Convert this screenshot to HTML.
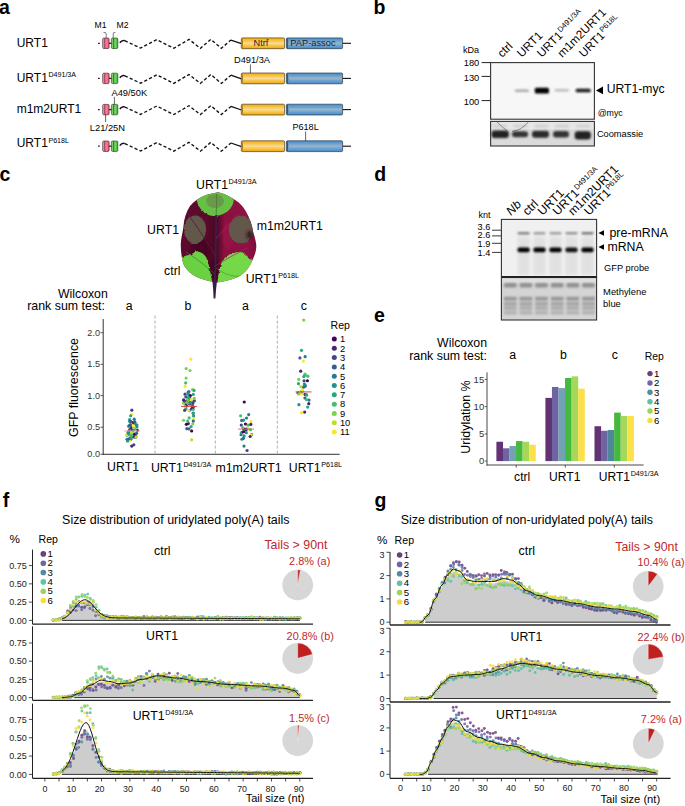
<!DOCTYPE html>
<html><head><meta charset="utf-8"><style>
html,body{margin:0;padding:0;background:#fff;}
svg{display:block;font-family:"Liberation Sans", sans-serif;}
</style></head><body>
<svg width="685" height="806" viewBox="0 0 685 806">
<defs>
<linearGradient id="gy" x1="0" y1="0" x2="0" y2="1">
 <stop offset="0" stop-color="#eeae1e"/><stop offset="0.25" stop-color="#f9c23a"/><stop offset="0.5" stop-color="#f7dc9e"/><stop offset="0.75" stop-color="#f9c23a"/><stop offset="1" stop-color="#e8a618"/></linearGradient>
<linearGradient id="gb" x1="0" y1="0" x2="0" y2="1">
 <stop offset="0" stop-color="#4e8cc4"/><stop offset="0.25" stop-color="#62a0d6"/><stop offset="0.5" stop-color="#9db5c6"/><stop offset="0.75" stop-color="#62a0d6"/><stop offset="1" stop-color="#4a88c0"/></linearGradient>
<linearGradient id="gp" x1="0" y1="0" x2="1" y2="0">
 <stop offset="0" stop-color="#f4a6b8"/><stop offset="0.28" stop-color="#f590a6"/><stop offset="0.3" stop-color="#e0587a"/><stop offset="0.6" stop-color="#f87c98"/><stop offset="1" stop-color="#e4587a"/></linearGradient>
<linearGradient id="gg" x1="0" y1="0" x2="1" y2="0">
 <stop offset="0" stop-color="#aee49e"/><stop offset="0.28" stop-color="#86d476"/><stop offset="0.3" stop-color="#42b036"/><stop offset="0.6" stop-color="#74d862"/><stop offset="1" stop-color="#40ac36"/></linearGradient>

<filter id="blur1" x="-50%" y="-200%" width="200%" height="500%"><feGaussianBlur stdDeviation="0.9 0.7"/></filter>
<filter id="blur2" x="-50%" y="-100%" width="200%" height="300%"><feGaussianBlur stdDeviation="1.2 1.0"/></filter>
<filter id="blur3" x="-50%" y="-50%" width="200%" height="200%"><feGaussianBlur stdDeviation="1.8"/></filter>
<filter id="blur05" x="-50%" y="-200%" width="200%" height="500%"><feGaussianBlur stdDeviation="1.0 0.8"/></filter>

<clipPath id="leafclip"><path d="M218.1 192.2 C222 193 226 194.5 230 197 C236 200 242 204 246 211.6 C250 219 252 225 253 231 C254.5 237 256.5 242 256.3 247 C256 253 253.5 258 251 263.5 C248 269 244 274 238 277 C231 280 224 281.5 216.7 282.5 C211 282 205 280 199 278 C192 275 186 270 183.5 264 C181.5 258 180.6 250 180.8 243.6 C181 237 183 232 183.5 226 C184 219 186 212 190 206 C194 201 200 197.5 206 195 C210 193.8 214 193 218.1 192.2 Z"/></clipPath>
<linearGradient id="leafbg" x1="0" y1="0" x2="1" y2="0"><stop offset="0" stop-color="#5a0c2e"/><stop offset="0.35" stop-color="#5c0a2a"/><stop offset="0.46" stop-color="#4a0822"/><stop offset="0.55" stop-color="#8a1040"/><stop offset="0.8" stop-color="#8e1244"/><stop offset="1" stop-color="#6a0c34"/></linearGradient>
<filter id="lf" x="-10%" y="-10%" width="120%" height="120%"><feTurbulence type="fractalNoise" baseFrequency="0.35" numOctaves="2" seed="3" result="n"/><feDisplacementMap in="SourceGraphic" in2="n" scale="2.6" xChannelSelector="R" yChannelSelector="G" result="d"/><feGaussianBlur in="d" stdDeviation="0.35"/></filter>
<filter id="lf2" x="-30%" y="-30%" width="160%" height="160%"><feGaussianBlur stdDeviation="1.6"/></filter>
</defs>
<rect width="685" height="806" fill="#fff"/>
<text x="-1" y="13.8" font-size="19.5" fill="#000" font-weight="bold">a</text>
<text x="373.6" y="13.6" font-size="19.5" fill="#000" font-weight="bold">b</text>
<text x="-0.6" y="181.3" font-size="19.5" fill="#000" font-weight="bold">c</text>
<text x="374.2" y="180.8" font-size="19.5" fill="#000" font-weight="bold">d</text>
<text x="374" y="322" font-size="19.5" fill="#000" font-weight="bold">e</text>
<text x="2.8" y="506.9" font-size="19.5" fill="#000" font-weight="bold">f</text>
<text x="374.4" y="506.9" font-size="19.5" fill="#000" font-weight="bold">g</text>
<text x="16.7" y="47.1" font-size="12.0">URT1</text>
<line x1="98" y1="43.3" x2="99.8" y2="43.3" stroke="#222" stroke-width="1.2"/>
<line x1="108.5" y1="43.3" x2="112" y2="43.3" stroke="#222" stroke-width="1.3"/>
<rect x="102.7" y="38.1" width="6.4" height="10.4" rx="1.1" fill="url(#gp)" stroke="#3a2228" stroke-width="0.65"/>
<path d="M104.7 38.4 Q104.1 43.3 104.7 48.2" fill="none" stroke="#5a1a2a" stroke-width="0.55"/>
<rect x="111.4" y="38.1" width="6.4" height="10.4" rx="1.1" fill="url(#gg)" stroke="#1e3a1e" stroke-width="0.65"/>
<path d="M113.4 38.4 Q112.8 43.3 113.4 48.2" fill="none" stroke="#1e4a1e" stroke-width="0.55"/>
<path d="M119.8 42.7 Q122 39.7 124.8 40.7" fill="none" stroke="#111" stroke-width="1.5"/>
<path d="M124.8 40.7 L140.6 48.1 L156.7 39.7 L173.8 48.3 L189 39.4 L200.4 48.3 L210.8 39.4 L221.3 48.3 L230.9 40.1" fill="none" stroke="#111" stroke-width="1.35" stroke-dasharray="3.2 2.2"/>
<line x1="230.9" y1="40.1" x2="241.5" y2="43.7" stroke="#111" stroke-width="1.3"/>
<rect x="241.3" y="37.9" width="43.3" height="10.8" rx="1.2" fill="url(#gy)" stroke="#3a2e18" stroke-width="0.65"/>
<path d="M241.6 38.3 L242.6 38.3 Q243.6 43.3 242.6 48.3 L241.6 48.3 Z" fill="#b07a10"/>
<rect x="286.4" y="37.9" width="56.2" height="10.8" rx="1.2" fill="url(#gb)" stroke="#1e2e40" stroke-width="0.65"/>
<path d="M286.7 38.3 L287.8 38.3 Q288.8 43.3 287.8 48.3 L286.7 48.3 Z" fill="#2a5a80"/>
<line x1="342.6" y1="43.3" x2="351" y2="43.3" stroke="#111" stroke-width="1.1"/>
<text x="16.7" y="81.8" font-size="12.0">URT1<tspan font-size="7.1" dx="0.6" dy="-4.5">D491/3A</tspan></text>
<line x1="98" y1="78.4" x2="99.8" y2="78.4" stroke="#222" stroke-width="1.2"/>
<line x1="108.5" y1="78.4" x2="112" y2="78.4" stroke="#222" stroke-width="1.3"/>
<rect x="102.7" y="73.2" width="6.4" height="10.4" rx="1.1" fill="url(#gp)" stroke="#3a2228" stroke-width="0.65"/>
<path d="M104.7 73.5 Q104.1 78.4 104.7 83.3" fill="none" stroke="#5a1a2a" stroke-width="0.55"/>
<rect x="111.4" y="73.2" width="6.4" height="10.4" rx="1.1" fill="url(#gg)" stroke="#1e3a1e" stroke-width="0.65"/>
<path d="M113.4 73.5 Q112.8 78.4 113.4 83.3" fill="none" stroke="#1e4a1e" stroke-width="0.55"/>
<path d="M119.8 77.8 Q122 74.8 124.8 75.8" fill="none" stroke="#111" stroke-width="1.5"/>
<path d="M124.8 75.8 L140.6 83.2 L156.7 74.8 L173.8 83.4 L189 74.5 L200.4 83.4 L210.8 74.5 L221.3 83.4 L230.9 75.2" fill="none" stroke="#111" stroke-width="1.35" stroke-dasharray="3.2 2.2"/>
<line x1="230.9" y1="75.2" x2="241.5" y2="78.8" stroke="#111" stroke-width="1.3"/>
<rect x="241.3" y="73" width="43.3" height="10.8" rx="1.2" fill="url(#gy)" stroke="#3a2e18" stroke-width="0.65"/>
<path d="M241.6 73.4 L242.6 73.4 Q243.6 78.4 242.6 83.4 L241.6 83.4 Z" fill="#b07a10"/>
<rect x="286.4" y="73" width="56.2" height="10.8" rx="1.2" fill="url(#gb)" stroke="#1e2e40" stroke-width="0.65"/>
<path d="M286.7 73.4 L287.8 73.4 Q288.8 78.4 287.8 83.4 L286.7 83.4 Z" fill="#2a5a80"/>
<line x1="342.6" y1="78.4" x2="351" y2="78.4" stroke="#111" stroke-width="1.1"/>
<text x="16.7" y="112.5" font-size="12.0">m1m2URT1</text>
<line x1="98" y1="109.6" x2="99.8" y2="109.6" stroke="#222" stroke-width="1.2"/>
<line x1="108.5" y1="109.6" x2="112" y2="109.6" stroke="#222" stroke-width="1.3"/>
<rect x="102.7" y="104.4" width="6.4" height="10.4" rx="1.1" fill="url(#gp)" stroke="#3a2228" stroke-width="0.65"/>
<path d="M104.7 104.7 Q104.1 109.6 104.7 114.5" fill="none" stroke="#5a1a2a" stroke-width="0.55"/>
<rect x="111.4" y="104.4" width="6.4" height="10.4" rx="1.1" fill="url(#gg)" stroke="#1e3a1e" stroke-width="0.65"/>
<path d="M113.4 104.7 Q112.8 109.6 113.4 114.5" fill="none" stroke="#1e4a1e" stroke-width="0.55"/>
<path d="M119.8 109 Q122 106 124.8 107" fill="none" stroke="#111" stroke-width="1.5"/>
<path d="M124.8 107 L140.6 114.4 L156.7 106 L173.8 114.6 L189 105.7 L200.4 114.6 L210.8 105.7 L221.3 114.6 L230.9 106.4" fill="none" stroke="#111" stroke-width="1.35" stroke-dasharray="3.2 2.2"/>
<line x1="230.9" y1="106.4" x2="241.5" y2="110" stroke="#111" stroke-width="1.3"/>
<rect x="241.3" y="104.2" width="43.3" height="10.8" rx="1.2" fill="url(#gy)" stroke="#3a2e18" stroke-width="0.65"/>
<path d="M241.6 104.6 L242.6 104.6 Q243.6 109.6 242.6 114.6 L241.6 114.6 Z" fill="#b07a10"/>
<rect x="286.4" y="104.2" width="56.2" height="10.8" rx="1.2" fill="url(#gb)" stroke="#1e2e40" stroke-width="0.65"/>
<path d="M286.7 104.6 L287.8 104.6 Q288.8 109.6 287.8 114.6 L286.7 114.6 Z" fill="#2a5a80"/>
<line x1="342.6" y1="109.6" x2="351" y2="109.6" stroke="#111" stroke-width="1.1"/>
<text x="16.7" y="147" font-size="12.0">URT1<tspan font-size="7.1" dx="0.6" dy="-4.5">P618L</tspan></text>
<line x1="98" y1="146.2" x2="99.8" y2="146.2" stroke="#222" stroke-width="1.2"/>
<line x1="108.5" y1="146.2" x2="112" y2="146.2" stroke="#222" stroke-width="1.3"/>
<rect x="102.7" y="141" width="6.4" height="10.4" rx="1.1" fill="url(#gp)" stroke="#3a2228" stroke-width="0.65"/>
<path d="M104.7 141.3 Q104.1 146.2 104.7 151.1" fill="none" stroke="#5a1a2a" stroke-width="0.55"/>
<rect x="111.4" y="141" width="6.4" height="10.4" rx="1.1" fill="url(#gg)" stroke="#1e3a1e" stroke-width="0.65"/>
<path d="M113.4 141.3 Q112.8 146.2 113.4 151.1" fill="none" stroke="#1e4a1e" stroke-width="0.55"/>
<path d="M119.8 145.6 Q122 142.6 124.8 143.6" fill="none" stroke="#111" stroke-width="1.5"/>
<path d="M124.8 143.6 L140.6 151 L156.7 142.6 L173.8 151.2 L189 142.3 L200.4 151.2 L210.8 142.3 L221.3 151.2 L230.9 143" fill="none" stroke="#111" stroke-width="1.35" stroke-dasharray="3.2 2.2"/>
<line x1="230.9" y1="143" x2="241.5" y2="146.6" stroke="#111" stroke-width="1.3"/>
<rect x="241.3" y="140.8" width="43.3" height="10.8" rx="1.2" fill="url(#gy)" stroke="#3a2e18" stroke-width="0.65"/>
<path d="M241.6 141.2 L242.6 141.2 Q243.6 146.2 242.6 151.2 L241.6 151.2 Z" fill="#b07a10"/>
<rect x="286.4" y="140.8" width="56.2" height="10.8" rx="1.2" fill="url(#gb)" stroke="#1e2e40" stroke-width="0.65"/>
<path d="M286.7 141.2 L287.8 141.2 Q288.8 146.2 287.8 151.2 L286.7 151.2 Z" fill="#2a5a80"/>
<line x1="342.6" y1="146.2" x2="351" y2="146.2" stroke="#111" stroke-width="1.1"/>
<text x="253.5" y="46" font-size="9.2" fill="#222">Ntrf</text>
<text x="290.3" y="46" font-size="9.3" fill="#222">PAP-assoc</text>
<text x="94.5" y="28.2" font-size="8.6">M1</text>
<text x="116.5" y="28.2" font-size="8.6">M2</text>
<path d="M103.6 32.6 L105.6 32.6 L106.2 34 L106.2 38" fill="none" stroke="#222" stroke-width="0.6"/>
<path d="M115.4 32.6 L113.8 32.6 L113.2 34 L113.2 38" fill="none" stroke="#222" stroke-width="0.6"/>
<text x="234" y="62.8" font-size="9.25">D491/3A</text>
<line x1="250.4" y1="64.5" x2="250.4" y2="73" stroke="#222" stroke-width="0.7"/>
<text x="111.5" y="95.8" font-size="9.3">A49/50K</text>
<line x1="114.4" y1="96.8" x2="114.4" y2="104.5" stroke="#222" stroke-width="0.7"/>
<text x="89.8" y="130.6" font-size="9.3">L21/25N</text>
<line x1="105.6" y1="114.7" x2="105.6" y2="122" stroke="#222" stroke-width="0.7"/>
<text x="292.4" y="129.8" font-size="9.1">P618L</text>
<line x1="305.6" y1="131.5" x2="305.6" y2="140.8" stroke="#222" stroke-width="0.7"/>
<text x="463.1" y="52.8" font-size="9">kDa</text>
<text x="479.3" y="65.6" font-size="9.3" text-anchor="end">180</text>
<line x1="481.6" y1="62.6" x2="490.6" y2="62.6" stroke="#222" stroke-width="1"/>
<text x="479.3" y="81.1" font-size="9.3" text-anchor="end">130</text>
<line x1="481.6" y1="76.4" x2="490.6" y2="76.4" stroke="#222" stroke-width="1"/>
<text x="479.3" y="105.4" font-size="9.3" text-anchor="end">100</text>
<line x1="481.6" y1="100.6" x2="490.6" y2="100.6" stroke="#222" stroke-width="1"/>
<rect x="490.6" y="62.6" width="103.8" height="56.6" fill="#f7f7f7"/>
<rect x="514.8" y="89.4" width="14.2" height="2.6" rx="1.5" fill="#888" opacity="0.7" filter="url(#blur05)"/>
<rect x="534.8" y="87.8" width="14.2" height="5.8" rx="1.5" fill="#000" opacity="1" filter="url(#blur05)"/>
<rect x="554.8" y="89" width="14.2" height="2.4" rx="1.5" fill="#999" opacity="0.65" filter="url(#blur05)"/>
<rect x="575.6" y="88.8" width="15.2" height="3.4" rx="1.5" fill="#111" opacity="0.95" filter="url(#blur05)"/>
<rect x="490.6" y="62.6" width="103.8" height="56.6" fill="none" stroke="#333" stroke-width="1.1"/>
<rect x="490.6" y="121.4" width="103.8" height="24.6" fill="#dadada"/>
<rect x="490.6" y="121.4" width="103.8" height="8" fill="#e6e6e6"/>
<rect x="491.5" y="130.6" width="17.4" height="7.4" rx="3" fill="#222" opacity="1" filter="url(#blur05)"/>
<rect x="512" y="131.2" width="16.1" height="6" rx="3" fill="#222" opacity="0.9" filter="url(#blur05)"/>
<rect x="532" y="130.8" width="17" height="7" rx="3" fill="#222" opacity="0.95" filter="url(#blur05)"/>
<rect x="553" y="131" width="16" height="6.4" rx="3" fill="#222" opacity="0.9" filter="url(#blur05)"/>
<rect x="574.7" y="131.2" width="16.1" height="8.2" rx="3" fill="#222" opacity="1" filter="url(#blur05)"/>
<rect x="493" y="124.5" width="14" height="3" fill="#bbb" opacity="0.5" filter="url(#blur2)"/>
<rect x="513.5" y="124.5" width="14" height="3" fill="#bbb" opacity="0.5" filter="url(#blur2)"/>
<rect x="534.5" y="124.5" width="14" height="3" fill="#bbb" opacity="0.5" filter="url(#blur2)"/>
<rect x="555" y="124.5" width="14" height="3" fill="#bbb" opacity="0.5" filter="url(#blur2)"/>
<rect x="576" y="124.5" width="14" height="3" fill="#bbb" opacity="0.5" filter="url(#blur2)"/>
<rect x="490.6" y="121.4" width="103.8" height="24.6" fill="none" stroke="#333" stroke-width="1.1"/>
<path d="M497 122 Q503 128 507.5 131" fill="none" stroke="#333" stroke-width="0.6" opacity="0.8"/>
<path d="M512 131.5 Q522 130 528.5 121.8" fill="none" stroke="#333" stroke-width="0.6" opacity="0.8"/>
<polygon points="596,90.4 603,86.6 603,94.2" fill="#000"/>
<text x="606.7" y="93.2" font-size="12.2">URT1-myc</text>
<text x="597.7" y="115.6" font-size="8.8">@myc</text>
<text x="596.9" y="136.7" font-size="9.25">Coomassie</text>
<text x="502.2" y="58" font-size="11.8" transform="rotate(-45 502.2 58)">ctrl</text>
<text x="521.7" y="58" font-size="11.8" transform="rotate(-45 521.7 58)">URT1</text>
<text x="541.7" y="58" font-size="11.8" transform="rotate(-45 541.7 58)">URT1<tspan font-size="7.6" dx="0.6" dy="-4.6">D491/3A</tspan></text>
<text x="562.2" y="58" font-size="11.8" transform="rotate(-45 562.2 58)">m1m2URT1</text>
<text x="583.7" y="58" font-size="11.8" transform="rotate(-45 583.7 58)">URT1<tspan font-size="7.6" dx="0.6" dy="-4.6">P618L</tspan></text>
<g clip-path="url(#leafclip)">
<rect x="175" y="188" width="90" height="100" fill="url(#leafbg)"/>
<g filter="url(#lf2)"><ellipse cx="200" cy="250" rx="10" ry="14" fill="#3a0620" opacity="0.6"/><ellipse cx="228" cy="236" rx="6" ry="14" fill="#a01448" opacity="0.4"/><ellipse cx="214" cy="268" rx="5" ry="10" fill="#3a0620" opacity="0.6"/></g>
<g filter="url(#lf)">
<path d="M196 196 C197 206 202 213 210 215.5 C216 217 224 215 229 210 C233 206 234 201 234 196 L234 188 L196 188 Z" fill="#66c044"/>
<ellipse cx="215" cy="201" rx="9" ry="7" fill="#6e8a4a" opacity="0.7"/>
<ellipse cx="195" cy="229.5" rx="11" ry="14" fill="#62584a"/>
<ellipse cx="241" cy="229.5" rx="12.2" ry="14" fill="#64564c"/>
<ellipse cx="249.5" cy="235" rx="3.2" ry="4" fill="#2a1814" opacity="0.85" filter="url(#lf2)"/>
<path d="M179 258 C184 256 189 255 192 254 C194 252 196 251 198 251.5 C201 252 204 254 206 257 C208 261 209 266 210 271 C211 276 212 280 213 286 L176 286 Z" fill="#6ad242"/>
<path d="M217 286 C218 278 219 270 221 264 C223 259 226 256 230 254.5 C234 253 237 251.5 240 252 C244 252.5 247 255 249 259 L262 262 L262 290 Z" fill="#74d84a"/>
</g>
<path d="M216.7 194 C216.5 205 216.3 212 216.2 216" fill="none" stroke="#4a7a3a" stroke-width="0.9"/><path d="M216.2 215 C216 240 215.6 258 215.3 268 C215.1 274 215 278 214.6 283" fill="none" stroke="#3c1c4c" stroke-width="1.9"/>
<path d="M215.5 256 C210 246 203 236 195 224 C192 220 190 217 188 214" fill="none" stroke="#5a1a48" stroke-width="0.9"/>
<path d="M216.3 238 C224 230 232 222 240.3 214" fill="none" stroke="#b0205a" stroke-width="0.8"/>
<path d="M215.4 266 C224 260 236 254 247.3 247.8" fill="none" stroke="#b0205a" stroke-width="0.7"/>
<path d="M214.8 274 C206 266 196 258 186 252" fill="none" stroke="#3a7030" stroke-width="0.6"/>
<path d="M216 268 C224 274 232 277 240 276" fill="none" stroke="#3a8030" stroke-width="0.5"/>
</g>
<path d="M212.4 281 L217 281 L216 290 L215.4 298.5 L213.6 298.5 L213.2 290 Z" fill="#3a1a4a"/>
<text x="196.1" y="189" font-size="12.3">URT1<tspan font-size="7.2" dx="0.6" dy="-4.6">D491/3A</tspan></text>
<text x="147.1" y="234.4" font-size="12.3">URT1</text>
<text x="256.7" y="229.6" font-size="12.3">m1m2URT1</text>
<text x="164.1" y="275" font-size="12.3">ctrl</text>
<text x="245.7" y="283" font-size="12.3">URT1<tspan font-size="7.2" dx="0.6" dy="-4.6">P618L</tspan></text>
<text x="107.8" y="297.6" font-size="12.3" text-anchor="end">Wilcoxon</text>
<text x="105" y="310" font-size="12.4" text-anchor="end">rank sum test:</text>
<text x="129.2" y="309.6" font-size="12.3" text-anchor="middle">a</text>
<text x="187.8" y="309.6" font-size="12.3" text-anchor="middle">b</text>
<text x="245.5" y="309.6" font-size="12.3" text-anchor="middle">a</text>
<text x="303.8" y="309.6" font-size="12.3" text-anchor="middle">c</text>
<line x1="103.2" y1="319" x2="103.2" y2="454.8" stroke="#333" stroke-width="1"/>
<line x1="102.7" y1="454.3" x2="339.7" y2="454.3" stroke="#333" stroke-width="1"/>
<text x="100" y="335.8" font-size="9.1" text-anchor="end" fill="#333">2.0</text>
<line x1="100.5" y1="332.7" x2="103.2" y2="332.7" stroke="#333" stroke-width="0.8"/>
<text x="100" y="367.4" font-size="9.1" text-anchor="end" fill="#333">1.5</text>
<line x1="100.5" y1="364.3" x2="103.2" y2="364.3" stroke="#333" stroke-width="0.8"/>
<text x="100" y="398.7" font-size="9.1" text-anchor="end" fill="#333">1.0</text>
<line x1="100.5" y1="395.6" x2="103.2" y2="395.6" stroke="#333" stroke-width="0.8"/>
<text x="100" y="430.3" font-size="9.1" text-anchor="end" fill="#333">0.5</text>
<line x1="100.5" y1="427.2" x2="103.2" y2="427.2" stroke="#333" stroke-width="0.8"/>
<text x="100" y="457.4" font-size="9.1" text-anchor="end" fill="#333">0.0</text>
<line x1="100.5" y1="454.3" x2="103.2" y2="454.3" stroke="#333" stroke-width="0.8"/>
<line x1="155" y1="315.6" x2="155" y2="454.3" stroke="#9a9a9a" stroke-width="0.8" stroke-dasharray="3 2"/>
<line x1="215.3" y1="315.6" x2="215.3" y2="454.3" stroke="#9a9a9a" stroke-width="0.8" stroke-dasharray="3 2"/>
<line x1="277.3" y1="315.6" x2="277.3" y2="454.3" stroke="#9a9a9a" stroke-width="0.8" stroke-dasharray="3 2"/>
<text transform="translate(77.9 387.5) rotate(-90)" font-size="12.4" text-anchor="middle">GFP fluorescence</text>
<circle cx="133.69" cy="436.82" r="1.6" fill="#482475"/>
<circle cx="132.93" cy="431.13" r="1.6" fill="#7ad151"/>
<circle cx="131.08" cy="439.07" r="1.6" fill="#355f8d"/>
<circle cx="135.66" cy="436.3" r="1.6" fill="#482475"/>
<circle cx="132.93" cy="422.57" r="1.6" fill="#440154"/>
<circle cx="137.33" cy="430.37" r="1.6" fill="#440154"/>
<circle cx="131.09" cy="434.04" r="1.6" fill="#7ad151"/>
<circle cx="135.54" cy="437.44" r="1.6" fill="#414487"/>
<circle cx="128.5" cy="434.24" r="1.6" fill="#482475"/>
<circle cx="127.07" cy="435.06" r="1.6" fill="#355f8d"/>
<circle cx="135.1" cy="429.67" r="1.6" fill="#44bf70"/>
<circle cx="129.76" cy="429.53" r="1.6" fill="#414487"/>
<circle cx="132.83" cy="430.77" r="1.6" fill="#7ad151"/>
<circle cx="131.43" cy="432.12" r="1.6" fill="#bddf26"/>
<circle cx="131.08" cy="428.77" r="1.6" fill="#21918c"/>
<circle cx="126.84" cy="434.67" r="1.6" fill="#fde725"/>
<circle cx="135.24" cy="434.74" r="1.6" fill="#21918c"/>
<circle cx="131.96" cy="434.03" r="1.6" fill="#44bf70"/>
<circle cx="129.42" cy="440.85" r="1.6" fill="#fde725"/>
<circle cx="129.87" cy="432.67" r="1.6" fill="#bddf26"/>
<circle cx="129.59" cy="419.51" r="1.6" fill="#22a884"/>
<circle cx="136.94" cy="427.01" r="1.6" fill="#21918c"/>
<circle cx="127.06" cy="439.27" r="1.6" fill="#2a788e"/>
<circle cx="130.78" cy="438.08" r="1.6" fill="#44bf70"/>
<circle cx="132.55" cy="436.11" r="1.6" fill="#414487"/>
<circle cx="129.52" cy="421.21" r="1.6" fill="#22a884"/>
<circle cx="130.66" cy="421.39" r="1.6" fill="#355f8d"/>
<circle cx="129" cy="438.73" r="1.6" fill="#355f8d"/>
<circle cx="128.44" cy="432.06" r="1.6" fill="#2a788e"/>
<circle cx="130.54" cy="437.49" r="1.6" fill="#bddf26"/>
<circle cx="136.02" cy="437.21" r="1.6" fill="#bddf26"/>
<circle cx="131.51" cy="424.94" r="1.6" fill="#fde725"/>
<circle cx="130.87" cy="427.58" r="1.6" fill="#482475"/>
<circle cx="128.53" cy="431.56" r="1.6" fill="#355f8d"/>
<circle cx="133.13" cy="435.84" r="1.6" fill="#482475"/>
<circle cx="127.54" cy="440.99" r="1.6" fill="#21918c"/>
<circle cx="128.73" cy="434.12" r="1.6" fill="#22a884"/>
<circle cx="130.29" cy="437.77" r="1.6" fill="#21918c"/>
<circle cx="131.87" cy="435.34" r="1.6" fill="#44bf70"/>
<circle cx="128.01" cy="432.72" r="1.6" fill="#21918c"/>
<circle cx="134.15" cy="427.21" r="1.6" fill="#7ad151"/>
<circle cx="132.32" cy="430.37" r="1.6" fill="#414487"/>
<circle cx="134.89" cy="422.23" r="1.6" fill="#2a788e"/>
<circle cx="134.2" cy="419.16" r="1.6" fill="#2a788e"/>
<circle cx="130.38" cy="424.52" r="1.6" fill="#355f8d"/>
<circle cx="130.09" cy="426.01" r="1.6" fill="#355f8d"/>
<circle cx="134.89" cy="424.85" r="1.6" fill="#355f8d"/>
<circle cx="134.69" cy="421.97" r="1.6" fill="#355f8d"/>
<circle cx="134.59" cy="434" r="1.6" fill="#440154"/>
<circle cx="128.57" cy="426.65" r="1.6" fill="#bddf26"/>
<circle cx="136.89" cy="424.82" r="1.6" fill="#21918c"/>
<circle cx="128.87" cy="425.91" r="1.6" fill="#355f8d"/>
<circle cx="131.81" cy="432.52" r="1.6" fill="#bddf26"/>
<circle cx="133.71" cy="425.9" r="1.6" fill="#fde725"/>
<circle cx="136.59" cy="433.32" r="1.6" fill="#355f8d"/>
<circle cx="131.82" cy="410.19" r="1.6" fill="#414487"/>
<circle cx="131.47" cy="414.6" r="1.6" fill="#fde725"/>
<circle cx="130.66" cy="415.86" r="1.6" fill="#22a884"/>
<circle cx="131.71" cy="446.1" r="1.6" fill="#482475"/>
<circle cx="133.8" cy="444.84" r="1.6" fill="#414487"/>
<line x1="124" y1="430.98" x2="140" y2="430.98" stroke="#f4a8a8" stroke-width="1"/>
<circle cx="190.02" cy="403.66" r="1.6" fill="#44bf70"/>
<circle cx="192.66" cy="405.44" r="1.6" fill="#44bf70"/>
<circle cx="189.54" cy="404" r="1.6" fill="#414487"/>
<circle cx="191.54" cy="408.89" r="1.6" fill="#482475"/>
<circle cx="188.26" cy="392.17" r="1.6" fill="#355f8d"/>
<circle cx="186.22" cy="403.23" r="1.6" fill="#2a788e"/>
<circle cx="187.05" cy="397.28" r="1.6" fill="#7ad151"/>
<circle cx="193.59" cy="415.97" r="1.6" fill="#21918c"/>
<circle cx="192.53" cy="389.56" r="1.6" fill="#7ad151"/>
<circle cx="189.02" cy="395.36" r="1.6" fill="#7ad151"/>
<circle cx="193.18" cy="413.03" r="1.6" fill="#414487"/>
<circle cx="185.08" cy="394.15" r="1.6" fill="#414487"/>
<circle cx="189.63" cy="399.01" r="1.6" fill="#21918c"/>
<circle cx="188.8" cy="398.63" r="1.6" fill="#482475"/>
<circle cx="185.54" cy="405.77" r="1.6" fill="#440154"/>
<circle cx="189.69" cy="396.89" r="1.6" fill="#482475"/>
<circle cx="189.06" cy="402.75" r="1.6" fill="#7ad151"/>
<circle cx="189.09" cy="417.89" r="1.6" fill="#44bf70"/>
<circle cx="189.26" cy="410.6" r="1.6" fill="#2a788e"/>
<circle cx="185.67" cy="382.88" r="1.6" fill="#44bf70"/>
<circle cx="188.35" cy="423.58" r="1.6" fill="#482475"/>
<circle cx="185.78" cy="401.6" r="1.6" fill="#2a788e"/>
<circle cx="185.13" cy="386.4" r="1.6" fill="#fde725"/>
<circle cx="193.29" cy="409.35" r="1.6" fill="#44bf70"/>
<circle cx="187.86" cy="399.71" r="1.6" fill="#44bf70"/>
<circle cx="185.91" cy="408.63" r="1.6" fill="#22a884"/>
<circle cx="188.12" cy="393.8" r="1.6" fill="#21918c"/>
<circle cx="183.62" cy="403.14" r="1.6" fill="#7ad151"/>
<circle cx="187.7" cy="399.97" r="1.6" fill="#7ad151"/>
<circle cx="184.12" cy="400.64" r="1.6" fill="#355f8d"/>
<circle cx="186.37" cy="402.21" r="1.6" fill="#440154"/>
<circle cx="191.86" cy="401.92" r="1.6" fill="#22a884"/>
<circle cx="194" cy="390.46" r="1.6" fill="#22a884"/>
<circle cx="189.79" cy="402.41" r="1.6" fill="#21918c"/>
<circle cx="191.11" cy="426.51" r="1.6" fill="#22a884"/>
<circle cx="183.59" cy="399.91" r="1.6" fill="#482475"/>
<circle cx="192.99" cy="407.2" r="1.6" fill="#482475"/>
<circle cx="183.53" cy="420.25" r="1.6" fill="#7ad151"/>
<circle cx="190.36" cy="395.49" r="1.6" fill="#440154"/>
<circle cx="184.63" cy="410.34" r="1.6" fill="#414487"/>
<circle cx="193.84" cy="418.77" r="1.6" fill="#fde725"/>
<circle cx="186.65" cy="402.52" r="1.6" fill="#7ad151"/>
<circle cx="192.4" cy="405.7" r="1.6" fill="#2a788e"/>
<circle cx="189.06" cy="428.9" r="1.6" fill="#355f8d"/>
<circle cx="188.41" cy="410.48" r="1.6" fill="#fde725"/>
<circle cx="188.94" cy="397.64" r="1.6" fill="#22a884"/>
<circle cx="185.81" cy="396.93" r="1.6" fill="#355f8d"/>
<circle cx="191.32" cy="399.63" r="1.6" fill="#fde725"/>
<circle cx="194.4" cy="400.83" r="1.6" fill="#414487"/>
<circle cx="193.25" cy="413.62" r="1.6" fill="#22a884"/>
<circle cx="192.82" cy="423.87" r="1.6" fill="#7ad151"/>
<circle cx="186.11" cy="405.45" r="1.6" fill="#2a788e"/>
<circle cx="186.41" cy="424.32" r="1.6" fill="#440154"/>
<circle cx="194.29" cy="398.32" r="1.6" fill="#7ad151"/>
<circle cx="193.28" cy="420.99" r="1.6" fill="#355f8d"/>
<circle cx="187.67" cy="421" r="1.6" fill="#44bf70"/>
<circle cx="186.18" cy="405.91" r="1.6" fill="#440154"/>
<circle cx="185.01" cy="406.61" r="1.6" fill="#bddf26"/>
<circle cx="186.81" cy="428.67" r="1.6" fill="#355f8d"/>
<circle cx="192.96" cy="403.1" r="1.6" fill="#414487"/>
<circle cx="193.25" cy="394.44" r="1.6" fill="#22a884"/>
<circle cx="188.93" cy="391.52" r="1.6" fill="#2a788e"/>
<circle cx="190.79" cy="359.16" r="1.6" fill="#fde725"/>
<circle cx="186.16" cy="368.61" r="1.6" fill="#7ad151"/>
<circle cx="190.02" cy="370.5" r="1.6" fill="#7ad151"/>
<circle cx="186.11" cy="378.06" r="1.6" fill="#7ad151"/>
<circle cx="191.02" cy="430.35" r="1.6" fill="#bddf26"/>
<circle cx="191.68" cy="430.98" r="1.6" fill="#440154"/>
<circle cx="191.61" cy="439.8" r="1.6" fill="#bddf26"/>
<line x1="181" y1="406.41" x2="197" y2="406.41" stroke="#e8433a" stroke-width="1"/>
<circle cx="251.11" cy="421.56" r="1.6" fill="#fde725"/>
<circle cx="241.89" cy="439.25" r="1.6" fill="#21918c"/>
<circle cx="245.46" cy="424.01" r="1.6" fill="#440154"/>
<circle cx="248.02" cy="425.17" r="1.6" fill="#44bf70"/>
<circle cx="241.19" cy="432.73" r="1.6" fill="#7ad151"/>
<circle cx="246.29" cy="428.92" r="1.6" fill="#44bf70"/>
<circle cx="243.37" cy="438.32" r="1.6" fill="#355f8d"/>
<circle cx="245.56" cy="430.47" r="1.6" fill="#22a884"/>
<circle cx="243.62" cy="428.96" r="1.6" fill="#440154"/>
<circle cx="241.27" cy="425.09" r="1.6" fill="#414487"/>
<circle cx="248.16" cy="429.01" r="1.6" fill="#bddf26"/>
<circle cx="241.08" cy="434.73" r="1.6" fill="#2a788e"/>
<circle cx="242.84" cy="427.75" r="1.6" fill="#44bf70"/>
<circle cx="245.6" cy="431.51" r="1.6" fill="#44bf70"/>
<circle cx="246.55" cy="418" r="1.6" fill="#2a788e"/>
<circle cx="240.6" cy="415.81" r="1.6" fill="#44bf70"/>
<circle cx="251.54" cy="434.68" r="1.6" fill="#2a788e"/>
<circle cx="250.82" cy="424.47" r="1.6" fill="#482475"/>
<circle cx="246.27" cy="432.7" r="1.6" fill="#21918c"/>
<circle cx="246.1" cy="429.44" r="1.6" fill="#482475"/>
<circle cx="250.45" cy="429.7" r="1.6" fill="#44bf70"/>
<circle cx="251.04" cy="435.11" r="1.6" fill="#fde725"/>
<circle cx="241.98" cy="432.28" r="1.6" fill="#21918c"/>
<circle cx="244.11" cy="435.9" r="1.6" fill="#21918c"/>
<circle cx="241.74" cy="420.41" r="1.6" fill="#355f8d"/>
<circle cx="243.65" cy="420.06" r="1.6" fill="#21918c"/>
<circle cx="250.14" cy="436.5" r="1.6" fill="#482475"/>
<circle cx="243.48" cy="431.77" r="1.6" fill="#440154"/>
<circle cx="244.25" cy="402" r="1.6" fill="#440154"/>
<circle cx="248.68" cy="414.6" r="1.6" fill="#2a788e"/>
<circle cx="247.08" cy="450.51" r="1.6" fill="#414487"/>
<circle cx="243.99" cy="446.1" r="1.6" fill="#2a788e"/>
<line x1="238" y1="429.09" x2="254" y2="429.09" stroke="#ee7068" stroke-width="1"/>
<circle cx="306.56" cy="395.27" r="1.6" fill="#22a884"/>
<circle cx="304.97" cy="374.14" r="1.6" fill="#7ad151"/>
<circle cx="298.45" cy="383.7" r="1.6" fill="#22a884"/>
<circle cx="305.12" cy="385.16" r="1.6" fill="#2a788e"/>
<circle cx="304.06" cy="380.83" r="1.6" fill="#414487"/>
<circle cx="301.24" cy="393.83" r="1.6" fill="#fde725"/>
<circle cx="301.27" cy="391.59" r="1.6" fill="#7ad151"/>
<circle cx="305.1" cy="394.44" r="1.6" fill="#482475"/>
<circle cx="303.47" cy="387.17" r="1.6" fill="#355f8d"/>
<circle cx="306.4" cy="394.51" r="1.6" fill="#22a884"/>
<circle cx="298.92" cy="404.65" r="1.6" fill="#21918c"/>
<circle cx="302.03" cy="392.51" r="1.6" fill="#bddf26"/>
<circle cx="307.65" cy="407.11" r="1.6" fill="#22a884"/>
<circle cx="302.12" cy="391.1" r="1.6" fill="#21918c"/>
<circle cx="304.33" cy="384.12" r="1.6" fill="#21918c"/>
<circle cx="304.95" cy="398.01" r="1.6" fill="#355f8d"/>
<circle cx="302.21" cy="389.95" r="1.6" fill="#fde725"/>
<circle cx="307.41" cy="380.77" r="1.6" fill="#440154"/>
<circle cx="306.45" cy="399.72" r="1.6" fill="#44bf70"/>
<circle cx="298.72" cy="379.47" r="1.6" fill="#7ad151"/>
<circle cx="300.68" cy="371.2" r="1.6" fill="#482475"/>
<circle cx="308.79" cy="403.67" r="1.6" fill="#482475"/>
<circle cx="305.15" cy="374.88" r="1.6" fill="#44bf70"/>
<circle cx="297.92" cy="392.8" r="1.6" fill="#414487"/>
<circle cx="305.13" cy="386.3" r="1.6" fill="#2a788e"/>
<circle cx="303.82" cy="376.54" r="1.6" fill="#22a884"/>
<circle cx="298.69" cy="393.95" r="1.6" fill="#7ad151"/>
<circle cx="300.82" cy="386.69" r="1.6" fill="#bddf26"/>
<circle cx="309.06" cy="400.03" r="1.6" fill="#2a788e"/>
<circle cx="307.8" cy="376.22" r="1.6" fill="#44bf70"/>
<circle cx="303.71" cy="320.1" r="1.6" fill="#7ad151"/>
<circle cx="301.48" cy="350.34" r="1.6" fill="#22a884"/>
<circle cx="305.14" cy="356.64" r="1.6" fill="#2a788e"/>
<circle cx="299.94" cy="357.9" r="1.6" fill="#355f8d"/>
<circle cx="303.49" cy="361.05" r="1.6" fill="#fde725"/>
<circle cx="304.68" cy="412.08" r="1.6" fill="#482475"/>
<circle cx="301.56" cy="412.71" r="1.6" fill="#fde725"/>
<line x1="295.5" y1="391.92" x2="311.5" y2="391.92" stroke="#e8433a" stroke-width="1"/>
<text x="107.1" y="471" font-size="12.3">URT1</text>
<text x="150.9" y="472" font-size="12.3">URT1<tspan font-size="7.2" dx="0.6" dy="-4.6">D491/3A</tspan></text>
<text x="215.5" y="472" font-size="12.3">m1m2URT1</text>
<text x="288.8" y="472" font-size="12.3">URT1<tspan font-size="7.2" dx="0.6" dy="-4.6">P618L</tspan></text>
<text x="330.5" y="329" font-size="10.6">Rep</text>
<circle cx="334.3" cy="339" r="2.5" fill="#440154"/>
<text x="339.9" y="342.3" font-size="9.4">1</text>
<circle cx="334.3" cy="348.31" r="2.5" fill="#482475"/>
<text x="339.9" y="351.61" font-size="9.4">2</text>
<circle cx="334.3" cy="357.62" r="2.5" fill="#414487"/>
<text x="339.9" y="360.92" font-size="9.4">3</text>
<circle cx="334.3" cy="366.93" r="2.5" fill="#355f8d"/>
<text x="339.9" y="370.23" font-size="9.4">4</text>
<circle cx="334.3" cy="376.24" r="2.5" fill="#2a788e"/>
<text x="339.9" y="379.54" font-size="9.4">5</text>
<circle cx="334.3" cy="385.55" r="2.5" fill="#21918c"/>
<text x="339.9" y="388.85" font-size="9.4">6</text>
<circle cx="334.3" cy="394.86" r="2.5" fill="#22a884"/>
<text x="339.9" y="398.16" font-size="9.4">7</text>
<circle cx="334.3" cy="404.17" r="2.5" fill="#44bf70"/>
<text x="339.9" y="407.47" font-size="9.4">8</text>
<circle cx="334.3" cy="413.48" r="2.5" fill="#7ad151"/>
<text x="339.9" y="416.78" font-size="9.4">9</text>
<circle cx="334.3" cy="422.79" r="2.5" fill="#bddf26"/>
<text x="339.9" y="426.09" font-size="9.4">10</text>
<circle cx="334.3" cy="432.1" r="2.5" fill="#fde725"/>
<text x="339.9" y="435.4" font-size="9.4">11</text>
<text x="478.6" y="217.6" font-size="9">knt</text>
<text x="490.4" y="229.6" font-size="9.2" text-anchor="end">3.6</text>
<line x1="492" y1="230.2" x2="501.4" y2="230.2" stroke="#222" stroke-width="0.9"/>
<text x="490.4" y="237.8" font-size="9.2" text-anchor="end">2.6</text>
<line x1="492" y1="235.9" x2="501.4" y2="235.9" stroke="#222" stroke-width="0.9"/>
<text x="490.4" y="246.7" font-size="9.2" text-anchor="end">1.9</text>
<line x1="492" y1="243.3" x2="501.4" y2="243.3" stroke="#222" stroke-width="0.9"/>
<text x="490.4" y="255.8" font-size="9.2" text-anchor="end">1.4</text>
<line x1="492" y1="252.4" x2="501.4" y2="252.4" stroke="#222" stroke-width="0.9"/>
<rect x="501.4" y="219.4" width="95.2" height="57.6" fill="#f0f0f0"/>
<rect x="517.6" y="237" width="12" height="38" fill="#d4d4d4" opacity="0.55" filter="url(#blur3)"/>
<rect x="533.5" y="237" width="12" height="38" fill="#d4d4d4" opacity="0.55" filter="url(#blur3)"/>
<rect x="549.5" y="237" width="12" height="38" fill="#d4d4d4" opacity="0.55" filter="url(#blur3)"/>
<rect x="565.5" y="237" width="12" height="38" fill="#d4d4d4" opacity="0.55" filter="url(#blur3)"/>
<rect x="581.5" y="237" width="12" height="38" fill="#d4d4d4" opacity="0.55" filter="url(#blur3)"/>
<rect x="517.6" y="232" width="12" height="2.5" rx="1" fill="#333" opacity="0.6" filter="url(#blur05)"/>
<rect x="517.5" y="247.6" width="12.2" height="4.6" rx="2" fill="#000" opacity="1" filter="url(#blur05)"/>
<rect x="533.5" y="232" width="12" height="2.5" rx="1" fill="#333" opacity="0.45" filter="url(#blur05)"/>
<rect x="533.4" y="247.6" width="12.2" height="4.6" rx="2" fill="#000" opacity="1" filter="url(#blur05)"/>
<rect x="549.5" y="232" width="12" height="2.5" rx="1" fill="#333" opacity="0.45" filter="url(#blur05)"/>
<rect x="549.4" y="247.6" width="12.2" height="4.6" rx="2" fill="#000" opacity="1" filter="url(#blur05)"/>
<rect x="565.5" y="232" width="12" height="2.5" rx="1" fill="#333" opacity="0.5" filter="url(#blur05)"/>
<rect x="565.4" y="247.6" width="12.2" height="4.6" rx="2" fill="#000" opacity="0.92" filter="url(#blur05)"/>
<rect x="581.5" y="232" width="12" height="2.5" rx="1" fill="#333" opacity="0.65" filter="url(#blur05)"/>
<rect x="581.4" y="247.6" width="12.2" height="4.6" rx="2" fill="#000" opacity="1" filter="url(#blur05)"/>
<rect x="501.4" y="277.5" width="95.2" height="42.5" fill="#d4d4d4"/>
<rect x="501.4" y="279" width="95.2" height="4" fill="#dedede"/>
<rect x="504.0" y="283" width="12.6" height="4.6" rx="1.5" fill="#8a8a8a" opacity="0.9" filter="url(#blur05)"/>
<rect x="504.0" y="296.5" width="12.6" height="18" fill="#bdbdbd" opacity="0.8" filter="url(#blur05)"/>
<rect x="504.0" y="297.1" width="12.6" height="3" fill="#777" opacity="0.6" filter="url(#blur05)"/>
<rect x="504.0" y="302.6" width="12.6" height="2.6" fill="#777" opacity="0.45" filter="url(#blur05)"/>
<rect x="504.0" y="306.9" width="12.6" height="2.2" fill="#777" opacity="0.35" filter="url(#blur05)"/>
<rect x="504.0" y="311.9" width="12.6" height="1.8" fill="#777" opacity="0.3" filter="url(#blur05)"/>
<rect x="519.6" y="283" width="12.6" height="4.6" rx="1.5" fill="#8a8a8a" opacity="0.9" filter="url(#blur05)"/>
<rect x="519.6" y="296.5" width="12.6" height="18" fill="#bdbdbd" opacity="0.8" filter="url(#blur05)"/>
<rect x="519.6" y="297.1" width="12.6" height="3" fill="#777" opacity="0.6" filter="url(#blur05)"/>
<rect x="519.6" y="302.6" width="12.6" height="2.6" fill="#777" opacity="0.45" filter="url(#blur05)"/>
<rect x="519.6" y="306.9" width="12.6" height="2.2" fill="#777" opacity="0.35" filter="url(#blur05)"/>
<rect x="519.6" y="311.9" width="12.6" height="1.8" fill="#777" opacity="0.3" filter="url(#blur05)"/>
<rect x="535.2" y="283" width="12.6" height="4.6" rx="1.5" fill="#8a8a8a" opacity="0.9" filter="url(#blur05)"/>
<rect x="535.2" y="296.5" width="12.6" height="18" fill="#bdbdbd" opacity="0.8" filter="url(#blur05)"/>
<rect x="535.2" y="297.1" width="12.6" height="3" fill="#777" opacity="0.6" filter="url(#blur05)"/>
<rect x="535.2" y="302.6" width="12.6" height="2.6" fill="#777" opacity="0.45" filter="url(#blur05)"/>
<rect x="535.2" y="306.9" width="12.6" height="2.2" fill="#777" opacity="0.35" filter="url(#blur05)"/>
<rect x="535.2" y="311.9" width="12.6" height="1.8" fill="#777" opacity="0.3" filter="url(#blur05)"/>
<rect x="550.9000000000001" y="283" width="12.6" height="4.6" rx="1.5" fill="#8a8a8a" opacity="0.9" filter="url(#blur05)"/>
<rect x="550.9000000000001" y="296.5" width="12.6" height="18" fill="#bdbdbd" opacity="0.8" filter="url(#blur05)"/>
<rect x="550.9000000000001" y="297.1" width="12.6" height="3" fill="#777" opacity="0.6" filter="url(#blur05)"/>
<rect x="550.9000000000001" y="302.6" width="12.6" height="2.6" fill="#777" opacity="0.45" filter="url(#blur05)"/>
<rect x="550.9000000000001" y="306.9" width="12.6" height="2.2" fill="#777" opacity="0.35" filter="url(#blur05)"/>
<rect x="550.9000000000001" y="311.9" width="12.6" height="1.8" fill="#777" opacity="0.3" filter="url(#blur05)"/>
<rect x="566.5" y="283" width="12.6" height="4.6" rx="1.5" fill="#8a8a8a" opacity="0.9" filter="url(#blur05)"/>
<rect x="566.5" y="296.5" width="12.6" height="18" fill="#bdbdbd" opacity="0.8" filter="url(#blur05)"/>
<rect x="566.5" y="297.1" width="12.6" height="3" fill="#777" opacity="0.6" filter="url(#blur05)"/>
<rect x="566.5" y="302.6" width="12.6" height="2.6" fill="#777" opacity="0.45" filter="url(#blur05)"/>
<rect x="566.5" y="306.9" width="12.6" height="2.2" fill="#777" opacity="0.35" filter="url(#blur05)"/>
<rect x="566.5" y="311.9" width="12.6" height="1.8" fill="#777" opacity="0.3" filter="url(#blur05)"/>
<rect x="582.2" y="283" width="12.6" height="4.6" rx="1.5" fill="#8a8a8a" opacity="0.9" filter="url(#blur05)"/>
<rect x="582.2" y="296.5" width="12.6" height="18" fill="#bdbdbd" opacity="0.8" filter="url(#blur05)"/>
<rect x="582.2" y="297.1" width="12.6" height="3" fill="#777" opacity="0.6" filter="url(#blur05)"/>
<rect x="582.2" y="302.6" width="12.6" height="2.6" fill="#777" opacity="0.45" filter="url(#blur05)"/>
<rect x="582.2" y="306.9" width="12.6" height="2.2" fill="#777" opacity="0.35" filter="url(#blur05)"/>
<rect x="582.2" y="311.9" width="12.6" height="1.8" fill="#777" opacity="0.3" filter="url(#blur05)"/>
<rect x="501.4" y="219.4" width="95.2" height="100.6" fill="none" stroke="#333" stroke-width="1.1"/>
<line x1="501.4" y1="277" x2="596.6" y2="277" stroke="#222" stroke-width="2"/>
<polygon points="598.4,233 604,230.2 604,235.8" fill="#000"/>
<polygon points="598.4,247 604,244.2 604,249.8" fill="#000"/>
<text x="609.4" y="237.2" font-size="12.4">pre-mRNA</text>
<text x="607.5" y="250.8" font-size="12.3">mRNA</text>
<text x="604.1" y="270.6" font-size="9.25">GFP probe</text>
<text x="603.1" y="295.2" font-size="9.4">Methylene</text>
<text x="603.1" y="306.6" font-size="9.4">blue</text>
<text x="511" y="216" font-size="12.1" transform="rotate(-45 511 216)"><tspan font-style="italic">Nb</tspan></text>
<text x="527.5" y="216" font-size="12.1" transform="rotate(-45 527.5 216)">ctrl</text>
<text x="542.5" y="216" font-size="12.1" transform="rotate(-45 542.5 216)">URT1</text>
<text x="557.5" y="216" font-size="12.1" transform="rotate(-45 557.5 216)">URT1<tspan font-size="7.6" dx="0.6" dy="-4.4">D491/3A</tspan></text>
<text x="573" y="216" font-size="12.1" transform="rotate(-45 573 216)">m1m2URT1</text>
<text x="589" y="216" font-size="12.1" transform="rotate(-45 589 216)">URT1<tspan font-size="7.6" dx="0.6" dy="-4.4">P618L</tspan></text>
<text x="487" y="347" font-size="12.3" text-anchor="end">Wilcoxon</text>
<text x="487" y="359.6" font-size="12.4" text-anchor="end">rank sum test:</text>
<text x="512.7" y="359.4" font-size="12.3" text-anchor="middle">a</text>
<text x="563.5" y="359.4" font-size="12.3" text-anchor="middle">b</text>
<text x="614.8" y="359.4" font-size="12.3" text-anchor="middle">c</text>
<line x1="487" y1="372.4" x2="487" y2="465.5" stroke="#333" stroke-width="0.9"/>
<line x1="486.5" y1="465" x2="643.6" y2="465" stroke="#333" stroke-width="0.9"/>
<text x="484.2" y="382.7" font-size="9.5" text-anchor="end" fill="#333">15</text>
<line x1="484.8" y1="379.4" x2="487" y2="379.4" stroke="#333" stroke-width="0.8"/>
<text x="484.2" y="409.9" font-size="9.5" text-anchor="end" fill="#333">10</text>
<line x1="484.8" y1="406.6" x2="487" y2="406.6" stroke="#333" stroke-width="0.8"/>
<text x="484.2" y="437.3" font-size="9.5" text-anchor="end" fill="#333">5</text>
<line x1="484.8" y1="434" x2="487" y2="434" stroke="#333" stroke-width="0.8"/>
<text x="484.2" y="464.4" font-size="9.5" text-anchor="end" fill="#333">0</text>
<line x1="484.8" y1="461.1" x2="487" y2="461.1" stroke="#333" stroke-width="0.8"/>
<line x1="516.2" y1="465" x2="516.2" y2="467.6" stroke="#333" stroke-width="0.8"/>
<line x1="565.3" y1="465" x2="565.3" y2="467.6" stroke="#333" stroke-width="0.8"/>
<line x1="614.3" y1="465" x2="614.3" y2="467.6" stroke="#333" stroke-width="0.8"/>
<text transform="translate(469.7 417) rotate(-90)" font-size="12.45" text-anchor="middle">Uridylation %</text>
<rect x="496.4" y="441.75" width="6.6" height="19.35" fill="#633274"/>
<rect x="502.95" y="448.29" width="6.6" height="12.81" fill="#6f64a2"/>
<rect x="509.5" y="446" width="6.6" height="15.1" fill="#74a2b5"/>
<rect x="516.05" y="441.1" width="6.6" height="20" fill="#45b93e"/>
<rect x="522.6" y="441.75" width="6.6" height="19.35" fill="#a5d85a"/>
<rect x="529.15" y="444.75" width="6.6" height="16.35" fill="#fbe04a"/>
<rect x="545.4" y="397.88" width="6.6" height="63.22" fill="#633274"/>
<rect x="551.95" y="386.98" width="6.6" height="74.12" fill="#6f64a2"/>
<rect x="558.5" y="388.07" width="6.6" height="73.03" fill="#74a2b5"/>
<rect x="565.05" y="377.99" width="6.6" height="83.11" fill="#45b93e"/>
<rect x="571.6" y="376.35" width="6.6" height="84.75" fill="#a5d85a"/>
<rect x="578.15" y="388.62" width="6.6" height="72.48" fill="#fbe04a"/>
<rect x="594.5" y="426.22" width="6.6" height="34.88" fill="#633274"/>
<rect x="601.05" y="430.8" width="6.6" height="30.3" fill="#6f64a2"/>
<rect x="607.6" y="430.04" width="6.6" height="31.07" fill="#4e8799"/>
<rect x="614.15" y="412.6" width="6.6" height="48.51" fill="#45b93e"/>
<rect x="620.7" y="416.03" width="6.6" height="45.07" fill="#a5d85a"/>
<rect x="627.25" y="416.03" width="6.6" height="45.07" fill="#fbe04a"/>
<text x="514.1" y="481" font-size="12.1">ctrl</text>
<text x="549.1" y="481" font-size="12.1">URT1</text>
<text x="598.7" y="481" font-size="12.1">URT1<tspan font-size="7.2" dx="0.6" dy="-4.6">D491/3A</tspan></text>
<text x="644.7" y="360" font-size="10.4">Rep</text>
<circle cx="650" cy="373.6" r="2.7" fill="#6b3f80"/>
<text x="654.1" y="376.9" font-size="9.6">1</text>
<circle cx="650" cy="382.96" r="2.7" fill="#6e65a8"/>
<text x="654.1" y="386.26" font-size="9.6">2</text>
<circle cx="650" cy="392.32" r="2.7" fill="#4f8ca3"/>
<text x="654.1" y="395.62" font-size="9.6">3</text>
<circle cx="650" cy="401.68" r="2.7" fill="#5bc4a6"/>
<text x="654.1" y="404.98" font-size="9.6">4</text>
<circle cx="650" cy="411.04" r="2.7" fill="#9bd45a"/>
<text x="654.1" y="414.34" font-size="9.6">5</text>
<circle cx="650" cy="420.4" r="2.7" fill="#f9dd3e"/>
<text x="654.1" y="423.7" font-size="9.6">6</text>
<text x="62.1" y="524" font-size="12.45">Size distribution of uridylated poly(A) tails</text>
<text x="9.5" y="543.2" font-size="11.7">%</text>
<text x="38.5" y="543.2" font-size="10.6">Rep</text>
<text x="264.4" y="548.8" font-size="12.4" fill="#c0282d">Tails &gt; 90nt</text>
<line x1="32.5" y1="549.6" x2="32.5" y2="624.2" stroke="#222" stroke-width="1"/>
<line x1="28.9" y1="620.4" x2="32.5" y2="620.4" stroke="#222" stroke-width="0.8"/>
<text x="26.9" y="623.5" font-size="9" text-anchor="end" fill="#222">0.00</text>
<line x1="28.9" y1="602.12" x2="32.5" y2="602.12" stroke="#222" stroke-width="0.8"/>
<text x="26.9" y="605.23" font-size="9" text-anchor="end" fill="#222">0.25</text>
<line x1="28.9" y1="583.85" x2="32.5" y2="583.85" stroke="#222" stroke-width="0.8"/>
<text x="26.9" y="586.95" font-size="9" text-anchor="end" fill="#222">0.50</text>
<line x1="28.9" y1="565.57" x2="32.5" y2="565.57" stroke="#222" stroke-width="0.8"/>
<text x="26.9" y="568.67" font-size="9" text-anchor="end" fill="#222">0.75</text>
<path d="M61.89 620.4 L61.89 618.54 L64.72 617.29 L67.56 613.61 L70.39 611.19 L73.22 607.97 L76.05 605.9 L78.88 605.03 L81.72 604.39 L84.55 604.34 L87.38 604.77 L90.21 605.67 L93.04 607.97 L95.88 611.66 L98.71 613.75 L101.54 616.05 L104.37 616.67 L107.2 617.29 L110.04 617.33 L112.87 617.42 L115.7 617.55 L118.53 617.7 L121.36 617.85 L124.2 617.97 L127.03 618.07 L129.86 618.1 L132.69 618.1 L135.52 618.11 L138.36 618.11 L141.19 618.12 L144.02 618.13 L146.85 618.15 L149.68 618.16 L152.52 618.18 L155.35 618.19 L158.18 618.21 L161.01 618.23 L163.84 618.25 L166.68 618.28 L169.51 618.3 L172.34 618.32 L175.17 618.34 L178 618.36 L180.84 618.38 L183.67 618.4 L186.5 618.42 L189.33 618.44 L192.16 618.46 L195 618.48 L197.83 618.49 L200.66 618.5 L203.49 618.51 L206.32 618.52 L209.16 618.53 L211.99 618.53 L214.82 618.54 L217.65 618.54 L220.48 618.54 L223.32 618.54 L226.15 618.55 L228.98 618.56 L231.81 618.57 L234.64 618.58 L237.48 618.59 L240.31 618.6 L243.14 618.62 L245.97 618.63 L248.8 618.65 L251.64 618.66 L254.47 618.68 L257.3 618.69 L260.13 618.71 L262.96 618.72 L265.8 618.74 L268.63 618.75 L271.46 618.77 L274.29 618.78 L277.12 618.79 L279.96 618.8 L282.79 618.81 L285.62 618.82 L288.45 618.83 L291.28 618.84 L294.12 618.84 L296.95 618.85 L299.78 618.85 L299.78 620.4 Z" fill="#cdcdcd"/>
<line x1="61.89" y1="620.4" x2="299.78" y2="620.4" stroke="#333" stroke-width="1"/>
<g fill="#6a3d7c" fill-opacity="0.85">
<circle cx="53.39" cy="620.4" r="1.45"/>
<circle cx="56.35" cy="619.65" r="1.45"/>
<circle cx="59" cy="619.76" r="1.45"/>
<circle cx="61.6" cy="618.7" r="1.45"/>
<circle cx="64.46" cy="617.06" r="1.45"/>
<circle cx="67.55" cy="611.01" r="1.45"/>
<circle cx="70.2" cy="610.7" r="1.45"/>
<circle cx="73.2" cy="606.08" r="1.45"/>
<circle cx="75.82" cy="606.18" r="1.45"/>
<circle cx="78.96" cy="601.59" r="1.45"/>
<circle cx="81.71" cy="607.37" r="1.45"/>
<circle cx="84.79" cy="606.9" r="1.45"/>
<circle cx="87.63" cy="602.45" r="1.45"/>
<circle cx="89.94" cy="604.88" r="1.45"/>
<circle cx="92.99" cy="606" r="1.45"/>
<circle cx="96" cy="611.41" r="1.45"/>
<circle cx="98.84" cy="613.3" r="1.45"/>
<circle cx="101.43" cy="614.41" r="1.45"/>
<circle cx="104.17" cy="615.78" r="1.45"/>
<circle cx="107.02" cy="616.56" r="1.45"/>
<circle cx="110.02" cy="617.24" r="1.45"/>
<circle cx="112.76" cy="617.52" r="1.45"/>
<circle cx="115.99" cy="617.23" r="1.45"/>
<circle cx="118.5" cy="618.38" r="1.45"/>
<circle cx="121.11" cy="617.2" r="1.45"/>
<circle cx="124.15" cy="617.39" r="1.45"/>
<circle cx="127.18" cy="617.07" r="1.45"/>
<circle cx="129.79" cy="618.21" r="1.45"/>
<circle cx="132.87" cy="617.64" r="1.45"/>
<circle cx="135.28" cy="618.22" r="1.45"/>
<circle cx="138.38" cy="617.82" r="1.45"/>
<circle cx="141.16" cy="618.1" r="1.45"/>
<circle cx="144" cy="618.17" r="1.45"/>
<circle cx="146.93" cy="616.87" r="1.45"/>
<circle cx="149.63" cy="617.76" r="1.45"/>
<circle cx="152.44" cy="616.95" r="1.45"/>
<circle cx="155.09" cy="618.86" r="1.45"/>
<circle cx="158" cy="617.59" r="1.45"/>
<circle cx="160.93" cy="617.1" r="1.45"/>
<circle cx="163.74" cy="617.56" r="1.45"/>
<circle cx="166.82" cy="617.73" r="1.45"/>
<circle cx="169.62" cy="617.98" r="1.45"/>
<circle cx="172.47" cy="617.51" r="1.45"/>
<circle cx="175.23" cy="618.2" r="1.45"/>
<circle cx="177.74" cy="617.51" r="1.45"/>
<circle cx="181.03" cy="619.37" r="1.45"/>
<circle cx="183.65" cy="617.32" r="1.45"/>
<circle cx="186.67" cy="617.49" r="1.45"/>
<circle cx="189.52" cy="617.77" r="1.45"/>
<circle cx="191.94" cy="619.37" r="1.45"/>
<circle cx="195.25" cy="618.21" r="1.45"/>
<circle cx="197.71" cy="618.15" r="1.45"/>
<circle cx="200.5" cy="618.29" r="1.45"/>
<circle cx="203.71" cy="618.49" r="1.45"/>
<circle cx="206.38" cy="619.18" r="1.45"/>
<circle cx="209.16" cy="617.95" r="1.45"/>
<circle cx="211.93" cy="618.47" r="1.45"/>
<circle cx="214.91" cy="617.99" r="1.45"/>
<circle cx="217.45" cy="618.93" r="1.45"/>
<circle cx="220.44" cy="618.13" r="1.45"/>
<circle cx="223.39" cy="618.04" r="1.45"/>
<circle cx="225.97" cy="618.09" r="1.45"/>
<circle cx="229.26" cy="619.74" r="1.45"/>
<circle cx="231.62" cy="617.43" r="1.45"/>
<circle cx="234.88" cy="617.83" r="1.45"/>
<circle cx="237.32" cy="617.8" r="1.45"/>
<circle cx="240.46" cy="619.24" r="1.45"/>
<circle cx="243.31" cy="618.54" r="1.45"/>
<circle cx="245.83" cy="618.44" r="1.45"/>
<circle cx="248.66" cy="617.89" r="1.45"/>
<circle cx="251.45" cy="618.39" r="1.45"/>
<circle cx="254.31" cy="617.76" r="1.45"/>
<circle cx="257.11" cy="618.63" r="1.45"/>
<circle cx="259.87" cy="617.2" r="1.45"/>
<circle cx="262.98" cy="618.43" r="1.45"/>
<circle cx="265.89" cy="618.02" r="1.45"/>
<circle cx="268.35" cy="617.95" r="1.45"/>
<circle cx="271.16" cy="618.11" r="1.45"/>
<circle cx="274.26" cy="618.19" r="1.45"/>
<circle cx="277.05" cy="618.78" r="1.45"/>
<circle cx="279.69" cy="618.23" r="1.45"/>
<circle cx="282.85" cy="618.82" r="1.45"/>
<circle cx="285.37" cy="618.37" r="1.45"/>
<circle cx="288.46" cy="618.88" r="1.45"/>
<circle cx="291.45" cy="618.23" r="1.45"/>
<circle cx="294.21" cy="617.89" r="1.45"/>
<circle cx="297.07" cy="617.78" r="1.45"/>
<circle cx="299.69" cy="618.54" r="1.45"/>
</g>
<g fill="#6b63a6" fill-opacity="0.85">
<circle cx="53.12" cy="619.64" r="1.45"/>
<circle cx="56.53" cy="619.75" r="1.45"/>
<circle cx="59.31" cy="618.9" r="1.45"/>
<circle cx="62.08" cy="618" r="1.45"/>
<circle cx="64.65" cy="616.48" r="1.45"/>
<circle cx="67.63" cy="613.11" r="1.45"/>
<circle cx="70.39" cy="612.61" r="1.45"/>
<circle cx="73.21" cy="610.03" r="1.45"/>
<circle cx="76.15" cy="610.58" r="1.45"/>
<circle cx="78.68" cy="606.14" r="1.45"/>
<circle cx="81.65" cy="609.8" r="1.45"/>
<circle cx="84.41" cy="607.76" r="1.45"/>
<circle cx="87.33" cy="604.8" r="1.45"/>
<circle cx="89.94" cy="608.46" r="1.45"/>
<circle cx="92.99" cy="610.26" r="1.45"/>
<circle cx="95.59" cy="615.77" r="1.45"/>
<circle cx="98.79" cy="614.73" r="1.45"/>
<circle cx="101.47" cy="616.84" r="1.45"/>
<circle cx="104.33" cy="617.51" r="1.45"/>
<circle cx="107" cy="615.82" r="1.45"/>
<circle cx="110.08" cy="616.57" r="1.45"/>
<circle cx="112.79" cy="616.71" r="1.45"/>
<circle cx="115.43" cy="617" r="1.45"/>
<circle cx="118.32" cy="617.54" r="1.45"/>
<circle cx="121.41" cy="617.18" r="1.45"/>
<circle cx="124.45" cy="618.12" r="1.45"/>
<circle cx="126.94" cy="617.68" r="1.45"/>
<circle cx="129.66" cy="618.07" r="1.45"/>
<circle cx="132.62" cy="617.59" r="1.45"/>
<circle cx="135.68" cy="617.5" r="1.45"/>
<circle cx="138.24" cy="617.42" r="1.45"/>
<circle cx="141.39" cy="618.77" r="1.45"/>
<circle cx="143.91" cy="616.45" r="1.45"/>
<circle cx="146.92" cy="617.39" r="1.45"/>
<circle cx="149.81" cy="617.93" r="1.45"/>
<circle cx="152.63" cy="617.98" r="1.45"/>
<circle cx="155.56" cy="617.14" r="1.45"/>
<circle cx="158.25" cy="618.37" r="1.45"/>
<circle cx="161" cy="618.15" r="1.45"/>
<circle cx="163.88" cy="618.14" r="1.45"/>
<circle cx="166.47" cy="616.54" r="1.45"/>
<circle cx="169.42" cy="617.56" r="1.45"/>
<circle cx="172.53" cy="617.02" r="1.45"/>
<circle cx="174.99" cy="616.71" r="1.45"/>
<circle cx="178.11" cy="617.16" r="1.45"/>
<circle cx="180.94" cy="618.78" r="1.45"/>
<circle cx="183.64" cy="618.31" r="1.45"/>
<circle cx="186.71" cy="617.55" r="1.45"/>
<circle cx="189.22" cy="617.95" r="1.45"/>
<circle cx="192.01" cy="618.95" r="1.45"/>
<circle cx="195" cy="618.57" r="1.45"/>
<circle cx="197.64" cy="617.8" r="1.45"/>
<circle cx="200.64" cy="616.46" r="1.45"/>
<circle cx="203.46" cy="618.14" r="1.45"/>
<circle cx="206.53" cy="618.98" r="1.45"/>
<circle cx="209.34" cy="618.93" r="1.45"/>
<circle cx="211.9" cy="618.38" r="1.45"/>
<circle cx="214.74" cy="618.08" r="1.45"/>
<circle cx="217.75" cy="617.99" r="1.45"/>
<circle cx="220.21" cy="618.86" r="1.45"/>
<circle cx="223.2" cy="617.33" r="1.45"/>
<circle cx="226.28" cy="617.28" r="1.45"/>
<circle cx="229.22" cy="617.39" r="1.45"/>
<circle cx="231.9" cy="617.78" r="1.45"/>
<circle cx="234.38" cy="618.23" r="1.45"/>
<circle cx="237.54" cy="618.4" r="1.45"/>
<circle cx="240.09" cy="618.38" r="1.45"/>
<circle cx="243.37" cy="618.56" r="1.45"/>
<circle cx="246.15" cy="618.56" r="1.45"/>
<circle cx="248.92" cy="617.33" r="1.45"/>
<circle cx="251.84" cy="618.43" r="1.45"/>
<circle cx="254.53" cy="618.77" r="1.45"/>
<circle cx="257.37" cy="618.4" r="1.45"/>
<circle cx="260.38" cy="617.91" r="1.45"/>
<circle cx="263.24" cy="618.84" r="1.45"/>
<circle cx="265.78" cy="618.33" r="1.45"/>
<circle cx="268.47" cy="619.11" r="1.45"/>
<circle cx="271.38" cy="618.9" r="1.45"/>
<circle cx="274.37" cy="618.31" r="1.45"/>
<circle cx="276.99" cy="617.97" r="1.45"/>
<circle cx="280.13" cy="618.78" r="1.45"/>
<circle cx="282.65" cy="618.06" r="1.45"/>
<circle cx="285.83" cy="618.53" r="1.45"/>
<circle cx="288.73" cy="618.73" r="1.45"/>
<circle cx="291.4" cy="619.21" r="1.45"/>
<circle cx="294.35" cy="618.37" r="1.45"/>
<circle cx="297.16" cy="618.58" r="1.45"/>
<circle cx="299.92" cy="617.89" r="1.45"/>
</g>
<g fill="#4e8aa2" fill-opacity="0.85">
<circle cx="53.32" cy="620.33" r="1.45"/>
<circle cx="56.02" cy="619.53" r="1.45"/>
<circle cx="58.9" cy="619.77" r="1.45"/>
<circle cx="61.96" cy="618.01" r="1.45"/>
<circle cx="64.73" cy="616.24" r="1.45"/>
<circle cx="67.44" cy="612.58" r="1.45"/>
<circle cx="70.65" cy="607.72" r="1.45"/>
<circle cx="73.46" cy="606.28" r="1.45"/>
<circle cx="75.88" cy="603.59" r="1.45"/>
<circle cx="78.76" cy="605.04" r="1.45"/>
<circle cx="81.63" cy="602.9" r="1.45"/>
<circle cx="84.28" cy="602.9" r="1.45"/>
<circle cx="87.11" cy="604.54" r="1.45"/>
<circle cx="89.94" cy="602.9" r="1.45"/>
<circle cx="93.06" cy="606.93" r="1.45"/>
<circle cx="95.9" cy="610.54" r="1.45"/>
<circle cx="98.49" cy="613.32" r="1.45"/>
<circle cx="101.46" cy="614.9" r="1.45"/>
<circle cx="104.08" cy="615.8" r="1.45"/>
<circle cx="107.38" cy="617.1" r="1.45"/>
<circle cx="109.77" cy="616.97" r="1.45"/>
<circle cx="112.65" cy="617.55" r="1.45"/>
<circle cx="115.89" cy="617.29" r="1.45"/>
<circle cx="118.81" cy="617.64" r="1.45"/>
<circle cx="121.6" cy="616.33" r="1.45"/>
<circle cx="124.25" cy="617.16" r="1.45"/>
<circle cx="127.04" cy="618.38" r="1.45"/>
<circle cx="129.86" cy="618.08" r="1.45"/>
<circle cx="132.43" cy="617.69" r="1.45"/>
<circle cx="135.24" cy="617.69" r="1.45"/>
<circle cx="138.6" cy="617.57" r="1.45"/>
<circle cx="140.95" cy="617.39" r="1.45"/>
<circle cx="143.84" cy="618.4" r="1.45"/>
<circle cx="146.8" cy="618.32" r="1.45"/>
<circle cx="149.77" cy="618.62" r="1.45"/>
<circle cx="152.47" cy="617.88" r="1.45"/>
<circle cx="155.09" cy="618.35" r="1.45"/>
<circle cx="158.26" cy="618.29" r="1.45"/>
<circle cx="161" cy="616.89" r="1.45"/>
<circle cx="163.87" cy="617.91" r="1.45"/>
<circle cx="166.92" cy="618.35" r="1.45"/>
<circle cx="169.26" cy="617.48" r="1.45"/>
<circle cx="172.64" cy="618.16" r="1.45"/>
<circle cx="175.03" cy="618.28" r="1.45"/>
<circle cx="178.24" cy="618.19" r="1.45"/>
<circle cx="181.09" cy="618.26" r="1.45"/>
<circle cx="183.4" cy="617.62" r="1.45"/>
<circle cx="186.58" cy="618.24" r="1.45"/>
<circle cx="189.58" cy="618.48" r="1.45"/>
<circle cx="192.45" cy="618.92" r="1.45"/>
<circle cx="195.23" cy="618.52" r="1.45"/>
<circle cx="197.58" cy="616.87" r="1.45"/>
<circle cx="200.9" cy="618.52" r="1.45"/>
<circle cx="203.7" cy="618.2" r="1.45"/>
<circle cx="206.57" cy="618.09" r="1.45"/>
<circle cx="208.97" cy="617.87" r="1.45"/>
<circle cx="211.92" cy="618.81" r="1.45"/>
<circle cx="215.03" cy="617.7" r="1.45"/>
<circle cx="217.86" cy="616.77" r="1.45"/>
<circle cx="220.51" cy="618.98" r="1.45"/>
<circle cx="223.02" cy="618.92" r="1.45"/>
<circle cx="225.86" cy="618.1" r="1.45"/>
<circle cx="229.21" cy="617.83" r="1.45"/>
<circle cx="231.99" cy="618.36" r="1.45"/>
<circle cx="234.68" cy="618.85" r="1.45"/>
<circle cx="237.28" cy="617.79" r="1.45"/>
<circle cx="240.38" cy="618.01" r="1.45"/>
<circle cx="242.94" cy="618.24" r="1.45"/>
<circle cx="245.69" cy="617.44" r="1.45"/>
<circle cx="248.59" cy="618.46" r="1.45"/>
<circle cx="251.38" cy="618.46" r="1.45"/>
<circle cx="254.2" cy="618.5" r="1.45"/>
<circle cx="257.12" cy="617.8" r="1.45"/>
<circle cx="260.4" cy="619.16" r="1.45"/>
<circle cx="263.19" cy="619.24" r="1.45"/>
<circle cx="265.95" cy="618.62" r="1.45"/>
<circle cx="268.48" cy="618.59" r="1.45"/>
<circle cx="271.28" cy="619.01" r="1.45"/>
<circle cx="274.54" cy="617.16" r="1.45"/>
<circle cx="277.28" cy="618.22" r="1.45"/>
<circle cx="280.04" cy="617.73" r="1.45"/>
<circle cx="282.77" cy="618.05" r="1.45"/>
<circle cx="285.71" cy="617.88" r="1.45"/>
<circle cx="288.33" cy="617.83" r="1.45"/>
<circle cx="291.19" cy="618.79" r="1.45"/>
<circle cx="294.37" cy="618.2" r="1.45"/>
<circle cx="297.19" cy="617.68" r="1.45"/>
<circle cx="299.94" cy="618.29" r="1.45"/>
</g>
<g fill="#55c0a2" fill-opacity="0.85">
<circle cx="53.27" cy="620.4" r="1.45"/>
<circle cx="56.38" cy="620.16" r="1.45"/>
<circle cx="59.07" cy="619.64" r="1.45"/>
<circle cx="61.65" cy="618.34" r="1.45"/>
<circle cx="64.76" cy="616.94" r="1.45"/>
<circle cx="67.68" cy="612.37" r="1.45"/>
<circle cx="70.26" cy="605.75" r="1.45"/>
<circle cx="73.18" cy="602.74" r="1.45"/>
<circle cx="76.2" cy="599.38" r="1.45"/>
<circle cx="78.62" cy="597.1" r="1.45"/>
<circle cx="81.83" cy="596.38" r="1.45"/>
<circle cx="84.74" cy="595.15" r="1.45"/>
<circle cx="87.65" cy="594.08" r="1.45"/>
<circle cx="90.22" cy="598.34" r="1.45"/>
<circle cx="93.23" cy="602.16" r="1.45"/>
<circle cx="96.14" cy="607.37" r="1.45"/>
<circle cx="98.97" cy="610.16" r="1.45"/>
<circle cx="101.7" cy="614.76" r="1.45"/>
<circle cx="104.41" cy="618.33" r="1.45"/>
<circle cx="106.97" cy="616.62" r="1.45"/>
<circle cx="110.29" cy="616.92" r="1.45"/>
<circle cx="113.1" cy="616.65" r="1.45"/>
<circle cx="115.79" cy="617.07" r="1.45"/>
<circle cx="118.46" cy="617.86" r="1.45"/>
<circle cx="121.39" cy="617.61" r="1.45"/>
<circle cx="124" cy="616.94" r="1.45"/>
<circle cx="127.29" cy="616.8" r="1.45"/>
<circle cx="129.64" cy="617.79" r="1.45"/>
<circle cx="132.76" cy="618.47" r="1.45"/>
<circle cx="135.24" cy="618.22" r="1.45"/>
<circle cx="138.58" cy="618.35" r="1.45"/>
<circle cx="141.16" cy="618.08" r="1.45"/>
<circle cx="144" cy="618.23" r="1.45"/>
<circle cx="146.97" cy="617.92" r="1.45"/>
<circle cx="149.58" cy="617.79" r="1.45"/>
<circle cx="152.6" cy="617.35" r="1.45"/>
<circle cx="155.21" cy="618.04" r="1.45"/>
<circle cx="158.33" cy="618.5" r="1.45"/>
<circle cx="161.15" cy="617.47" r="1.45"/>
<circle cx="164.13" cy="618.61" r="1.45"/>
<circle cx="166.59" cy="618.04" r="1.45"/>
<circle cx="169.35" cy="618.72" r="1.45"/>
<circle cx="172.61" cy="617.51" r="1.45"/>
<circle cx="175.47" cy="618.1" r="1.45"/>
<circle cx="177.82" cy="617.56" r="1.45"/>
<circle cx="180.63" cy="617.28" r="1.45"/>
<circle cx="183.55" cy="617.75" r="1.45"/>
<circle cx="186.36" cy="617.67" r="1.45"/>
<circle cx="189.2" cy="617.1" r="1.45"/>
<circle cx="192.4" cy="617.3" r="1.45"/>
<circle cx="195.21" cy="618.23" r="1.45"/>
<circle cx="197.79" cy="618.13" r="1.45"/>
<circle cx="200.54" cy="617.89" r="1.45"/>
<circle cx="203.21" cy="616.57" r="1.45"/>
<circle cx="206.03" cy="618.24" r="1.45"/>
<circle cx="209" cy="617.25" r="1.45"/>
<circle cx="212.04" cy="617.66" r="1.45"/>
<circle cx="214.91" cy="618.93" r="1.45"/>
<circle cx="217.74" cy="617.72" r="1.45"/>
<circle cx="220.71" cy="618.92" r="1.45"/>
<circle cx="223.15" cy="618.7" r="1.45"/>
<circle cx="225.96" cy="618.82" r="1.45"/>
<circle cx="228.84" cy="617.8" r="1.45"/>
<circle cx="231.93" cy="617.82" r="1.45"/>
<circle cx="234.58" cy="617.92" r="1.45"/>
<circle cx="237.6" cy="618.53" r="1.45"/>
<circle cx="240.3" cy="617.67" r="1.45"/>
<circle cx="242.85" cy="617.38" r="1.45"/>
<circle cx="246.07" cy="617.88" r="1.45"/>
<circle cx="249.03" cy="618.87" r="1.45"/>
<circle cx="251.34" cy="617.95" r="1.45"/>
<circle cx="254.67" cy="618.68" r="1.45"/>
<circle cx="257.15" cy="618.16" r="1.45"/>
<circle cx="259.96" cy="618.55" r="1.45"/>
<circle cx="262.78" cy="618.72" r="1.45"/>
<circle cx="265.7" cy="619.8" r="1.45"/>
<circle cx="268.45" cy="618.11" r="1.45"/>
<circle cx="271.45" cy="618.99" r="1.45"/>
<circle cx="274.21" cy="617.5" r="1.45"/>
<circle cx="277.03" cy="618.41" r="1.45"/>
<circle cx="280.25" cy="618.55" r="1.45"/>
<circle cx="282.6" cy="619.15" r="1.45"/>
<circle cx="285.76" cy="619.83" r="1.45"/>
<circle cx="288.52" cy="618.67" r="1.45"/>
<circle cx="291.21" cy="618.84" r="1.45"/>
<circle cx="293.85" cy="618.89" r="1.45"/>
<circle cx="297.03" cy="617.48" r="1.45"/>
<circle cx="299.88" cy="618.01" r="1.45"/>
</g>
<g fill="#99d35a" fill-opacity="0.85">
<circle cx="53.28" cy="620.22" r="1.45"/>
<circle cx="56.17" cy="619.96" r="1.45"/>
<circle cx="59.36" cy="618.43" r="1.45"/>
<circle cx="62.17" cy="618.62" r="1.45"/>
<circle cx="64.98" cy="617.11" r="1.45"/>
<circle cx="67.3" cy="612.31" r="1.45"/>
<circle cx="70.47" cy="605.6" r="1.45"/>
<circle cx="73.35" cy="601.39" r="1.45"/>
<circle cx="76.15" cy="597.06" r="1.45"/>
<circle cx="79.08" cy="596.84" r="1.45"/>
<circle cx="82.01" cy="594.45" r="1.45"/>
<circle cx="84.7" cy="596.77" r="1.45"/>
<circle cx="87.36" cy="597.46" r="1.45"/>
<circle cx="90.38" cy="599.39" r="1.45"/>
<circle cx="93.16" cy="600.38" r="1.45"/>
<circle cx="96.17" cy="604.59" r="1.45"/>
<circle cx="98.89" cy="610.35" r="1.45"/>
<circle cx="101.72" cy="616.18" r="1.45"/>
<circle cx="104.26" cy="616.71" r="1.45"/>
<circle cx="107.19" cy="615.97" r="1.45"/>
<circle cx="110.27" cy="616.98" r="1.45"/>
<circle cx="112.66" cy="617.08" r="1.45"/>
<circle cx="115.45" cy="617.25" r="1.45"/>
<circle cx="118.57" cy="616.65" r="1.45"/>
<circle cx="121.38" cy="618.05" r="1.45"/>
<circle cx="124.1" cy="616.25" r="1.45"/>
<circle cx="126.85" cy="618.43" r="1.45"/>
<circle cx="129.6" cy="618.13" r="1.45"/>
<circle cx="132.74" cy="617.92" r="1.45"/>
<circle cx="135.74" cy="616.9" r="1.45"/>
<circle cx="138.53" cy="617.45" r="1.45"/>
<circle cx="141.01" cy="617.11" r="1.45"/>
<circle cx="144.09" cy="618.34" r="1.45"/>
<circle cx="146.96" cy="617.32" r="1.45"/>
<circle cx="149.92" cy="617.51" r="1.45"/>
<circle cx="152.55" cy="617.82" r="1.45"/>
<circle cx="155.34" cy="618.13" r="1.45"/>
<circle cx="158.01" cy="618.21" r="1.45"/>
<circle cx="161.11" cy="616.85" r="1.45"/>
<circle cx="163.61" cy="617.34" r="1.45"/>
<circle cx="166.87" cy="617.44" r="1.45"/>
<circle cx="169.49" cy="617.51" r="1.45"/>
<circle cx="172.58" cy="618.59" r="1.45"/>
<circle cx="175.29" cy="618.22" r="1.45"/>
<circle cx="178.06" cy="617.99" r="1.45"/>
<circle cx="180.98" cy="617.67" r="1.45"/>
<circle cx="183.79" cy="617.77" r="1.45"/>
<circle cx="186.5" cy="617.64" r="1.45"/>
<circle cx="189.29" cy="618.29" r="1.45"/>
<circle cx="192.46" cy="617.49" r="1.45"/>
<circle cx="194.91" cy="618.3" r="1.45"/>
<circle cx="197.92" cy="618.48" r="1.45"/>
<circle cx="200.8" cy="617.99" r="1.45"/>
<circle cx="203.79" cy="618.16" r="1.45"/>
<circle cx="206.31" cy="618.1" r="1.45"/>
<circle cx="209.31" cy="618.44" r="1.45"/>
<circle cx="211.94" cy="617.96" r="1.45"/>
<circle cx="214.6" cy="617.89" r="1.45"/>
<circle cx="217.56" cy="617.5" r="1.45"/>
<circle cx="220.65" cy="617.74" r="1.45"/>
<circle cx="223.19" cy="619.42" r="1.45"/>
<circle cx="226.05" cy="618.65" r="1.45"/>
<circle cx="228.85" cy="618.24" r="1.45"/>
<circle cx="231.73" cy="618.06" r="1.45"/>
<circle cx="234.93" cy="618.77" r="1.45"/>
<circle cx="237.7" cy="618.25" r="1.45"/>
<circle cx="240.3" cy="618.5" r="1.45"/>
<circle cx="242.91" cy="617.98" r="1.45"/>
<circle cx="245.75" cy="618" r="1.45"/>
<circle cx="249.09" cy="617.5" r="1.45"/>
<circle cx="251.58" cy="616.73" r="1.45"/>
<circle cx="254.5" cy="617.38" r="1.45"/>
<circle cx="257.24" cy="619" r="1.45"/>
<circle cx="259.9" cy="618" r="1.45"/>
<circle cx="262.95" cy="617.42" r="1.45"/>
<circle cx="265.96" cy="618.14" r="1.45"/>
<circle cx="268.65" cy="617.85" r="1.45"/>
<circle cx="271.39" cy="618.23" r="1.45"/>
<circle cx="274.41" cy="617.99" r="1.45"/>
<circle cx="277.35" cy="617.84" r="1.45"/>
<circle cx="280.04" cy="618.38" r="1.45"/>
<circle cx="282.86" cy="618.46" r="1.45"/>
<circle cx="285.84" cy="618.17" r="1.45"/>
<circle cx="288.4" cy="617.83" r="1.45"/>
<circle cx="290.99" cy="617.53" r="1.45"/>
<circle cx="294.34" cy="617.81" r="1.45"/>
<circle cx="297.07" cy="618.26" r="1.45"/>
<circle cx="300" cy="618.21" r="1.45"/>
</g>
<g fill="#f8dc3c" fill-opacity="0.85">
<circle cx="53.11" cy="619.99" r="1.45"/>
<circle cx="56.27" cy="619.74" r="1.45"/>
<circle cx="59.06" cy="620.4" r="1.45"/>
<circle cx="61.91" cy="618.77" r="1.45"/>
<circle cx="64.68" cy="616.26" r="1.45"/>
<circle cx="67.67" cy="613.57" r="1.45"/>
<circle cx="70.5" cy="609.86" r="1.45"/>
<circle cx="73.28" cy="605.53" r="1.45"/>
<circle cx="75.85" cy="601.26" r="1.45"/>
<circle cx="79.05" cy="602.42" r="1.45"/>
<circle cx="81.7" cy="602.29" r="1.45"/>
<circle cx="84.79" cy="601.75" r="1.45"/>
<circle cx="87.09" cy="603.37" r="1.45"/>
<circle cx="90.31" cy="604.35" r="1.45"/>
<circle cx="92.87" cy="602.87" r="1.45"/>
<circle cx="95.65" cy="610.32" r="1.45"/>
<circle cx="98.75" cy="613.39" r="1.45"/>
<circle cx="101.51" cy="615.16" r="1.45"/>
<circle cx="104.29" cy="616.08" r="1.45"/>
<circle cx="107.35" cy="618.3" r="1.45"/>
<circle cx="110.19" cy="616.91" r="1.45"/>
<circle cx="112.74" cy="617.22" r="1.45"/>
<circle cx="115.8" cy="617.72" r="1.45"/>
<circle cx="118.77" cy="617.47" r="1.45"/>
<circle cx="121.08" cy="617.22" r="1.45"/>
<circle cx="123.93" cy="617.65" r="1.45"/>
<circle cx="127.1" cy="616.97" r="1.45"/>
<circle cx="129.79" cy="618.31" r="1.45"/>
<circle cx="132.97" cy="618.01" r="1.45"/>
<circle cx="135.72" cy="616.95" r="1.45"/>
<circle cx="138.63" cy="618.12" r="1.45"/>
<circle cx="141.32" cy="618.05" r="1.45"/>
<circle cx="144.3" cy="618.09" r="1.45"/>
<circle cx="146.62" cy="617.68" r="1.45"/>
<circle cx="149.87" cy="617.42" r="1.45"/>
<circle cx="152.5" cy="617.89" r="1.45"/>
<circle cx="155.21" cy="617.69" r="1.45"/>
<circle cx="158.33" cy="618.47" r="1.45"/>
<circle cx="161.09" cy="618.09" r="1.45"/>
<circle cx="163.93" cy="617.46" r="1.45"/>
<circle cx="166.9" cy="617.64" r="1.45"/>
<circle cx="169.64" cy="618.69" r="1.45"/>
<circle cx="172.54" cy="617.61" r="1.45"/>
<circle cx="175.22" cy="617.94" r="1.45"/>
<circle cx="177.94" cy="617.56" r="1.45"/>
<circle cx="180.76" cy="618.09" r="1.45"/>
<circle cx="183.64" cy="617.99" r="1.45"/>
<circle cx="186.61" cy="618.5" r="1.45"/>
<circle cx="189.13" cy="618.3" r="1.45"/>
<circle cx="192.42" cy="617.7" r="1.45"/>
<circle cx="194.87" cy="618.05" r="1.45"/>
<circle cx="197.61" cy="619.17" r="1.45"/>
<circle cx="200.45" cy="616.75" r="1.45"/>
<circle cx="203.78" cy="619.34" r="1.45"/>
<circle cx="206.49" cy="617.98" r="1.45"/>
<circle cx="209.16" cy="618.9" r="1.45"/>
<circle cx="211.98" cy="618.91" r="1.45"/>
<circle cx="214.75" cy="618.36" r="1.45"/>
<circle cx="217.94" cy="617.99" r="1.45"/>
<circle cx="220.37" cy="619.11" r="1.45"/>
<circle cx="223.44" cy="617.68" r="1.45"/>
<circle cx="226.4" cy="618.02" r="1.45"/>
<circle cx="228.91" cy="618.3" r="1.45"/>
<circle cx="231.84" cy="618.29" r="1.45"/>
<circle cx="234.38" cy="618.78" r="1.45"/>
<circle cx="237.41" cy="618.39" r="1.45"/>
<circle cx="240.51" cy="618.72" r="1.45"/>
<circle cx="243.03" cy="618.36" r="1.45"/>
<circle cx="245.8" cy="618.7" r="1.45"/>
<circle cx="248.56" cy="618.35" r="1.45"/>
<circle cx="251.68" cy="618.19" r="1.45"/>
<circle cx="254.38" cy="618.81" r="1.45"/>
<circle cx="257.15" cy="618.18" r="1.45"/>
<circle cx="260.39" cy="619.5" r="1.45"/>
<circle cx="262.89" cy="619.56" r="1.45"/>
<circle cx="265.77" cy="618.4" r="1.45"/>
<circle cx="268.35" cy="618.03" r="1.45"/>
<circle cx="271.33" cy="618.24" r="1.45"/>
<circle cx="274.11" cy="618.69" r="1.45"/>
<circle cx="277.35" cy="618.66" r="1.45"/>
<circle cx="279.78" cy="619.2" r="1.45"/>
<circle cx="283.04" cy="618.83" r="1.45"/>
<circle cx="285.59" cy="618.59" r="1.45"/>
<circle cx="288.51" cy="618.31" r="1.45"/>
<circle cx="291.49" cy="618.79" r="1.45"/>
<circle cx="294.02" cy="618.75" r="1.45"/>
<circle cx="296.66" cy="618.03" r="1.45"/>
<circle cx="299.5" cy="618.59" r="1.45"/>
</g>
<path d="M61.89 619.02 L63.31 618.48 L64.72 617.8 L66.14 616.94 L67.56 615.9 L68.97 614.67 L70.39 613.26 L71.8 611.68 L73.22 609.98 L74.64 608.2 L76.05 606.41 L77.47 604.69 L78.88 603.11 L80.3 601.77 L81.72 600.72 L83.13 600.03 L84.55 599.73 L85.96 599.84 L87.38 600.36 L88.8 601.24 L90.21 602.45 L91.63 603.9 L93.04 605.54 L94.46 607.25 L95.88 608.92 L97.29 610.49 L98.71 611.92 L100.12 613.18 L101.54 614.25 L102.96 615.14 L104.37 615.86 L105.79 616.43 L107.2 616.86 L108.62 617.19 L110.04 617.43 L111.45 617.6 L112.87 617.72 L114.28 617.8 L115.7 617.86 L117.12 617.9 L118.53 617.93 L119.95 617.95 L121.36 617.96 L122.78 617.97 L124.2 617.98 L125.61 617.99 L127.03 617.99 L128.44 618 L129.86 618.01 L131.28 618.01 L132.69 618.02 L134.11 618.03 L135.52 618.03 L136.94 618.04 L138.36 618.05 L139.77 618.05 L141.19 618.06 L142.6 618.07 L144.02 618.07 L145.44 618.08 L146.85 618.08 L148.27 618.09 L149.68 618.1 L151.1 618.1 L152.52 618.11 L153.93 618.12 L155.35 618.12 L156.76 618.13 L158.18 618.14 L159.6 618.14 L161.01 618.15 L162.43 618.15 L163.84 618.16 L165.26 618.17 L166.68 618.17 L168.09 618.18 L169.51 618.19 L170.92 618.19 L172.34 618.2 L173.76 618.21 L175.17 618.21 L176.59 618.22 L178 618.23 L179.42 618.23 L180.84 618.24 L182.25 618.24 L183.67 618.25 L185.08 618.26 L186.5 618.26 L187.92 618.27 L189.33 618.28 L190.75 618.28 L192.16 618.29 L193.58 618.3 L195 618.3 L196.41 618.31 L197.83 618.31 L199.24 618.32 L200.66 618.33 L202.08 618.33 L203.49 618.34 L204.91 618.35 L206.32 618.35 L207.74 618.36 L209.16 618.37 L210.57 618.37 L211.99 618.38 L213.4 618.39 L214.82 618.39 L216.24 618.4 L217.65 618.4 L219.07 618.41 L220.48 618.42 L221.9 618.42 L223.32 618.43 L224.73 618.44 L226.15 618.44 L227.56 618.45 L228.98 618.46 L230.4 618.46 L231.81 618.47 L233.23 618.47 L234.64 618.48 L236.06 618.49 L237.48 618.49 L238.89 618.5 L240.31 618.51 L241.72 618.51 L243.14 618.52 L244.56 618.53 L245.97 618.53 L247.39 618.54 L248.8 618.55 L250.22 618.55 L251.64 618.56 L253.05 618.56 L254.47 618.57 L255.88 618.58 L257.3 618.58 L258.72 618.59 L260.13 618.6 L261.55 618.6 L262.96 618.61 L264.38 618.62 L265.8 618.62 L267.21 618.63 L268.63 618.63 L270.04 618.64 L271.46 618.65 L272.88 618.65 L274.29 618.66 L275.71 618.67 L277.12 618.67 L278.54 618.68 L279.96 618.69 L281.37 618.69 L282.79 618.7 L284.2 618.7 L285.62 618.71 L287.04 618.72 L288.45 618.72 L289.87 618.73 L291.28 618.74 L292.7 618.74 L294.12 618.75 L295.53 618.76 L296.95 618.76 L298.36 618.77 L299.78 618.78" fill="none" stroke="#111" stroke-width="1"/>
<line x1="32.5" y1="624.2" x2="313" y2="624.2" stroke="#222" stroke-width="1.3"/>
<text x="154.1" y="555.3" font-size="12.3">ctrl</text>
<circle cx="297.7" cy="585" r="15.35" fill="#d7d7d7"/>
<path d="M297.7 585 L297.7 569.65 A15.35 15.35 0 0 1 300.39 569.89 Z" fill="#c0201f" stroke="#fff" stroke-width="0.4"/>
<text x="289.1" y="564.6" font-size="10.9" fill="#c0282d">2.8% (a)</text>
<line x1="32.5" y1="626.3" x2="32.5" y2="700.3" stroke="#222" stroke-width="1"/>
<line x1="28.9" y1="697.6" x2="32.5" y2="697.6" stroke="#222" stroke-width="0.8"/>
<text x="26.9" y="700.7" font-size="9" text-anchor="end" fill="#222">0.00</text>
<line x1="28.9" y1="679.4" x2="32.5" y2="679.4" stroke="#222" stroke-width="0.8"/>
<text x="26.9" y="682.5" font-size="9" text-anchor="end" fill="#222">0.25</text>
<line x1="28.9" y1="661.2" x2="32.5" y2="661.2" stroke="#222" stroke-width="0.8"/>
<text x="26.9" y="664.3" font-size="9" text-anchor="end" fill="#222">0.50</text>
<line x1="28.9" y1="643" x2="32.5" y2="643" stroke="#222" stroke-width="0.8"/>
<text x="26.9" y="646.1" font-size="9" text-anchor="end" fill="#222">0.75</text>
<path d="M73.22 697.6 L73.22 696.06 L76.05 694.45 L78.88 693.58 L81.72 692.43 L84.55 689.9 L87.38 687.37 L90.21 686.21 L93.04 685.48 L95.88 683.87 L98.71 682.26 L101.54 681.53 L104.37 681.87 L107.2 682.52 L110.04 682.87 L112.87 683.39 L115.7 684.35 L118.53 684.87 L121.36 684.77 L124.2 684.54 L127.03 684.31 L129.86 684.2 L132.69 683.68 L135.52 682.53 L138.36 681.38 L141.19 680.86 L144.02 680.61 L146.85 679.99 L149.68 679.18 L152.52 678.38 L155.35 677.76 L158.18 677.51 L161.01 677.66 L163.84 678.03 L166.68 678.51 L169.51 679 L172.34 679.37 L175.17 679.52 L178 679.63 L180.84 679.94 L183.67 680.38 L186.5 680.91 L189.33 681.47 L192.16 682 L195 682.44 L197.83 682.75 L200.66 682.87 L203.49 682.94 L206.32 683.14 L209.16 683.44 L211.99 683.81 L214.82 684.2 L217.65 684.6 L220.48 684.97 L223.32 685.27 L226.15 685.47 L228.98 685.54 L231.81 685.58 L234.64 685.68 L237.48 685.83 L240.31 686.02 L243.14 686.21 L245.97 686.41 L248.8 686.59 L251.64 686.74 L254.47 686.85 L257.3 686.88 L260.13 686.95 L262.96 687.14 L265.8 687.4 L268.63 687.72 L271.46 688.06 L274.29 688.37 L277.12 688.64 L279.96 688.82 L282.79 688.89 L285.62 689.21 L288.45 689.9 L291.28 690.59 L294.12 690.9 L296.95 693.25 L299.78 695.59 L299.78 697.6 Z" fill="#cdcdcd"/>
<line x1="73.22" y1="697.6" x2="299.78" y2="697.6" stroke="#333" stroke-width="1"/>
<g fill="#6a3d7c" fill-opacity="0.85">
<circle cx="53.39" cy="697.6" r="1.45"/>
<circle cx="56.44" cy="697.1" r="1.45"/>
<circle cx="59.14" cy="696.91" r="1.45"/>
<circle cx="62.15" cy="697.6" r="1.45"/>
<circle cx="64.62" cy="697.47" r="1.45"/>
<circle cx="67.4" cy="697.27" r="1.45"/>
<circle cx="70.39" cy="695.92" r="1.45"/>
<circle cx="73.03" cy="695.27" r="1.45"/>
<circle cx="75.89" cy="693.94" r="1.45"/>
<circle cx="79.02" cy="694.28" r="1.45"/>
<circle cx="81.98" cy="691.49" r="1.45"/>
<circle cx="84.28" cy="687.77" r="1.45"/>
<circle cx="87.63" cy="688.85" r="1.45"/>
<circle cx="90.07" cy="688.05" r="1.45"/>
<circle cx="93.2" cy="690.6" r="1.45"/>
<circle cx="95.87" cy="687.07" r="1.45"/>
<circle cx="98.41" cy="684.35" r="1.45"/>
<circle cx="101.36" cy="684.24" r="1.45"/>
<circle cx="104.34" cy="685.56" r="1.45"/>
<circle cx="107.3" cy="688.52" r="1.45"/>
<circle cx="109.97" cy="687.53" r="1.45"/>
<circle cx="112.79" cy="685.17" r="1.45"/>
<circle cx="115.88" cy="687.29" r="1.45"/>
<circle cx="118.78" cy="684.44" r="1.45"/>
<circle cx="121.61" cy="683.62" r="1.45"/>
<circle cx="124.38" cy="685.9" r="1.45"/>
<circle cx="126.77" cy="682.05" r="1.45"/>
<circle cx="129.93" cy="680.65" r="1.45"/>
<circle cx="132.86" cy="685.14" r="1.45"/>
<circle cx="135.8" cy="679.03" r="1.45"/>
<circle cx="138.07" cy="678.21" r="1.45"/>
<circle cx="140.93" cy="680.51" r="1.45"/>
<circle cx="143.86" cy="677.21" r="1.45"/>
<circle cx="146.62" cy="678.85" r="1.45"/>
<circle cx="149.83" cy="679.06" r="1.45"/>
<circle cx="152.32" cy="675.02" r="1.45"/>
<circle cx="155.31" cy="681.22" r="1.45"/>
<circle cx="157.97" cy="674.11" r="1.45"/>
<circle cx="160.73" cy="677.63" r="1.45"/>
<circle cx="163.89" cy="675.38" r="1.45"/>
<circle cx="166.53" cy="678.16" r="1.45"/>
<circle cx="169.27" cy="673.13" r="1.45"/>
<circle cx="172.13" cy="680.45" r="1.45"/>
<circle cx="175.18" cy="677.19" r="1.45"/>
<circle cx="178.26" cy="680.93" r="1.45"/>
<circle cx="180.87" cy="681.44" r="1.45"/>
<circle cx="183.82" cy="678.29" r="1.45"/>
<circle cx="186.78" cy="680.44" r="1.45"/>
<circle cx="189.18" cy="681.62" r="1.45"/>
<circle cx="192.01" cy="679.95" r="1.45"/>
<circle cx="194.79" cy="682.79" r="1.45"/>
<circle cx="198.03" cy="680.11" r="1.45"/>
<circle cx="200.74" cy="680.46" r="1.45"/>
<circle cx="203.46" cy="681.82" r="1.45"/>
<circle cx="206.29" cy="684.29" r="1.45"/>
<circle cx="209.33" cy="682.33" r="1.45"/>
<circle cx="211.9" cy="681.12" r="1.45"/>
<circle cx="214.54" cy="683.58" r="1.45"/>
<circle cx="217.46" cy="684.72" r="1.45"/>
<circle cx="220.69" cy="683.08" r="1.45"/>
<circle cx="223.12" cy="685.47" r="1.45"/>
<circle cx="226.21" cy="684.59" r="1.45"/>
<circle cx="229.12" cy="682.75" r="1.45"/>
<circle cx="231.97" cy="687.75" r="1.45"/>
<circle cx="234.75" cy="684.22" r="1.45"/>
<circle cx="237.55" cy="683.98" r="1.45"/>
<circle cx="240.01" cy="684.49" r="1.45"/>
<circle cx="243.26" cy="683.88" r="1.45"/>
<circle cx="246.22" cy="688.59" r="1.45"/>
<circle cx="248.82" cy="686.02" r="1.45"/>
<circle cx="251.72" cy="686.56" r="1.45"/>
<circle cx="254.74" cy="684.84" r="1.45"/>
<circle cx="257.46" cy="684.57" r="1.45"/>
<circle cx="259.91" cy="685.15" r="1.45"/>
<circle cx="263" cy="686.83" r="1.45"/>
<circle cx="266.09" cy="687.52" r="1.45"/>
<circle cx="268.67" cy="684.57" r="1.45"/>
<circle cx="271.67" cy="686.7" r="1.45"/>
<circle cx="274.57" cy="689.64" r="1.45"/>
<circle cx="276.87" cy="685.29" r="1.45"/>
<circle cx="280.15" cy="688.71" r="1.45"/>
<circle cx="283.04" cy="687.32" r="1.45"/>
<circle cx="285.67" cy="687.98" r="1.45"/>
<circle cx="288.69" cy="691.75" r="1.45"/>
<circle cx="291.42" cy="690.13" r="1.45"/>
<circle cx="294.08" cy="689.78" r="1.45"/>
<circle cx="296.73" cy="691.25" r="1.45"/>
<circle cx="299.63" cy="695.23" r="1.45"/>
</g>
<g fill="#6b63a6" fill-opacity="0.85">
<circle cx="53.2" cy="697.08" r="1.45"/>
<circle cx="56.12" cy="697.28" r="1.45"/>
<circle cx="58.77" cy="697.6" r="1.45"/>
<circle cx="62.15" cy="697.6" r="1.45"/>
<circle cx="64.93" cy="697.44" r="1.45"/>
<circle cx="67.64" cy="697.45" r="1.45"/>
<circle cx="70.35" cy="697.26" r="1.45"/>
<circle cx="73.13" cy="695.92" r="1.45"/>
<circle cx="75.92" cy="694.04" r="1.45"/>
<circle cx="78.86" cy="693.41" r="1.45"/>
<circle cx="81.48" cy="694.27" r="1.45"/>
<circle cx="84.32" cy="691.97" r="1.45"/>
<circle cx="87.22" cy="687.73" r="1.45"/>
<circle cx="90.05" cy="690.21" r="1.45"/>
<circle cx="92.98" cy="689.78" r="1.45"/>
<circle cx="96.14" cy="690.06" r="1.45"/>
<circle cx="98.82" cy="684.49" r="1.45"/>
<circle cx="101.6" cy="686.76" r="1.45"/>
<circle cx="104.65" cy="687.67" r="1.45"/>
<circle cx="106.94" cy="687.6" r="1.45"/>
<circle cx="110.24" cy="688.28" r="1.45"/>
<circle cx="113" cy="685.12" r="1.45"/>
<circle cx="115.99" cy="685.36" r="1.45"/>
<circle cx="118.42" cy="688.42" r="1.45"/>
<circle cx="121.26" cy="687.65" r="1.45"/>
<circle cx="123.98" cy="683.59" r="1.45"/>
<circle cx="127.25" cy="685.04" r="1.45"/>
<circle cx="129.96" cy="685.43" r="1.45"/>
<circle cx="132.5" cy="682.08" r="1.45"/>
<circle cx="135.42" cy="681.52" r="1.45"/>
<circle cx="138.19" cy="679.21" r="1.45"/>
<circle cx="141.14" cy="676.35" r="1.45"/>
<circle cx="143.99" cy="685.52" r="1.45"/>
<circle cx="146.58" cy="673.6" r="1.45"/>
<circle cx="149.41" cy="671.09" r="1.45"/>
<circle cx="152.74" cy="677.56" r="1.45"/>
<circle cx="155.42" cy="680.24" r="1.45"/>
<circle cx="158.26" cy="679.8" r="1.45"/>
<circle cx="160.77" cy="675.68" r="1.45"/>
<circle cx="163.62" cy="676.98" r="1.45"/>
<circle cx="166.4" cy="675.01" r="1.45"/>
<circle cx="169.28" cy="677.22" r="1.45"/>
<circle cx="172.08" cy="678.62" r="1.45"/>
<circle cx="175.45" cy="676.76" r="1.45"/>
<circle cx="177.75" cy="673.54" r="1.45"/>
<circle cx="180.89" cy="680.82" r="1.45"/>
<circle cx="183.67" cy="676.63" r="1.45"/>
<circle cx="186.73" cy="680.47" r="1.45"/>
<circle cx="189.2" cy="677.59" r="1.45"/>
<circle cx="192.31" cy="682.06" r="1.45"/>
<circle cx="194.97" cy="681.23" r="1.45"/>
<circle cx="197.94" cy="683.14" r="1.45"/>
<circle cx="200.69" cy="681.23" r="1.45"/>
<circle cx="203.41" cy="679.69" r="1.45"/>
<circle cx="206.31" cy="680.56" r="1.45"/>
<circle cx="209.35" cy="683.27" r="1.45"/>
<circle cx="211.8" cy="680.9" r="1.45"/>
<circle cx="214.85" cy="682.71" r="1.45"/>
<circle cx="217.91" cy="681.65" r="1.45"/>
<circle cx="220.28" cy="684.21" r="1.45"/>
<circle cx="223.21" cy="682.69" r="1.45"/>
<circle cx="226.01" cy="684.88" r="1.45"/>
<circle cx="228.71" cy="683.62" r="1.45"/>
<circle cx="231.53" cy="685.38" r="1.45"/>
<circle cx="234.55" cy="686.89" r="1.45"/>
<circle cx="237.57" cy="685.55" r="1.45"/>
<circle cx="240.22" cy="688.21" r="1.45"/>
<circle cx="243.3" cy="685.56" r="1.45"/>
<circle cx="246.08" cy="690.38" r="1.45"/>
<circle cx="249.06" cy="686.28" r="1.45"/>
<circle cx="251.42" cy="687.88" r="1.45"/>
<circle cx="254.29" cy="684.72" r="1.45"/>
<circle cx="257.5" cy="686.94" r="1.45"/>
<circle cx="259.89" cy="686.85" r="1.45"/>
<circle cx="263.26" cy="684.03" r="1.45"/>
<circle cx="265.66" cy="689.26" r="1.45"/>
<circle cx="268.75" cy="688.32" r="1.45"/>
<circle cx="271.41" cy="688.75" r="1.45"/>
<circle cx="274.32" cy="686.39" r="1.45"/>
<circle cx="276.89" cy="686.98" r="1.45"/>
<circle cx="279.75" cy="691.56" r="1.45"/>
<circle cx="283" cy="685.52" r="1.45"/>
<circle cx="285.39" cy="688.82" r="1.45"/>
<circle cx="288.66" cy="687.48" r="1.45"/>
<circle cx="291.2" cy="690.33" r="1.45"/>
<circle cx="294.03" cy="691.22" r="1.45"/>
<circle cx="297.04" cy="694.08" r="1.45"/>
<circle cx="299.48" cy="695.56" r="1.45"/>
</g>
<g fill="#4e8aa2" fill-opacity="0.85">
<circle cx="53.32" cy="697.6" r="1.45"/>
<circle cx="56.11" cy="697.6" r="1.45"/>
<circle cx="59.02" cy="697.6" r="1.45"/>
<circle cx="61.82" cy="697.6" r="1.45"/>
<circle cx="64.62" cy="697.31" r="1.45"/>
<circle cx="67.84" cy="696.15" r="1.45"/>
<circle cx="70.28" cy="697.15" r="1.45"/>
<circle cx="73.5" cy="696.17" r="1.45"/>
<circle cx="75.77" cy="692.53" r="1.45"/>
<circle cx="78.74" cy="694.37" r="1.45"/>
<circle cx="81.74" cy="690.89" r="1.45"/>
<circle cx="84.44" cy="689.07" r="1.45"/>
<circle cx="87.58" cy="686.34" r="1.45"/>
<circle cx="90.35" cy="684.66" r="1.45"/>
<circle cx="92.77" cy="684" r="1.45"/>
<circle cx="95.98" cy="679" r="1.45"/>
<circle cx="98.45" cy="677.95" r="1.45"/>
<circle cx="101.38" cy="676.54" r="1.45"/>
<circle cx="104.46" cy="679.29" r="1.45"/>
<circle cx="107.46" cy="676.86" r="1.45"/>
<circle cx="109.99" cy="678.16" r="1.45"/>
<circle cx="112.81" cy="678.85" r="1.45"/>
<circle cx="115.75" cy="681.02" r="1.45"/>
<circle cx="118.65" cy="686.3" r="1.45"/>
<circle cx="121.28" cy="682.63" r="1.45"/>
<circle cx="124.12" cy="683.43" r="1.45"/>
<circle cx="126.83" cy="681.14" r="1.45"/>
<circle cx="129.95" cy="681.9" r="1.45"/>
<circle cx="132.95" cy="682.7" r="1.45"/>
<circle cx="135.53" cy="679.21" r="1.45"/>
<circle cx="138.37" cy="676.79" r="1.45"/>
<circle cx="141.38" cy="679.9" r="1.45"/>
<circle cx="143.97" cy="677.82" r="1.45"/>
<circle cx="146.59" cy="673.63" r="1.45"/>
<circle cx="149.73" cy="678.63" r="1.45"/>
<circle cx="152.59" cy="677.17" r="1.45"/>
<circle cx="155.05" cy="676.7" r="1.45"/>
<circle cx="157.88" cy="679.72" r="1.45"/>
<circle cx="161.26" cy="676.73" r="1.45"/>
<circle cx="163.78" cy="679.48" r="1.45"/>
<circle cx="166.39" cy="676.49" r="1.45"/>
<circle cx="169.31" cy="677.13" r="1.45"/>
<circle cx="172.56" cy="677.41" r="1.45"/>
<circle cx="175.41" cy="681.03" r="1.45"/>
<circle cx="177.82" cy="679.39" r="1.45"/>
<circle cx="180.9" cy="678.52" r="1.45"/>
<circle cx="183.67" cy="677.18" r="1.45"/>
<circle cx="186.22" cy="677.31" r="1.45"/>
<circle cx="189.33" cy="675.34" r="1.45"/>
<circle cx="192.14" cy="678.25" r="1.45"/>
<circle cx="195.09" cy="684.52" r="1.45"/>
<circle cx="197.94" cy="679.9" r="1.45"/>
<circle cx="200.5" cy="682.58" r="1.45"/>
<circle cx="203.36" cy="682.2" r="1.45"/>
<circle cx="206.54" cy="679.12" r="1.45"/>
<circle cx="209.42" cy="681.64" r="1.45"/>
<circle cx="212.06" cy="681.44" r="1.45"/>
<circle cx="214.53" cy="682.56" r="1.45"/>
<circle cx="217.81" cy="683.12" r="1.45"/>
<circle cx="220.21" cy="682.08" r="1.45"/>
<circle cx="223.15" cy="682.96" r="1.45"/>
<circle cx="225.94" cy="683.98" r="1.45"/>
<circle cx="228.68" cy="685.42" r="1.45"/>
<circle cx="232.03" cy="685.1" r="1.45"/>
<circle cx="234.5" cy="686.38" r="1.45"/>
<circle cx="237.71" cy="684.32" r="1.45"/>
<circle cx="240.41" cy="684.38" r="1.45"/>
<circle cx="243.24" cy="685.3" r="1.45"/>
<circle cx="245.91" cy="686.91" r="1.45"/>
<circle cx="248.93" cy="686.49" r="1.45"/>
<circle cx="251.39" cy="682.58" r="1.45"/>
<circle cx="254.27" cy="685.46" r="1.45"/>
<circle cx="257.53" cy="686.1" r="1.45"/>
<circle cx="260.07" cy="685.89" r="1.45"/>
<circle cx="263.19" cy="687.15" r="1.45"/>
<circle cx="265.7" cy="685.46" r="1.45"/>
<circle cx="268.58" cy="689.1" r="1.45"/>
<circle cx="271.71" cy="690.28" r="1.45"/>
<circle cx="274.27" cy="688.91" r="1.45"/>
<circle cx="277.03" cy="688.32" r="1.45"/>
<circle cx="279.67" cy="689.1" r="1.45"/>
<circle cx="282.97" cy="687.7" r="1.45"/>
<circle cx="285.44" cy="688.44" r="1.45"/>
<circle cx="288.48" cy="688.56" r="1.45"/>
<circle cx="291.26" cy="689.62" r="1.45"/>
<circle cx="294.29" cy="691.76" r="1.45"/>
<circle cx="296.78" cy="692.81" r="1.45"/>
<circle cx="299.72" cy="694.79" r="1.45"/>
</g>
<g fill="#55c0a2" fill-opacity="0.85">
<circle cx="53.27" cy="697.6" r="1.45"/>
<circle cx="56.21" cy="697.6" r="1.45"/>
<circle cx="59.17" cy="697.36" r="1.45"/>
<circle cx="62.16" cy="696.77" r="1.45"/>
<circle cx="64.69" cy="696.79" r="1.45"/>
<circle cx="67.85" cy="697.05" r="1.45"/>
<circle cx="70.39" cy="697.34" r="1.45"/>
<circle cx="73" cy="695.93" r="1.45"/>
<circle cx="75.81" cy="693.76" r="1.45"/>
<circle cx="79.1" cy="693.82" r="1.45"/>
<circle cx="81.43" cy="690.87" r="1.45"/>
<circle cx="84.68" cy="688.94" r="1.45"/>
<circle cx="87.51" cy="682.26" r="1.45"/>
<circle cx="90.33" cy="679.6" r="1.45"/>
<circle cx="92.86" cy="677.62" r="1.45"/>
<circle cx="96.11" cy="675.79" r="1.45"/>
<circle cx="98.89" cy="666.88" r="1.45"/>
<circle cx="101.7" cy="667.64" r="1.45"/>
<circle cx="104.12" cy="669.25" r="1.45"/>
<circle cx="107.08" cy="669.03" r="1.45"/>
<circle cx="109.95" cy="672.72" r="1.45"/>
<circle cx="113.07" cy="677.24" r="1.45"/>
<circle cx="115.78" cy="680.54" r="1.45"/>
<circle cx="118.75" cy="679.16" r="1.45"/>
<circle cx="121.28" cy="679.46" r="1.45"/>
<circle cx="124.38" cy="681.48" r="1.45"/>
<circle cx="126.74" cy="682.89" r="1.45"/>
<circle cx="129.98" cy="685.62" r="1.45"/>
<circle cx="132.63" cy="690.02" r="1.45"/>
<circle cx="135.77" cy="678.54" r="1.45"/>
<circle cx="138.22" cy="678.12" r="1.45"/>
<circle cx="141.25" cy="678.1" r="1.45"/>
<circle cx="143.96" cy="678.35" r="1.45"/>
<circle cx="146.92" cy="674.92" r="1.45"/>
<circle cx="149.48" cy="681.26" r="1.45"/>
<circle cx="152.66" cy="674.89" r="1.45"/>
<circle cx="155.61" cy="679.48" r="1.45"/>
<circle cx="158.22" cy="676.95" r="1.45"/>
<circle cx="161.02" cy="675.49" r="1.45"/>
<circle cx="164.1" cy="673.35" r="1.45"/>
<circle cx="166.94" cy="678.43" r="1.45"/>
<circle cx="169.28" cy="680.2" r="1.45"/>
<circle cx="172.58" cy="677.48" r="1.45"/>
<circle cx="175.4" cy="681.44" r="1.45"/>
<circle cx="178.29" cy="681.24" r="1.45"/>
<circle cx="180.94" cy="680.26" r="1.45"/>
<circle cx="183.83" cy="676.92" r="1.45"/>
<circle cx="186.41" cy="679.01" r="1.45"/>
<circle cx="189.48" cy="678.12" r="1.45"/>
<circle cx="192.46" cy="681.78" r="1.45"/>
<circle cx="195.01" cy="682.23" r="1.45"/>
<circle cx="197.74" cy="682.42" r="1.45"/>
<circle cx="200.56" cy="679.49" r="1.45"/>
<circle cx="203.49" cy="682.35" r="1.45"/>
<circle cx="206.4" cy="683.33" r="1.45"/>
<circle cx="209.16" cy="685.71" r="1.45"/>
<circle cx="212.09" cy="683.19" r="1.45"/>
<circle cx="215.03" cy="684.19" r="1.45"/>
<circle cx="217.47" cy="683.09" r="1.45"/>
<circle cx="220.76" cy="685.93" r="1.45"/>
<circle cx="223.12" cy="683.16" r="1.45"/>
<circle cx="225.95" cy="686.42" r="1.45"/>
<circle cx="228.84" cy="684.25" r="1.45"/>
<circle cx="232.09" cy="685.79" r="1.45"/>
<circle cx="234.4" cy="683.86" r="1.45"/>
<circle cx="237.56" cy="683.43" r="1.45"/>
<circle cx="240.3" cy="683.33" r="1.45"/>
<circle cx="243.13" cy="683.29" r="1.45"/>
<circle cx="246.09" cy="685.49" r="1.45"/>
<circle cx="248.58" cy="685.81" r="1.45"/>
<circle cx="251.42" cy="687.38" r="1.45"/>
<circle cx="254.59" cy="687.83" r="1.45"/>
<circle cx="257.38" cy="686.97" r="1.45"/>
<circle cx="259.9" cy="686.65" r="1.45"/>
<circle cx="263.07" cy="689.56" r="1.45"/>
<circle cx="265.59" cy="684.84" r="1.45"/>
<circle cx="268.57" cy="684" r="1.45"/>
<circle cx="271.28" cy="687.59" r="1.45"/>
<circle cx="274.28" cy="687.65" r="1.45"/>
<circle cx="276.85" cy="688.07" r="1.45"/>
<circle cx="279.72" cy="687.12" r="1.45"/>
<circle cx="282.67" cy="688.85" r="1.45"/>
<circle cx="285.59" cy="687.7" r="1.45"/>
<circle cx="288.49" cy="689.4" r="1.45"/>
<circle cx="291.01" cy="690.35" r="1.45"/>
<circle cx="294.1" cy="688.88" r="1.45"/>
<circle cx="297.1" cy="691.83" r="1.45"/>
<circle cx="299.68" cy="695.51" r="1.45"/>
</g>
<g fill="#99d35a" fill-opacity="0.85">
<circle cx="53.48" cy="697.6" r="1.45"/>
<circle cx="56.5" cy="697.6" r="1.45"/>
<circle cx="58.95" cy="697.6" r="1.45"/>
<circle cx="61.81" cy="697.54" r="1.45"/>
<circle cx="64.79" cy="697.09" r="1.45"/>
<circle cx="67.69" cy="696.83" r="1.45"/>
<circle cx="70.13" cy="697.07" r="1.45"/>
<circle cx="73.37" cy="696.64" r="1.45"/>
<circle cx="75.84" cy="693.03" r="1.45"/>
<circle cx="78.8" cy="692.43" r="1.45"/>
<circle cx="81.95" cy="689.64" r="1.45"/>
<circle cx="84.66" cy="687.35" r="1.45"/>
<circle cx="87.27" cy="680.79" r="1.45"/>
<circle cx="90.28" cy="678.68" r="1.45"/>
<circle cx="92.96" cy="680.22" r="1.45"/>
<circle cx="95.71" cy="673.18" r="1.45"/>
<circle cx="98.91" cy="668.84" r="1.45"/>
<circle cx="101.39" cy="666.81" r="1.45"/>
<circle cx="104.55" cy="670.33" r="1.45"/>
<circle cx="107.46" cy="672.53" r="1.45"/>
<circle cx="109.77" cy="672.16" r="1.45"/>
<circle cx="112.7" cy="675.98" r="1.45"/>
<circle cx="116" cy="681.09" r="1.45"/>
<circle cx="118.59" cy="678.69" r="1.45"/>
<circle cx="121.2" cy="681.49" r="1.45"/>
<circle cx="123.98" cy="681.97" r="1.45"/>
<circle cx="127.32" cy="682.83" r="1.45"/>
<circle cx="130.07" cy="683.41" r="1.45"/>
<circle cx="132.62" cy="683.09" r="1.45"/>
<circle cx="135.24" cy="680.53" r="1.45"/>
<circle cx="138.36" cy="682.84" r="1.45"/>
<circle cx="140.97" cy="681.94" r="1.45"/>
<circle cx="144.15" cy="678.32" r="1.45"/>
<circle cx="147.09" cy="678.05" r="1.45"/>
<circle cx="149.96" cy="677.25" r="1.45"/>
<circle cx="152.32" cy="676.56" r="1.45"/>
<circle cx="155.05" cy="676.42" r="1.45"/>
<circle cx="158.36" cy="678.28" r="1.45"/>
<circle cx="160.99" cy="677.45" r="1.45"/>
<circle cx="163.87" cy="679.29" r="1.45"/>
<circle cx="166.7" cy="679.49" r="1.45"/>
<circle cx="169.58" cy="677.65" r="1.45"/>
<circle cx="172.41" cy="676.4" r="1.45"/>
<circle cx="174.92" cy="675.94" r="1.45"/>
<circle cx="177.9" cy="676.67" r="1.45"/>
<circle cx="180.93" cy="681.92" r="1.45"/>
<circle cx="183.59" cy="681.1" r="1.45"/>
<circle cx="186.59" cy="680.4" r="1.45"/>
<circle cx="189.35" cy="677.2" r="1.45"/>
<circle cx="192.24" cy="677.4" r="1.45"/>
<circle cx="195.14" cy="680.27" r="1.45"/>
<circle cx="197.94" cy="682.65" r="1.45"/>
<circle cx="200.69" cy="679.97" r="1.45"/>
<circle cx="203.76" cy="679.54" r="1.45"/>
<circle cx="206.29" cy="682.84" r="1.45"/>
<circle cx="209.01" cy="681.08" r="1.45"/>
<circle cx="211.81" cy="681.88" r="1.45"/>
<circle cx="214.97" cy="678.11" r="1.45"/>
<circle cx="217.74" cy="682.84" r="1.45"/>
<circle cx="220.3" cy="680.47" r="1.45"/>
<circle cx="223.15" cy="685.54" r="1.45"/>
<circle cx="226.12" cy="686.83" r="1.45"/>
<circle cx="229.12" cy="687.1" r="1.45"/>
<circle cx="232.06" cy="685.23" r="1.45"/>
<circle cx="234.75" cy="687.74" r="1.45"/>
<circle cx="237.66" cy="686.18" r="1.45"/>
<circle cx="240.31" cy="683.68" r="1.45"/>
<circle cx="243.34" cy="683.74" r="1.45"/>
<circle cx="246.25" cy="683.24" r="1.45"/>
<circle cx="248.81" cy="686.37" r="1.45"/>
<circle cx="251.66" cy="688.18" r="1.45"/>
<circle cx="254.75" cy="685.3" r="1.45"/>
<circle cx="257.06" cy="685.3" r="1.45"/>
<circle cx="260.06" cy="684.34" r="1.45"/>
<circle cx="262.69" cy="687.4" r="1.45"/>
<circle cx="265.52" cy="687.59" r="1.45"/>
<circle cx="268.6" cy="687.98" r="1.45"/>
<circle cx="271.23" cy="690.74" r="1.45"/>
<circle cx="274.04" cy="685.5" r="1.45"/>
<circle cx="277.42" cy="685.54" r="1.45"/>
<circle cx="280.09" cy="687.86" r="1.45"/>
<circle cx="282.7" cy="687.48" r="1.45"/>
<circle cx="285.8" cy="690.21" r="1.45"/>
<circle cx="288.59" cy="687.41" r="1.45"/>
<circle cx="291.13" cy="689.06" r="1.45"/>
<circle cx="294.12" cy="690.25" r="1.45"/>
<circle cx="296.94" cy="693.71" r="1.45"/>
<circle cx="299.97" cy="695.51" r="1.45"/>
</g>
<g fill="#f8dc3c" fill-opacity="0.85">
<circle cx="53.29" cy="697.6" r="1.45"/>
<circle cx="56.29" cy="697.27" r="1.45"/>
<circle cx="58.91" cy="696.66" r="1.45"/>
<circle cx="61.8" cy="697.4" r="1.45"/>
<circle cx="65.02" cy="697.44" r="1.45"/>
<circle cx="67.52" cy="697.15" r="1.45"/>
<circle cx="70.13" cy="696.71" r="1.45"/>
<circle cx="73.08" cy="696.58" r="1.45"/>
<circle cx="76.28" cy="693.05" r="1.45"/>
<circle cx="78.99" cy="691.47" r="1.45"/>
<circle cx="81.57" cy="691.08" r="1.45"/>
<circle cx="84.85" cy="690.27" r="1.45"/>
<circle cx="87.35" cy="685.71" r="1.45"/>
<circle cx="89.93" cy="685.65" r="1.45"/>
<circle cx="93.03" cy="681.3" r="1.45"/>
<circle cx="95.59" cy="681.38" r="1.45"/>
<circle cx="98.78" cy="678.86" r="1.45"/>
<circle cx="101.63" cy="679.12" r="1.45"/>
<circle cx="104.65" cy="682.17" r="1.45"/>
<circle cx="107.32" cy="682.04" r="1.45"/>
<circle cx="110.31" cy="681.64" r="1.45"/>
<circle cx="112.88" cy="680.57" r="1.45"/>
<circle cx="115.59" cy="683.81" r="1.45"/>
<circle cx="118.31" cy="681.38" r="1.45"/>
<circle cx="121.56" cy="684.03" r="1.45"/>
<circle cx="124.33" cy="683.91" r="1.45"/>
<circle cx="127.29" cy="683.9" r="1.45"/>
<circle cx="129.75" cy="680.99" r="1.45"/>
<circle cx="132.53" cy="683.48" r="1.45"/>
<circle cx="135.37" cy="679.08" r="1.45"/>
<circle cx="138.43" cy="677.76" r="1.45"/>
<circle cx="141.32" cy="681.53" r="1.45"/>
<circle cx="143.76" cy="677.72" r="1.45"/>
<circle cx="147.15" cy="676.63" r="1.45"/>
<circle cx="149.73" cy="679.55" r="1.45"/>
<circle cx="152.3" cy="674.12" r="1.45"/>
<circle cx="155.59" cy="677.86" r="1.45"/>
<circle cx="157.94" cy="681.28" r="1.45"/>
<circle cx="161.06" cy="675.06" r="1.45"/>
<circle cx="163.6" cy="673.76" r="1.45"/>
<circle cx="166.52" cy="675.69" r="1.45"/>
<circle cx="169.69" cy="681.59" r="1.45"/>
<circle cx="172.62" cy="677.19" r="1.45"/>
<circle cx="175.08" cy="677.22" r="1.45"/>
<circle cx="177.85" cy="681.11" r="1.45"/>
<circle cx="181.06" cy="674.9" r="1.45"/>
<circle cx="183.79" cy="679.33" r="1.45"/>
<circle cx="186.6" cy="681.45" r="1.45"/>
<circle cx="189.33" cy="677.22" r="1.45"/>
<circle cx="192.4" cy="683.13" r="1.45"/>
<circle cx="194.79" cy="678.57" r="1.45"/>
<circle cx="197.65" cy="687.91" r="1.45"/>
<circle cx="200.6" cy="679.26" r="1.45"/>
<circle cx="203.43" cy="683.61" r="1.45"/>
<circle cx="206.38" cy="681.24" r="1.45"/>
<circle cx="208.94" cy="686.72" r="1.45"/>
<circle cx="212.03" cy="682.89" r="1.45"/>
<circle cx="214.92" cy="684.46" r="1.45"/>
<circle cx="217.47" cy="682.76" r="1.45"/>
<circle cx="220.74" cy="684.02" r="1.45"/>
<circle cx="223.23" cy="685.5" r="1.45"/>
<circle cx="226.13" cy="685.17" r="1.45"/>
<circle cx="229.11" cy="681.87" r="1.45"/>
<circle cx="232.07" cy="685.03" r="1.45"/>
<circle cx="234.45" cy="683.84" r="1.45"/>
<circle cx="237.71" cy="686.09" r="1.45"/>
<circle cx="240.38" cy="687.75" r="1.45"/>
<circle cx="242.98" cy="686.04" r="1.45"/>
<circle cx="245.94" cy="684.93" r="1.45"/>
<circle cx="249.04" cy="685.57" r="1.45"/>
<circle cx="251.4" cy="686.19" r="1.45"/>
<circle cx="254.31" cy="684.06" r="1.45"/>
<circle cx="257.03" cy="685.16" r="1.45"/>
<circle cx="259.88" cy="685.73" r="1.45"/>
<circle cx="263.1" cy="685.39" r="1.45"/>
<circle cx="265.5" cy="688.37" r="1.45"/>
<circle cx="268.34" cy="687.14" r="1.45"/>
<circle cx="271.35" cy="685.13" r="1.45"/>
<circle cx="274.51" cy="686.32" r="1.45"/>
<circle cx="276.84" cy="687.65" r="1.45"/>
<circle cx="280.14" cy="689.96" r="1.45"/>
<circle cx="282.59" cy="687.97" r="1.45"/>
<circle cx="285.37" cy="686.91" r="1.45"/>
<circle cx="288.52" cy="690.95" r="1.45"/>
<circle cx="291.22" cy="689.4" r="1.45"/>
<circle cx="294.38" cy="693.73" r="1.45"/>
<circle cx="296.84" cy="692.72" r="1.45"/>
<circle cx="299.87" cy="695.52" r="1.45"/>
</g>
<path d="M61.89 697.6 L63.31 697.55 L64.72 697.41 L66.14 697.24 L67.56 697.06 L68.97 696.93 L70.39 696.87 L71.8 696.6 L73.22 695.93 L74.64 695.05 L76.05 694.18 L77.47 693.5 L78.88 693.23 L80.3 692.89 L81.72 691.98 L83.13 690.7 L84.55 689.23 L85.96 687.76 L87.38 686.48 L88.8 685.57 L90.21 685.22 L91.63 685.01 L93.04 684.43 L94.46 683.61 L95.88 682.68 L97.29 681.74 L98.71 680.92 L100.12 680.35 L101.54 680.13 L102.96 680.24 L104.37 680.51 L105.79 680.86 L107.2 681.21 L108.62 681.48 L110.04 681.58 L111.45 681.75 L112.87 682.15 L114.28 682.68 L115.7 683.2 L117.12 683.61 L118.53 683.77 L119.95 683.74 L121.36 683.65 L122.78 683.54 L124.2 683.4 L125.61 683.27 L127.03 683.15 L128.44 683.07 L129.86 683.04 L131.28 682.88 L132.69 682.47 L134.11 681.89 L135.52 681.22 L136.94 680.55 L138.36 679.97 L139.77 679.56 L141.19 679.4 L142.6 679.33 L144.02 679.13 L145.44 678.83 L146.85 678.46 L148.27 678.03 L149.68 677.58 L151.1 677.13 L152.52 676.7 L153.93 676.33 L155.35 676.03 L156.76 675.83 L158.18 675.76 L159.6 675.8 L161.01 675.92 L162.43 676.1 L163.84 676.33 L165.26 676.58 L166.68 676.85 L168.09 677.12 L169.51 677.38 L170.92 677.6 L172.34 677.78 L173.76 677.9 L175.17 677.94 L176.59 677.98 L178 678.07 L179.42 678.21 L180.84 678.4 L182.25 678.63 L183.67 678.89 L185.08 679.17 L186.5 679.46 L187.92 679.76 L189.33 680.07 L190.75 680.36 L192.16 680.64 L193.58 680.9 L195 681.12 L196.41 681.31 L197.83 681.46 L199.24 681.55 L200.66 681.58 L202.08 681.61 L203.49 681.67 L204.91 681.76 L206.32 681.89 L207.74 682.04 L209.16 682.21 L210.57 682.4 L211.99 682.61 L213.4 682.82 L214.82 683.04 L216.24 683.26 L217.65 683.47 L219.07 683.68 L220.48 683.87 L221.9 684.04 L223.32 684.19 L224.73 684.32 L226.15 684.41 L227.56 684.47 L228.98 684.5 L230.4 684.51 L231.81 684.54 L233.23 684.58 L234.64 684.65 L236.06 684.72 L237.48 684.81 L238.89 684.91 L240.31 685.01 L241.72 685.12 L243.14 685.22 L244.56 685.33 L245.97 685.44 L247.39 685.54 L248.8 685.64 L250.22 685.72 L251.64 685.8 L253.05 685.86 L254.47 685.91 L255.88 685.94 L257.3 685.95 L258.72 685.97 L260.13 686.03 L261.55 686.11 L262.96 686.23 L264.38 686.36 L265.8 686.52 L267.21 686.69 L268.63 686.86 L270.04 687.04 L271.46 687.23 L272.88 687.4 L274.29 687.57 L275.71 687.72 L277.12 687.86 L278.54 687.97 L279.96 688.06 L281.37 688.12 L282.79 688.14 L284.2 688.23 L285.62 688.48 L287.04 688.83 L288.45 689.23 L289.87 689.63 L291.28 689.98 L292.7 690.23 L294.12 690.32 L295.53 691.12 L296.95 692.87 L298.36 694.62 L299.78 695.42" fill="none" stroke="#111" stroke-width="1"/>
<line x1="32.5" y1="700.3" x2="313" y2="700.3" stroke="#222" stroke-width="1.3"/>
<text x="146.1" y="640.4" font-size="12.3">URT1</text>
<circle cx="297.7" cy="658.3" r="15.35" fill="#d7d7d7"/>
<path d="M297.7 658.3 L297.7 642.95 A15.35 15.35 0 0 1 312.52 654.3 Z" fill="#c0201f" stroke="#fff" stroke-width="0.4"/>
<text x="286.6" y="639.5" font-size="10.9" fill="#c0282d">20.8% (b)</text>
<line x1="32.5" y1="703.6" x2="32.5" y2="778.3" stroke="#222" stroke-width="1"/>
<line x1="28.9" y1="774.4" x2="32.5" y2="774.4" stroke="#222" stroke-width="0.8"/>
<text x="26.9" y="777.5" font-size="9" text-anchor="end" fill="#222">0.00</text>
<line x1="28.9" y1="756.07" x2="32.5" y2="756.07" stroke="#222" stroke-width="0.8"/>
<text x="26.9" y="759.17" font-size="9" text-anchor="end" fill="#222">0.25</text>
<line x1="28.9" y1="737.75" x2="32.5" y2="737.75" stroke="#222" stroke-width="0.8"/>
<text x="26.9" y="740.85" font-size="9" text-anchor="end" fill="#222">0.50</text>
<line x1="28.9" y1="719.42" x2="32.5" y2="719.42" stroke="#222" stroke-width="0.8"/>
<text x="26.9" y="722.52" font-size="9" text-anchor="end" fill="#222">0.75</text>
<path d="M61.89 774.4 L61.89 771.78 L64.72 769.53 L67.56 766 L70.39 760.97 L73.22 754.52 L76.05 747.15 L78.88 739.83 L81.72 733.83 L84.55 730.37 L87.38 730.45 L90.21 735.12 L93.04 742.92 L95.88 751.64 L98.71 759.35 L101.54 765.02 L104.37 768.59 L107.2 770.54 L110.04 771.47 L112.87 771.87 L115.7 772.03 L118.53 772.09 L121.36 772.13 L124.2 772.15 L127.03 772.17 L129.86 772.19 L132.69 772.21 L135.52 772.24 L138.36 772.26 L141.19 772.28 L144.02 772.3 L146.85 772.32 L149.68 772.34 L152.52 772.36 L155.35 772.38 L158.18 772.4 L161.01 772.42 L163.84 772.45 L166.68 772.47 L169.51 772.49 L172.34 772.51 L175.17 772.53 L178 772.55 L180.84 772.57 L183.67 772.59 L186.5 772.61 L189.33 772.63 L192.16 772.66 L195 772.68 L197.83 772.7 L200.66 772.72 L203.49 772.74 L206.32 772.76 L209.16 772.78 L211.99 772.8 L214.82 772.82 L217.65 772.85 L220.48 772.87 L223.32 772.89 L226.15 772.91 L228.98 772.93 L231.81 772.95 L234.64 772.97 L237.48 772.99 L240.31 773.01 L243.14 773.03 L245.97 773.06 L248.8 773.08 L251.64 773.1 L254.47 773.12 L257.3 773.14 L260.13 773.16 L262.96 773.18 L265.8 773.2 L268.63 773.22 L271.46 773.24 L274.29 773.27 L277.12 773.29 L279.96 773.31 L282.79 773.33 L285.62 773.35 L288.45 773.37 L291.28 773.39 L294.12 773.41 L296.95 773.43 L299.78 773.45 L299.78 774.4 Z" fill="#cdcdcd"/>
<line x1="61.89" y1="774.4" x2="299.78" y2="774.4" stroke="#333" stroke-width="1"/>
<g fill="#6a3d7c" fill-opacity="0.85">
<circle cx="53.52" cy="774.29" r="1.45"/>
<circle cx="56.43" cy="773.24" r="1.45"/>
<circle cx="58.89" cy="772.83" r="1.45"/>
<circle cx="61.91" cy="771.25" r="1.45"/>
<circle cx="64.64" cy="768.31" r="1.45"/>
<circle cx="67.46" cy="765.52" r="1.45"/>
<circle cx="70.18" cy="762.43" r="1.45"/>
<circle cx="73.51" cy="758.49" r="1.45"/>
<circle cx="76.12" cy="749.18" r="1.45"/>
<circle cx="79.07" cy="741.3" r="1.45"/>
<circle cx="81.8" cy="735.24" r="1.45"/>
<circle cx="84.64" cy="730.74" r="1.45"/>
<circle cx="87.42" cy="736.95" r="1.45"/>
<circle cx="90.13" cy="737.32" r="1.45"/>
<circle cx="92.9" cy="745.65" r="1.45"/>
<circle cx="95.91" cy="752.25" r="1.45"/>
<circle cx="98.99" cy="757.07" r="1.45"/>
<circle cx="101.33" cy="763.85" r="1.45"/>
<circle cx="104.66" cy="768.29" r="1.45"/>
<circle cx="107.47" cy="770.47" r="1.45"/>
<circle cx="110.06" cy="771.24" r="1.45"/>
<circle cx="112.69" cy="771.69" r="1.45"/>
<circle cx="115.76" cy="771.56" r="1.45"/>
<circle cx="118.67" cy="772.2" r="1.45"/>
<circle cx="121.58" cy="770.72" r="1.45"/>
<circle cx="124.36" cy="772.51" r="1.45"/>
<circle cx="127.15" cy="772.38" r="1.45"/>
<circle cx="129.82" cy="771.94" r="1.45"/>
<circle cx="132.94" cy="771.59" r="1.45"/>
<circle cx="135.76" cy="772.21" r="1.45"/>
<circle cx="138.53" cy="772.23" r="1.45"/>
<circle cx="140.9" cy="771.66" r="1.45"/>
<circle cx="144.2" cy="772.01" r="1.45"/>
<circle cx="147.1" cy="772.07" r="1.45"/>
<circle cx="149.52" cy="772.26" r="1.45"/>
<circle cx="152.44" cy="772.53" r="1.45"/>
<circle cx="155.44" cy="771.57" r="1.45"/>
<circle cx="158.4" cy="772.4" r="1.45"/>
<circle cx="161.14" cy="771.98" r="1.45"/>
<circle cx="163.69" cy="772.1" r="1.45"/>
<circle cx="166.63" cy="772.48" r="1.45"/>
<circle cx="169.38" cy="771.76" r="1.45"/>
<circle cx="172.63" cy="771.69" r="1.45"/>
<circle cx="175.35" cy="772.7" r="1.45"/>
<circle cx="178.17" cy="773.61" r="1.45"/>
<circle cx="181.11" cy="772.08" r="1.45"/>
<circle cx="183.42" cy="771.97" r="1.45"/>
<circle cx="186.2" cy="771.95" r="1.45"/>
<circle cx="189.22" cy="772.04" r="1.45"/>
<circle cx="192.23" cy="772.69" r="1.45"/>
<circle cx="194.73" cy="772.01" r="1.45"/>
<circle cx="198" cy="772.53" r="1.45"/>
<circle cx="200.39" cy="771.89" r="1.45"/>
<circle cx="203.66" cy="773.22" r="1.45"/>
<circle cx="206.11" cy="773.06" r="1.45"/>
<circle cx="209.42" cy="772.29" r="1.45"/>
<circle cx="211.78" cy="772.95" r="1.45"/>
<circle cx="215.07" cy="773.51" r="1.45"/>
<circle cx="217.65" cy="772.27" r="1.45"/>
<circle cx="220.4" cy="772.26" r="1.45"/>
<circle cx="223.25" cy="772.64" r="1.45"/>
<circle cx="226.1" cy="773.29" r="1.45"/>
<circle cx="228.92" cy="773.21" r="1.45"/>
<circle cx="231.71" cy="773.36" r="1.45"/>
<circle cx="234.46" cy="772.16" r="1.45"/>
<circle cx="237.55" cy="773.21" r="1.45"/>
<circle cx="240.37" cy="772.49" r="1.45"/>
<circle cx="243.18" cy="772.78" r="1.45"/>
<circle cx="245.7" cy="773.12" r="1.45"/>
<circle cx="249.04" cy="773.7" r="1.45"/>
<circle cx="251.91" cy="772.64" r="1.45"/>
<circle cx="254.75" cy="772.81" r="1.45"/>
<circle cx="257.13" cy="772.97" r="1.45"/>
<circle cx="260.16" cy="772.96" r="1.45"/>
<circle cx="263.26" cy="773.44" r="1.45"/>
<circle cx="265.81" cy="773.51" r="1.45"/>
<circle cx="268.37" cy="772.31" r="1.45"/>
<circle cx="271.74" cy="774.19" r="1.45"/>
<circle cx="274.13" cy="772.22" r="1.45"/>
<circle cx="276.87" cy="774.24" r="1.45"/>
<circle cx="279.82" cy="773.16" r="1.45"/>
<circle cx="283.07" cy="773.24" r="1.45"/>
<circle cx="285.79" cy="773.12" r="1.45"/>
<circle cx="288.72" cy="773.05" r="1.45"/>
<circle cx="291.01" cy="773.28" r="1.45"/>
<circle cx="294.09" cy="772.79" r="1.45"/>
<circle cx="296.89" cy="773.37" r="1.45"/>
<circle cx="300.08" cy="772.85" r="1.45"/>
</g>
<g fill="#6b63a6" fill-opacity="0.85">
<circle cx="53.35" cy="774.11" r="1.45"/>
<circle cx="56.25" cy="774.09" r="1.45"/>
<circle cx="59.22" cy="773.12" r="1.45"/>
<circle cx="62.12" cy="771.11" r="1.45"/>
<circle cx="64.8" cy="768.14" r="1.45"/>
<circle cx="67.4" cy="766.89" r="1.45"/>
<circle cx="70.5" cy="766.49" r="1.45"/>
<circle cx="73.36" cy="755.95" r="1.45"/>
<circle cx="76.15" cy="744.1" r="1.45"/>
<circle cx="78.64" cy="742.59" r="1.45"/>
<circle cx="81.85" cy="737.37" r="1.45"/>
<circle cx="84.49" cy="734.17" r="1.45"/>
<circle cx="87.35" cy="739.21" r="1.45"/>
<circle cx="90.31" cy="739.85" r="1.45"/>
<circle cx="93.03" cy="748.91" r="1.45"/>
<circle cx="95.96" cy="752.4" r="1.45"/>
<circle cx="98.74" cy="761.9" r="1.45"/>
<circle cx="101.47" cy="765.47" r="1.45"/>
<circle cx="104.59" cy="766.92" r="1.45"/>
<circle cx="107.12" cy="771.1" r="1.45"/>
<circle cx="109.9" cy="769.29" r="1.45"/>
<circle cx="112.96" cy="770.77" r="1.45"/>
<circle cx="115.88" cy="771.53" r="1.45"/>
<circle cx="118.63" cy="771.93" r="1.45"/>
<circle cx="121.22" cy="770.81" r="1.45"/>
<circle cx="124.4" cy="772.27" r="1.45"/>
<circle cx="127.08" cy="771.45" r="1.45"/>
<circle cx="129.9" cy="772.28" r="1.45"/>
<circle cx="132.85" cy="771.63" r="1.45"/>
<circle cx="135.44" cy="771.88" r="1.45"/>
<circle cx="138.28" cy="771.8" r="1.45"/>
<circle cx="141.29" cy="771.57" r="1.45"/>
<circle cx="143.83" cy="771.44" r="1.45"/>
<circle cx="147.12" cy="771.25" r="1.45"/>
<circle cx="149.93" cy="771.46" r="1.45"/>
<circle cx="152.41" cy="772.72" r="1.45"/>
<circle cx="155.3" cy="772.83" r="1.45"/>
<circle cx="158.13" cy="771.16" r="1.45"/>
<circle cx="160.93" cy="772.27" r="1.45"/>
<circle cx="163.94" cy="772.68" r="1.45"/>
<circle cx="166.77" cy="772.65" r="1.45"/>
<circle cx="169.37" cy="772.25" r="1.45"/>
<circle cx="172.11" cy="772.36" r="1.45"/>
<circle cx="175.25" cy="771.6" r="1.45"/>
<circle cx="178.01" cy="772.29" r="1.45"/>
<circle cx="180.54" cy="772.64" r="1.45"/>
<circle cx="183.76" cy="771.83" r="1.45"/>
<circle cx="186.57" cy="771.83" r="1.45"/>
<circle cx="189.18" cy="773.39" r="1.45"/>
<circle cx="192.2" cy="772.53" r="1.45"/>
<circle cx="195.05" cy="771.95" r="1.45"/>
<circle cx="197.71" cy="772.42" r="1.45"/>
<circle cx="200.51" cy="773.68" r="1.45"/>
<circle cx="203.35" cy="772.82" r="1.45"/>
<circle cx="206.32" cy="773.14" r="1.45"/>
<circle cx="208.91" cy="772.25" r="1.45"/>
<circle cx="211.86" cy="771.55" r="1.45"/>
<circle cx="214.99" cy="771.53" r="1.45"/>
<circle cx="217.58" cy="771.8" r="1.45"/>
<circle cx="220.21" cy="773.05" r="1.45"/>
<circle cx="223.27" cy="772.61" r="1.45"/>
<circle cx="226.21" cy="774.15" r="1.45"/>
<circle cx="229.19" cy="772.71" r="1.45"/>
<circle cx="231.59" cy="772.3" r="1.45"/>
<circle cx="234.86" cy="773.87" r="1.45"/>
<circle cx="237.52" cy="773.8" r="1.45"/>
<circle cx="240.52" cy="772.44" r="1.45"/>
<circle cx="242.89" cy="772.67" r="1.45"/>
<circle cx="245.92" cy="773.35" r="1.45"/>
<circle cx="249.07" cy="772.68" r="1.45"/>
<circle cx="251.4" cy="773.49" r="1.45"/>
<circle cx="254.51" cy="773.66" r="1.45"/>
<circle cx="257.26" cy="772.16" r="1.45"/>
<circle cx="260.43" cy="773.29" r="1.45"/>
<circle cx="262.9" cy="772.89" r="1.45"/>
<circle cx="265.58" cy="772.83" r="1.45"/>
<circle cx="268.47" cy="773.03" r="1.45"/>
<circle cx="271.28" cy="773.13" r="1.45"/>
<circle cx="274.17" cy="774.25" r="1.45"/>
<circle cx="277.02" cy="773.42" r="1.45"/>
<circle cx="279.71" cy="773.58" r="1.45"/>
<circle cx="283" cy="772.77" r="1.45"/>
<circle cx="285.62" cy="773.26" r="1.45"/>
<circle cx="288.66" cy="773.24" r="1.45"/>
<circle cx="291.48" cy="773.1" r="1.45"/>
<circle cx="293.94" cy="772.69" r="1.45"/>
<circle cx="296.98" cy="773.81" r="1.45"/>
<circle cx="299.93" cy="772.42" r="1.45"/>
</g>
<g fill="#4e8aa2" fill-opacity="0.85">
<circle cx="53.34" cy="773.96" r="1.45"/>
<circle cx="55.96" cy="773.92" r="1.45"/>
<circle cx="58.87" cy="773.22" r="1.45"/>
<circle cx="62.18" cy="771.77" r="1.45"/>
<circle cx="64.74" cy="768.33" r="1.45"/>
<circle cx="67.31" cy="763.34" r="1.45"/>
<circle cx="70.27" cy="764.37" r="1.45"/>
<circle cx="73.16" cy="755.04" r="1.45"/>
<circle cx="75.94" cy="747.61" r="1.45"/>
<circle cx="78.73" cy="747.49" r="1.45"/>
<circle cx="81.74" cy="741.94" r="1.45"/>
<circle cx="84.43" cy="733.06" r="1.45"/>
<circle cx="87.47" cy="734.22" r="1.45"/>
<circle cx="90.47" cy="738.32" r="1.45"/>
<circle cx="92.83" cy="749.57" r="1.45"/>
<circle cx="96.13" cy="757.55" r="1.45"/>
<circle cx="98.83" cy="762.28" r="1.45"/>
<circle cx="101.64" cy="765.11" r="1.45"/>
<circle cx="104.11" cy="767.66" r="1.45"/>
<circle cx="107.47" cy="770.01" r="1.45"/>
<circle cx="109.87" cy="770.92" r="1.45"/>
<circle cx="112.83" cy="771.61" r="1.45"/>
<circle cx="115.98" cy="771.51" r="1.45"/>
<circle cx="118.6" cy="771.31" r="1.45"/>
<circle cx="121.19" cy="772.59" r="1.45"/>
<circle cx="124.02" cy="771.23" r="1.45"/>
<circle cx="126.8" cy="771.29" r="1.45"/>
<circle cx="129.64" cy="770.73" r="1.45"/>
<circle cx="132.69" cy="771.03" r="1.45"/>
<circle cx="135.23" cy="772.66" r="1.45"/>
<circle cx="138.15" cy="772.09" r="1.45"/>
<circle cx="141.02" cy="772.92" r="1.45"/>
<circle cx="144.2" cy="772.14" r="1.45"/>
<circle cx="146.87" cy="772.98" r="1.45"/>
<circle cx="149.81" cy="771.44" r="1.45"/>
<circle cx="152.53" cy="771.15" r="1.45"/>
<circle cx="155.1" cy="772.45" r="1.45"/>
<circle cx="157.91" cy="771.99" r="1.45"/>
<circle cx="161.14" cy="771.92" r="1.45"/>
<circle cx="163.81" cy="771.01" r="1.45"/>
<circle cx="166.93" cy="773.22" r="1.45"/>
<circle cx="169.29" cy="771.63" r="1.45"/>
<circle cx="172.49" cy="771.86" r="1.45"/>
<circle cx="175.4" cy="771.68" r="1.45"/>
<circle cx="178.14" cy="771.98" r="1.45"/>
<circle cx="180.72" cy="773.16" r="1.45"/>
<circle cx="183.5" cy="772.34" r="1.45"/>
<circle cx="186.77" cy="771.59" r="1.45"/>
<circle cx="189.62" cy="772.56" r="1.45"/>
<circle cx="192.06" cy="772.74" r="1.45"/>
<circle cx="195.09" cy="772.13" r="1.45"/>
<circle cx="197.94" cy="772.02" r="1.45"/>
<circle cx="200.47" cy="772.34" r="1.45"/>
<circle cx="203.39" cy="772.16" r="1.45"/>
<circle cx="206.24" cy="772.63" r="1.45"/>
<circle cx="209.25" cy="772.43" r="1.45"/>
<circle cx="212" cy="772.34" r="1.45"/>
<circle cx="214.56" cy="771.76" r="1.45"/>
<circle cx="217.82" cy="772.7" r="1.45"/>
<circle cx="220.72" cy="772.61" r="1.45"/>
<circle cx="223.18" cy="772.32" r="1.45"/>
<circle cx="226.03" cy="772.86" r="1.45"/>
<circle cx="228.8" cy="773.5" r="1.45"/>
<circle cx="231.79" cy="773.19" r="1.45"/>
<circle cx="234.89" cy="772.63" r="1.45"/>
<circle cx="237.52" cy="773.7" r="1.45"/>
<circle cx="240.07" cy="773.01" r="1.45"/>
<circle cx="242.84" cy="772.12" r="1.45"/>
<circle cx="245.85" cy="772.73" r="1.45"/>
<circle cx="248.61" cy="772.57" r="1.45"/>
<circle cx="251.53" cy="773.25" r="1.45"/>
<circle cx="254.39" cy="772.41" r="1.45"/>
<circle cx="257.49" cy="772.14" r="1.45"/>
<circle cx="260.27" cy="772.31" r="1.45"/>
<circle cx="262.73" cy="773.84" r="1.45"/>
<circle cx="265.59" cy="772.76" r="1.45"/>
<circle cx="268.35" cy="773.15" r="1.45"/>
<circle cx="271.51" cy="772.97" r="1.45"/>
<circle cx="274.24" cy="773.78" r="1.45"/>
<circle cx="277.33" cy="772.68" r="1.45"/>
<circle cx="280.1" cy="772.37" r="1.45"/>
<circle cx="282.7" cy="772.76" r="1.45"/>
<circle cx="285.32" cy="773.3" r="1.45"/>
<circle cx="288.54" cy="773.4" r="1.45"/>
<circle cx="291.14" cy="773" r="1.45"/>
<circle cx="293.88" cy="773.63" r="1.45"/>
<circle cx="296.81" cy="773.25" r="1.45"/>
<circle cx="299.8" cy="773" r="1.45"/>
</g>
<g fill="#55c0a2" fill-opacity="0.85">
<circle cx="53.44" cy="774.26" r="1.45"/>
<circle cx="55.95" cy="773.37" r="1.45"/>
<circle cx="58.93" cy="772.94" r="1.45"/>
<circle cx="61.93" cy="769.76" r="1.45"/>
<circle cx="64.86" cy="766.91" r="1.45"/>
<circle cx="67.58" cy="764.81" r="1.45"/>
<circle cx="70.15" cy="754.05" r="1.45"/>
<circle cx="72.95" cy="743.43" r="1.45"/>
<circle cx="75.88" cy="732.14" r="1.45"/>
<circle cx="79.03" cy="727.03" r="1.45"/>
<circle cx="81.92" cy="711.11" r="1.45"/>
<circle cx="84.85" cy="706.56" r="1.45"/>
<circle cx="87.15" cy="712.96" r="1.45"/>
<circle cx="90.25" cy="712.68" r="1.45"/>
<circle cx="92.87" cy="723.6" r="1.45"/>
<circle cx="95.72" cy="737.67" r="1.45"/>
<circle cx="98.9" cy="751.34" r="1.45"/>
<circle cx="101.73" cy="761.65" r="1.45"/>
<circle cx="104.13" cy="766.91" r="1.45"/>
<circle cx="107.03" cy="769.61" r="1.45"/>
<circle cx="109.92" cy="770.94" r="1.45"/>
<circle cx="112.62" cy="771.86" r="1.45"/>
<circle cx="115.51" cy="771.59" r="1.45"/>
<circle cx="118.42" cy="772.56" r="1.45"/>
<circle cx="121.08" cy="770.76" r="1.45"/>
<circle cx="124.37" cy="772.24" r="1.45"/>
<circle cx="126.83" cy="771.37" r="1.45"/>
<circle cx="130.04" cy="771.24" r="1.45"/>
<circle cx="132.95" cy="771.81" r="1.45"/>
<circle cx="135.64" cy="772.3" r="1.45"/>
<circle cx="138.06" cy="771.97" r="1.45"/>
<circle cx="141.42" cy="772.15" r="1.45"/>
<circle cx="143.92" cy="771.23" r="1.45"/>
<circle cx="146.59" cy="771.81" r="1.45"/>
<circle cx="149.9" cy="772.18" r="1.45"/>
<circle cx="152.25" cy="772.16" r="1.45"/>
<circle cx="155.44" cy="772.47" r="1.45"/>
<circle cx="158.46" cy="771.62" r="1.45"/>
<circle cx="161.01" cy="773.04" r="1.45"/>
<circle cx="164.01" cy="772.66" r="1.45"/>
<circle cx="166.79" cy="772.61" r="1.45"/>
<circle cx="169.39" cy="772.17" r="1.45"/>
<circle cx="172.51" cy="771.57" r="1.45"/>
<circle cx="175.28" cy="772.01" r="1.45"/>
<circle cx="178.09" cy="771.95" r="1.45"/>
<circle cx="181.1" cy="771.77" r="1.45"/>
<circle cx="183.72" cy="773.27" r="1.45"/>
<circle cx="186.59" cy="772.4" r="1.45"/>
<circle cx="189.5" cy="772.49" r="1.45"/>
<circle cx="192.35" cy="772.53" r="1.45"/>
<circle cx="194.84" cy="772.39" r="1.45"/>
<circle cx="197.88" cy="773.54" r="1.45"/>
<circle cx="200.71" cy="773.54" r="1.45"/>
<circle cx="203.75" cy="772.91" r="1.45"/>
<circle cx="206.42" cy="772.35" r="1.45"/>
<circle cx="209.09" cy="772.64" r="1.45"/>
<circle cx="211.89" cy="773.23" r="1.45"/>
<circle cx="214.75" cy="773.27" r="1.45"/>
<circle cx="217.76" cy="772.21" r="1.45"/>
<circle cx="220.66" cy="772.75" r="1.45"/>
<circle cx="223.27" cy="773.27" r="1.45"/>
<circle cx="226.03" cy="773.7" r="1.45"/>
<circle cx="229.25" cy="772.93" r="1.45"/>
<circle cx="232.04" cy="771.99" r="1.45"/>
<circle cx="234.52" cy="773.3" r="1.45"/>
<circle cx="237.26" cy="772.68" r="1.45"/>
<circle cx="240.24" cy="773.01" r="1.45"/>
<circle cx="243.12" cy="772.88" r="1.45"/>
<circle cx="246.27" cy="772.35" r="1.45"/>
<circle cx="248.62" cy="772.76" r="1.45"/>
<circle cx="251.66" cy="772.46" r="1.45"/>
<circle cx="254.31" cy="773.27" r="1.45"/>
<circle cx="257.23" cy="772.77" r="1.45"/>
<circle cx="260.37" cy="772.22" r="1.45"/>
<circle cx="262.75" cy="773.36" r="1.45"/>
<circle cx="265.6" cy="772.7" r="1.45"/>
<circle cx="268.86" cy="773.62" r="1.45"/>
<circle cx="271.74" cy="772.27" r="1.45"/>
<circle cx="274.52" cy="773.25" r="1.45"/>
<circle cx="277.3" cy="772.67" r="1.45"/>
<circle cx="280.24" cy="773.95" r="1.45"/>
<circle cx="282.72" cy="773.8" r="1.45"/>
<circle cx="285.38" cy="772.15" r="1.45"/>
<circle cx="288.3" cy="773.14" r="1.45"/>
<circle cx="291.43" cy="773.93" r="1.45"/>
<circle cx="294.22" cy="773.56" r="1.45"/>
<circle cx="297.1" cy="772.44" r="1.45"/>
<circle cx="299.88" cy="773.38" r="1.45"/>
</g>
<g fill="#99d35a" fill-opacity="0.85">
<circle cx="53.25" cy="773.59" r="1.45"/>
<circle cx="56.18" cy="773.09" r="1.45"/>
<circle cx="58.92" cy="773.37" r="1.45"/>
<circle cx="61.77" cy="771.41" r="1.45"/>
<circle cx="64.84" cy="769.18" r="1.45"/>
<circle cx="67.82" cy="762.97" r="1.45"/>
<circle cx="70.48" cy="753.12" r="1.45"/>
<circle cx="73.22" cy="743.87" r="1.45"/>
<circle cx="76.28" cy="731.81" r="1.45"/>
<circle cx="79.12" cy="720.72" r="1.45"/>
<circle cx="81.6" cy="708.05" r="1.45"/>
<circle cx="84.56" cy="705.6" r="1.45"/>
<circle cx="87.36" cy="705.6" r="1.45"/>
<circle cx="90.48" cy="708.67" r="1.45"/>
<circle cx="93.31" cy="725.34" r="1.45"/>
<circle cx="95.74" cy="738.65" r="1.45"/>
<circle cx="98.71" cy="749.35" r="1.45"/>
<circle cx="101.84" cy="757.19" r="1.45"/>
<circle cx="104.66" cy="767.09" r="1.45"/>
<circle cx="107.28" cy="769.02" r="1.45"/>
<circle cx="109.75" cy="770.94" r="1.45"/>
<circle cx="112.9" cy="770.35" r="1.45"/>
<circle cx="115.97" cy="771.86" r="1.45"/>
<circle cx="118.62" cy="771.57" r="1.45"/>
<circle cx="121.28" cy="773.45" r="1.45"/>
<circle cx="124.44" cy="771.71" r="1.45"/>
<circle cx="127.03" cy="772.34" r="1.45"/>
<circle cx="129.59" cy="770.79" r="1.45"/>
<circle cx="132.51" cy="773.14" r="1.45"/>
<circle cx="135.71" cy="772.15" r="1.45"/>
<circle cx="138.37" cy="771.42" r="1.45"/>
<circle cx="141.3" cy="771.73" r="1.45"/>
<circle cx="144.3" cy="771.28" r="1.45"/>
<circle cx="147.02" cy="772.43" r="1.45"/>
<circle cx="149.55" cy="772.6" r="1.45"/>
<circle cx="152.75" cy="771.31" r="1.45"/>
<circle cx="155.6" cy="772.88" r="1.45"/>
<circle cx="158.12" cy="771.95" r="1.45"/>
<circle cx="160.9" cy="772.34" r="1.45"/>
<circle cx="164.02" cy="772.64" r="1.45"/>
<circle cx="166.93" cy="772.44" r="1.45"/>
<circle cx="169.58" cy="772.13" r="1.45"/>
<circle cx="172.14" cy="772.81" r="1.45"/>
<circle cx="175.41" cy="772.23" r="1.45"/>
<circle cx="178.03" cy="771.79" r="1.45"/>
<circle cx="180.93" cy="772.14" r="1.45"/>
<circle cx="183.41" cy="771.95" r="1.45"/>
<circle cx="186.43" cy="772.82" r="1.45"/>
<circle cx="189.52" cy="772.47" r="1.45"/>
<circle cx="192.37" cy="772.94" r="1.45"/>
<circle cx="194.7" cy="771.94" r="1.45"/>
<circle cx="197.85" cy="771.99" r="1.45"/>
<circle cx="200.72" cy="772.6" r="1.45"/>
<circle cx="203.41" cy="772.93" r="1.45"/>
<circle cx="206.55" cy="771.31" r="1.45"/>
<circle cx="208.91" cy="772.66" r="1.45"/>
<circle cx="212.19" cy="773.4" r="1.45"/>
<circle cx="214.95" cy="773.21" r="1.45"/>
<circle cx="217.46" cy="772.28" r="1.45"/>
<circle cx="220.62" cy="772.76" r="1.45"/>
<circle cx="223.26" cy="772.65" r="1.45"/>
<circle cx="226.35" cy="772.95" r="1.45"/>
<circle cx="228.92" cy="772.43" r="1.45"/>
<circle cx="231.81" cy="773.75" r="1.45"/>
<circle cx="234.77" cy="773.32" r="1.45"/>
<circle cx="237.26" cy="771.81" r="1.45"/>
<circle cx="240.56" cy="772.84" r="1.45"/>
<circle cx="243.01" cy="773.38" r="1.45"/>
<circle cx="246.23" cy="772.65" r="1.45"/>
<circle cx="248.54" cy="772.05" r="1.45"/>
<circle cx="251.48" cy="772.17" r="1.45"/>
<circle cx="254.43" cy="772.9" r="1.45"/>
<circle cx="257.47" cy="772.74" r="1.45"/>
<circle cx="260.24" cy="772.11" r="1.45"/>
<circle cx="262.8" cy="772.81" r="1.45"/>
<circle cx="266.01" cy="773.24" r="1.45"/>
<circle cx="268.5" cy="773.01" r="1.45"/>
<circle cx="271.18" cy="772.78" r="1.45"/>
<circle cx="274.22" cy="771.87" r="1.45"/>
<circle cx="277" cy="773.34" r="1.45"/>
<circle cx="279.89" cy="773.78" r="1.45"/>
<circle cx="283.03" cy="774.01" r="1.45"/>
<circle cx="285.68" cy="773.39" r="1.45"/>
<circle cx="288.46" cy="774.08" r="1.45"/>
<circle cx="291.17" cy="774.11" r="1.45"/>
<circle cx="294.03" cy="773.96" r="1.45"/>
<circle cx="296.7" cy="774.26" r="1.45"/>
<circle cx="299.49" cy="773.76" r="1.45"/>
</g>
<g fill="#f8dc3c" fill-opacity="0.85">
<circle cx="53.67" cy="774.34" r="1.45"/>
<circle cx="56.06" cy="773.73" r="1.45"/>
<circle cx="59.03" cy="773.78" r="1.45"/>
<circle cx="61.89" cy="771.07" r="1.45"/>
<circle cx="64.78" cy="767.63" r="1.45"/>
<circle cx="67.28" cy="764.84" r="1.45"/>
<circle cx="70.38" cy="756.55" r="1.45"/>
<circle cx="73.1" cy="746.05" r="1.45"/>
<circle cx="76.07" cy="728.47" r="1.45"/>
<circle cx="78.72" cy="727.44" r="1.45"/>
<circle cx="81.59" cy="721.93" r="1.45"/>
<circle cx="84.83" cy="713" r="1.45"/>
<circle cx="87.21" cy="716.13" r="1.45"/>
<circle cx="90.02" cy="719.99" r="1.45"/>
<circle cx="92.97" cy="727.77" r="1.45"/>
<circle cx="96.15" cy="743.01" r="1.45"/>
<circle cx="98.48" cy="752.63" r="1.45"/>
<circle cx="101.47" cy="760.25" r="1.45"/>
<circle cx="104.47" cy="766.75" r="1.45"/>
<circle cx="107.43" cy="770.13" r="1.45"/>
<circle cx="110.05" cy="770.38" r="1.45"/>
<circle cx="112.96" cy="771.25" r="1.45"/>
<circle cx="115.75" cy="771.65" r="1.45"/>
<circle cx="118.49" cy="770.82" r="1.45"/>
<circle cx="121.43" cy="770.49" r="1.45"/>
<circle cx="124.01" cy="772.03" r="1.45"/>
<circle cx="126.83" cy="772.04" r="1.45"/>
<circle cx="130.02" cy="772.03" r="1.45"/>
<circle cx="132.4" cy="770.69" r="1.45"/>
<circle cx="135.69" cy="771.28" r="1.45"/>
<circle cx="138.52" cy="771.65" r="1.45"/>
<circle cx="141.01" cy="772.91" r="1.45"/>
<circle cx="143.9" cy="771.92" r="1.45"/>
<circle cx="147.02" cy="773.14" r="1.45"/>
<circle cx="149.75" cy="771.02" r="1.45"/>
<circle cx="152.23" cy="771.89" r="1.45"/>
<circle cx="155.55" cy="772.44" r="1.45"/>
<circle cx="158.26" cy="771.58" r="1.45"/>
<circle cx="161.05" cy="772.12" r="1.45"/>
<circle cx="163.92" cy="772.87" r="1.45"/>
<circle cx="166.59" cy="772.63" r="1.45"/>
<circle cx="169.27" cy="772.38" r="1.45"/>
<circle cx="172.29" cy="772.26" r="1.45"/>
<circle cx="174.89" cy="773.13" r="1.45"/>
<circle cx="177.91" cy="772.48" r="1.45"/>
<circle cx="181.05" cy="773.26" r="1.45"/>
<circle cx="183.66" cy="773.1" r="1.45"/>
<circle cx="186.25" cy="771.41" r="1.45"/>
<circle cx="189.57" cy="772.61" r="1.45"/>
<circle cx="192.45" cy="771.94" r="1.45"/>
<circle cx="194.85" cy="771.98" r="1.45"/>
<circle cx="197.76" cy="772.99" r="1.45"/>
<circle cx="200.92" cy="772.96" r="1.45"/>
<circle cx="203.31" cy="771.8" r="1.45"/>
<circle cx="206.34" cy="772.68" r="1.45"/>
<circle cx="209.32" cy="771.49" r="1.45"/>
<circle cx="212.23" cy="772.59" r="1.45"/>
<circle cx="214.78" cy="772.9" r="1.45"/>
<circle cx="217.79" cy="772.41" r="1.45"/>
<circle cx="220.5" cy="772.41" r="1.45"/>
<circle cx="223.6" cy="771.63" r="1.45"/>
<circle cx="225.9" cy="772.49" r="1.45"/>
<circle cx="229.02" cy="772.62" r="1.45"/>
<circle cx="232.06" cy="773.08" r="1.45"/>
<circle cx="234.68" cy="772.42" r="1.45"/>
<circle cx="237.45" cy="773.15" r="1.45"/>
<circle cx="240.01" cy="772.65" r="1.45"/>
<circle cx="242.96" cy="774" r="1.45"/>
<circle cx="245.73" cy="773.53" r="1.45"/>
<circle cx="249.03" cy="771.97" r="1.45"/>
<circle cx="251.68" cy="772.33" r="1.45"/>
<circle cx="254.72" cy="773.11" r="1.45"/>
<circle cx="257.46" cy="773.41" r="1.45"/>
<circle cx="260.17" cy="774.06" r="1.45"/>
<circle cx="262.77" cy="773.19" r="1.45"/>
<circle cx="265.89" cy="774.06" r="1.45"/>
<circle cx="268.76" cy="771.98" r="1.45"/>
<circle cx="271.44" cy="774.29" r="1.45"/>
<circle cx="274.06" cy="772.55" r="1.45"/>
<circle cx="277.12" cy="773.6" r="1.45"/>
<circle cx="280.14" cy="773.73" r="1.45"/>
<circle cx="283.02" cy="772.6" r="1.45"/>
<circle cx="285.77" cy="772.5" r="1.45"/>
<circle cx="288.29" cy="773.18" r="1.45"/>
<circle cx="291.13" cy="773.28" r="1.45"/>
<circle cx="294.36" cy="774" r="1.45"/>
<circle cx="296.93" cy="773.27" r="1.45"/>
<circle cx="299.72" cy="773.28" r="1.45"/>
</g>
<path d="M61.89 771.36 L63.31 770.21 L64.72 768.73 L66.14 766.89 L67.56 764.63 L68.97 761.93 L70.39 758.78 L71.8 755.22 L73.22 751.28 L74.64 747.08 L76.05 742.72 L77.47 738.37 L78.88 734.21 L80.3 730.43 L81.72 727.23 L83.13 724.77 L84.55 723.2 L85.96 722.62 L87.38 723.3 L88.8 725.41 L90.21 728.72 L91.63 732.96 L93.04 737.8 L94.46 742.9 L95.88 747.94 L97.29 752.67 L98.71 756.9 L100.12 760.52 L101.54 763.5 L102.96 765.85 L104.37 767.65 L105.79 768.97 L107.2 769.91 L108.62 770.56 L110.04 771 L111.45 771.28 L112.87 771.46 L114.28 771.57 L115.7 771.64 L117.12 771.69 L118.53 771.72 L119.95 771.74 L121.36 771.76 L122.78 771.77 L124.2 771.78 L125.61 771.8 L127.03 771.81 L128.44 771.82 L129.86 771.83 L131.28 771.85 L132.69 771.86 L134.11 771.87 L135.52 771.88 L136.94 771.9 L138.36 771.91 L139.77 771.92 L141.19 771.93 L142.6 771.94 L144.02 771.96 L145.44 771.97 L146.85 771.98 L148.27 771.99 L149.68 772.01 L151.1 772.02 L152.52 772.03 L153.93 772.04 L155.35 772.05 L156.76 772.07 L158.18 772.08 L159.6 772.09 L161.01 772.1 L162.43 772.12 L163.84 772.13 L165.26 772.14 L166.68 772.15 L168.09 772.16 L169.51 772.18 L170.92 772.19 L172.34 772.2 L173.76 772.21 L175.17 772.23 L176.59 772.24 L178 772.25 L179.42 772.26 L180.84 772.27 L182.25 772.29 L183.67 772.3 L185.08 772.31 L186.5 772.32 L187.92 772.34 L189.33 772.35 L190.75 772.36 L192.16 772.37 L193.58 772.38 L195 772.4 L196.41 772.41 L197.83 772.42 L199.24 772.43 L200.66 772.45 L202.08 772.46 L203.49 772.47 L204.91 772.48 L206.32 772.49 L207.74 772.51 L209.16 772.52 L210.57 772.53 L211.99 772.54 L213.4 772.56 L214.82 772.57 L216.24 772.58 L217.65 772.59 L219.07 772.6 L220.48 772.62 L221.9 772.63 L223.32 772.64 L224.73 772.65 L226.15 772.67 L227.56 772.68 L228.98 772.69 L230.4 772.7 L231.81 772.71 L233.23 772.73 L234.64 772.74 L236.06 772.75 L237.48 772.76 L238.89 772.78 L240.31 772.79 L241.72 772.8 L243.14 772.81 L244.56 772.82 L245.97 772.84 L247.39 772.85 L248.8 772.86 L250.22 772.87 L251.64 772.89 L253.05 772.9 L254.47 772.91 L255.88 772.92 L257.3 772.93 L258.72 772.95 L260.13 772.96 L261.55 772.97 L262.96 772.98 L264.38 773 L265.8 773.01 L267.21 773.02 L268.63 773.03 L270.04 773.04 L271.46 773.06 L272.88 773.07 L274.29 773.08 L275.71 773.09 L277.12 773.11 L278.54 773.12 L279.96 773.13 L281.37 773.14 L282.79 773.15 L284.2 773.17 L285.62 773.18 L287.04 773.19 L288.45 773.2 L289.87 773.21 L291.28 773.23 L292.7 773.24 L294.12 773.25 L295.53 773.26 L296.95 773.28 L298.36 773.29 L299.78 773.3" fill="none" stroke="#111" stroke-width="1"/>
<line x1="32.5" y1="778.3" x2="313" y2="778.3" stroke="#222" stroke-width="1.3"/>
<text x="132.7" y="719.5" font-size="12.3">URT1<tspan font-size="7.2" dx="0.6" dy="-4.6">D491/3A</tspan></text>
<circle cx="297.7" cy="740.6" r="15.35" fill="#d7d7d7"/>
<path d="M297.7 740.6 L297.7 725.25 A15.35 15.35 0 0 1 299.14 725.32 Z" fill="#c0201f" stroke="#fff" stroke-width="0.4"/>
<text x="289.1" y="722.2" font-size="10.9" fill="#c0282d">1.5% (c)</text>
<line x1="44.9" y1="778.3" x2="44.9" y2="781.5" stroke="#222" stroke-width="0.8"/>
<text x="44.9" y="792.3" font-size="8.9" text-anchor="middle" fill="#222">0</text>
<line x1="59.06" y1="778.3" x2="59.06" y2="781.5" stroke="#222" stroke-width="0.8"/>
<line x1="73.22" y1="778.3" x2="73.22" y2="781.5" stroke="#222" stroke-width="0.8"/>
<text x="71.32" y="792.3" font-size="8.9" text-anchor="middle" fill="#222">10</text>
<line x1="87.38" y1="778.3" x2="87.38" y2="781.5" stroke="#222" stroke-width="0.8"/>
<line x1="101.54" y1="778.3" x2="101.54" y2="781.5" stroke="#222" stroke-width="0.8"/>
<text x="99.64" y="792.3" font-size="8.9" text-anchor="middle" fill="#222">20</text>
<line x1="115.7" y1="778.3" x2="115.7" y2="781.5" stroke="#222" stroke-width="0.8"/>
<line x1="129.86" y1="778.3" x2="129.86" y2="781.5" stroke="#222" stroke-width="0.8"/>
<text x="127.96" y="792.3" font-size="8.9" text-anchor="middle" fill="#222">30</text>
<line x1="144.02" y1="778.3" x2="144.02" y2="781.5" stroke="#222" stroke-width="0.8"/>
<line x1="158.18" y1="778.3" x2="158.18" y2="781.5" stroke="#222" stroke-width="0.8"/>
<text x="156.28" y="792.3" font-size="8.9" text-anchor="middle" fill="#222">40</text>
<line x1="172.34" y1="778.3" x2="172.34" y2="781.5" stroke="#222" stroke-width="0.8"/>
<line x1="186.5" y1="778.3" x2="186.5" y2="781.5" stroke="#222" stroke-width="0.8"/>
<text x="184.6" y="792.3" font-size="8.9" text-anchor="middle" fill="#222">50</text>
<line x1="200.66" y1="778.3" x2="200.66" y2="781.5" stroke="#222" stroke-width="0.8"/>
<line x1="214.82" y1="778.3" x2="214.82" y2="781.5" stroke="#222" stroke-width="0.8"/>
<text x="213.82" y="792.3" font-size="8.9" text-anchor="middle" fill="#222">60</text>
<line x1="228.98" y1="778.3" x2="228.98" y2="781.5" stroke="#222" stroke-width="0.8"/>
<line x1="243.14" y1="778.3" x2="243.14" y2="781.5" stroke="#222" stroke-width="0.8"/>
<text x="242.14" y="792.3" font-size="8.9" text-anchor="middle" fill="#222">70</text>
<line x1="257.3" y1="778.3" x2="257.3" y2="781.5" stroke="#222" stroke-width="0.8"/>
<line x1="271.46" y1="778.3" x2="271.46" y2="781.5" stroke="#222" stroke-width="0.8"/>
<text x="270.46" y="792.3" font-size="8.9" text-anchor="middle" fill="#222">80</text>
<line x1="285.62" y1="778.3" x2="285.62" y2="781.5" stroke="#222" stroke-width="0.8"/>
<line x1="299.78" y1="778.3" x2="299.78" y2="781.5" stroke="#222" stroke-width="0.8"/>
<text x="298.78" y="792.3" font-size="8.9" text-anchor="middle" fill="#222">90</text>
<text x="245.7" y="802.1" font-size="11">Tail size (nt)</text>
<circle cx="43.3" cy="553.9" r="2.8" fill="#6b3f80"/>
<text x="47.4" y="557.1" font-size="9.6">1</text>
<circle cx="43.3" cy="563.23" r="2.8" fill="#6e65a8"/>
<text x="47.4" y="566.43" font-size="9.6">2</text>
<circle cx="43.3" cy="572.56" r="2.8" fill="#4f8ca3"/>
<text x="47.4" y="575.76" font-size="9.6">3</text>
<circle cx="43.3" cy="581.89" r="2.8" fill="#5bc4a6"/>
<text x="47.4" y="585.09" font-size="9.6">4</text>
<circle cx="43.3" cy="591.22" r="2.8" fill="#9bd45a"/>
<text x="47.4" y="594.42" font-size="9.6">5</text>
<circle cx="43.3" cy="600.55" r="2.8" fill="#f9dd3e"/>
<text x="47.4" y="603.75" font-size="9.6">6</text>
<text x="400.7" y="524" font-size="12.45">Size distribution of non-uridylated poly(A) tails</text>
<text x="377" y="544" font-size="11.7">%</text>
<text x="394.6" y="544" font-size="10.6">Rep</text>
<text x="615.3" y="551.3" font-size="12.3" fill="#c0282d">Tails &gt; 90nt</text>
<line x1="390" y1="552" x2="390" y2="625" stroke="#222" stroke-width="1"/>
<line x1="386.4" y1="622.2" x2="390" y2="622.2" stroke="#222" stroke-width="0.8"/>
<text x="384.4" y="625.3" font-size="9" text-anchor="end" fill="#222">0</text>
<line x1="386.4" y1="598.9" x2="390" y2="598.9" stroke="#222" stroke-width="0.8"/>
<text x="384.4" y="602" font-size="9" text-anchor="end" fill="#222">1</text>
<line x1="386.4" y1="575.6" x2="390" y2="575.6" stroke="#222" stroke-width="0.8"/>
<text x="384.4" y="578.7" font-size="9" text-anchor="end" fill="#222">2</text>
<line x1="386.4" y1="552.3" x2="390" y2="552.3" stroke="#222" stroke-width="0.8"/>
<text x="384.4" y="557.8" font-size="9" text-anchor="end" fill="#222">3</text>
<path d="M425.18 622.2 L425.18 617.9 L428.01 615.56 L430.83 610.11 L433.65 601.68 L436.48 598.68 L439.3 591.46 L442.12 586.78 L444.95 581.8 L447.77 576.82 L450.59 574.28 L453.41 571.73 L456.24 572.62 L459.06 573.5 L461.88 575.8 L464.71 580.06 L467.53 582.36 L470.35 582.7 L473.18 583.34 L476 583.69 L478.82 583.67 L481.64 583.63 L484.47 583.57 L487.29 583.52 L490.11 583.48 L492.94 583.46 L495.76 583.05 L498.58 582.14 L501.41 581.22 L504.23 580.81 L507.05 581.21 L509.87 581.96 L512.7 582.36 L515.52 584.35 L518.34 586.34 L521.17 587.89 L523.99 590.77 L526.81 592.32 L529.63 593.01 L532.46 594.53 L535.28 596.05 L538.1 596.74 L540.93 597 L543.75 597.67 L546.57 598.57 L549.4 599.56 L552.22 600.47 L555.04 601.14 L557.87 601.39 L560.69 601.56 L563.51 602.01 L566.33 602.61 L569.16 603.27 L571.98 603.88 L574.8 604.32 L577.63 604.49 L580.45 604.68 L583.27 605.15 L586.1 605.8 L588.92 606.51 L591.74 607.15 L594.56 607.63 L597.39 607.81 L600.21 607.92 L603.03 608.21 L605.86 608.6 L608.68 609.02 L611.5 609.41 L614.33 609.69 L617.15 609.8 L619.97 609.97 L622.79 610.38 L625.62 610.91 L628.44 611.44 L631.26 611.85 L634.09 612.02 L636.91 612.39 L639.73 613.26 L642.56 614.31 L645.38 615.19 L648.2 615.56 L651.02 616.59 L653.85 618.51 L656.67 619.54 L656.67 622.2 Z" fill="#cdcdcd"/>
<line x1="425.18" y1="622.2" x2="656.67" y2="622.2" stroke="#333" stroke-width="1"/>
<g fill="#6a3d7c" fill-opacity="0.85">
<circle cx="405.59" cy="621.37" r="1.45"/>
<circle cx="407.97" cy="622.2" r="1.45"/>
<circle cx="411.02" cy="622.2" r="1.45"/>
<circle cx="413.62" cy="622.2" r="1.45"/>
<circle cx="416.99" cy="622.2" r="1.45"/>
<circle cx="419.69" cy="622.12" r="1.45"/>
<circle cx="422.15" cy="621.32" r="1.45"/>
<circle cx="425.2" cy="617.62" r="1.45"/>
<circle cx="428.01" cy="615.29" r="1.45"/>
<circle cx="431.1" cy="609.36" r="1.45"/>
<circle cx="433.4" cy="601.3" r="1.45"/>
<circle cx="436.19" cy="594.64" r="1.45"/>
<circle cx="439.34" cy="588.76" r="1.45"/>
<circle cx="442.19" cy="583.8" r="1.45"/>
<circle cx="445.07" cy="577.17" r="1.45"/>
<circle cx="447.86" cy="574.71" r="1.45"/>
<circle cx="450.69" cy="565.94" r="1.45"/>
<circle cx="453.45" cy="562.72" r="1.45"/>
<circle cx="456.24" cy="561.82" r="1.45"/>
<circle cx="459.26" cy="561.92" r="1.45"/>
<circle cx="462.02" cy="565.2" r="1.45"/>
<circle cx="464.81" cy="568.31" r="1.45"/>
<circle cx="467.28" cy="571.48" r="1.45"/>
<circle cx="470.36" cy="574.65" r="1.45"/>
<circle cx="473.02" cy="575.5" r="1.45"/>
<circle cx="476.23" cy="576.26" r="1.45"/>
<circle cx="478.69" cy="574.79" r="1.45"/>
<circle cx="481.53" cy="575.59" r="1.45"/>
<circle cx="484.51" cy="576.03" r="1.45"/>
<circle cx="487.19" cy="573.39" r="1.45"/>
<circle cx="489.84" cy="575.07" r="1.45"/>
<circle cx="493.05" cy="574.64" r="1.45"/>
<circle cx="495.69" cy="574.67" r="1.45"/>
<circle cx="498.87" cy="574.96" r="1.45"/>
<circle cx="501.23" cy="570.44" r="1.45"/>
<circle cx="504.38" cy="573.22" r="1.45"/>
<circle cx="506.76" cy="572.57" r="1.45"/>
<circle cx="509.61" cy="574.23" r="1.45"/>
<circle cx="512.48" cy="574.32" r="1.45"/>
<circle cx="515.77" cy="578.96" r="1.45"/>
<circle cx="518.41" cy="578.61" r="1.45"/>
<circle cx="521.04" cy="584.97" r="1.45"/>
<circle cx="524.16" cy="590.91" r="1.45"/>
<circle cx="527.02" cy="591.81" r="1.45"/>
<circle cx="529.43" cy="591.98" r="1.45"/>
<circle cx="532.26" cy="594.79" r="1.45"/>
<circle cx="535.26" cy="594.89" r="1.45"/>
<circle cx="538.18" cy="598.08" r="1.45"/>
<circle cx="540.82" cy="597.7" r="1.45"/>
<circle cx="543.93" cy="600.56" r="1.45"/>
<circle cx="546.48" cy="597.96" r="1.45"/>
<circle cx="549.42" cy="600.44" r="1.45"/>
<circle cx="551.92" cy="602.88" r="1.45"/>
<circle cx="555.2" cy="600.67" r="1.45"/>
<circle cx="557.61" cy="602.5" r="1.45"/>
<circle cx="560.48" cy="601.75" r="1.45"/>
<circle cx="563.47" cy="601.17" r="1.45"/>
<circle cx="566.24" cy="603.45" r="1.45"/>
<circle cx="569.13" cy="604.15" r="1.45"/>
<circle cx="571.81" cy="605.1" r="1.45"/>
<circle cx="574.65" cy="604.39" r="1.45"/>
<circle cx="577.88" cy="605.5" r="1.45"/>
<circle cx="580.61" cy="605.09" r="1.45"/>
<circle cx="583.35" cy="607.2" r="1.45"/>
<circle cx="586.25" cy="607.82" r="1.45"/>
<circle cx="589.15" cy="608.72" r="1.45"/>
<circle cx="591.51" cy="609.13" r="1.45"/>
<circle cx="594.83" cy="610.35" r="1.45"/>
<circle cx="597.19" cy="610.57" r="1.45"/>
<circle cx="600.48" cy="610.53" r="1.45"/>
<circle cx="602.94" cy="610.25" r="1.45"/>
<circle cx="606.13" cy="609.67" r="1.45"/>
<circle cx="608.76" cy="609.56" r="1.45"/>
<circle cx="611.57" cy="610.49" r="1.45"/>
<circle cx="614.11" cy="612.45" r="1.45"/>
<circle cx="616.89" cy="612.93" r="1.45"/>
<circle cx="619.72" cy="611.28" r="1.45"/>
<circle cx="622.93" cy="612.13" r="1.45"/>
<circle cx="625.36" cy="613.34" r="1.45"/>
<circle cx="628.47" cy="613.7" r="1.45"/>
<circle cx="631.27" cy="614.26" r="1.45"/>
<circle cx="634.31" cy="615.29" r="1.45"/>
<circle cx="637.15" cy="613.98" r="1.45"/>
<circle cx="639.58" cy="615.99" r="1.45"/>
<circle cx="642.36" cy="617.57" r="1.45"/>
<circle cx="645.67" cy="617.18" r="1.45"/>
<circle cx="648.18" cy="617.31" r="1.45"/>
<circle cx="650.92" cy="620.06" r="1.45"/>
<circle cx="654.02" cy="621.27" r="1.45"/>
<circle cx="656.43" cy="622.11" r="1.45"/>
</g>
<g fill="#6b63a6" fill-opacity="0.85">
<circle cx="405.32" cy="622.12" r="1.45"/>
<circle cx="408.32" cy="621.89" r="1.45"/>
<circle cx="410.82" cy="622.12" r="1.45"/>
<circle cx="414.06" cy="622.2" r="1.45"/>
<circle cx="416.57" cy="622.2" r="1.45"/>
<circle cx="419.27" cy="622.2" r="1.45"/>
<circle cx="422.1" cy="622.16" r="1.45"/>
<circle cx="425.04" cy="617.42" r="1.45"/>
<circle cx="427.74" cy="614.33" r="1.45"/>
<circle cx="430.71" cy="608.53" r="1.45"/>
<circle cx="433.91" cy="600.24" r="1.45"/>
<circle cx="436.39" cy="593.91" r="1.45"/>
<circle cx="439.22" cy="589.76" r="1.45"/>
<circle cx="442.26" cy="584.07" r="1.45"/>
<circle cx="445.04" cy="579.16" r="1.45"/>
<circle cx="447.99" cy="572.12" r="1.45"/>
<circle cx="450.75" cy="565.64" r="1.45"/>
<circle cx="453.67" cy="564.48" r="1.45"/>
<circle cx="456.47" cy="561.7" r="1.45"/>
<circle cx="459.22" cy="565.23" r="1.45"/>
<circle cx="462.12" cy="567.55" r="1.45"/>
<circle cx="464.56" cy="574.53" r="1.45"/>
<circle cx="467.46" cy="575.23" r="1.45"/>
<circle cx="470.27" cy="576.43" r="1.45"/>
<circle cx="473.17" cy="577.61" r="1.45"/>
<circle cx="475.76" cy="575.64" r="1.45"/>
<circle cx="478.76" cy="579.52" r="1.45"/>
<circle cx="481.63" cy="578.24" r="1.45"/>
<circle cx="484.42" cy="574.03" r="1.45"/>
<circle cx="487.03" cy="579.22" r="1.45"/>
<circle cx="490.08" cy="576.86" r="1.45"/>
<circle cx="492.78" cy="576.05" r="1.45"/>
<circle cx="495.76" cy="577.19" r="1.45"/>
<circle cx="498.57" cy="575.28" r="1.45"/>
<circle cx="501.7" cy="574.21" r="1.45"/>
<circle cx="504.49" cy="571.75" r="1.45"/>
<circle cx="507.01" cy="575.2" r="1.45"/>
<circle cx="509.61" cy="575.15" r="1.45"/>
<circle cx="512.59" cy="578.22" r="1.45"/>
<circle cx="515.28" cy="578.65" r="1.45"/>
<circle cx="518.61" cy="582.54" r="1.45"/>
<circle cx="521.34" cy="584.74" r="1.45"/>
<circle cx="524.07" cy="588.6" r="1.45"/>
<circle cx="526.57" cy="590.19" r="1.45"/>
<circle cx="529.38" cy="593.36" r="1.45"/>
<circle cx="532.58" cy="592.16" r="1.45"/>
<circle cx="535.29" cy="597.18" r="1.45"/>
<circle cx="538.18" cy="596.78" r="1.45"/>
<circle cx="541.01" cy="596.17" r="1.45"/>
<circle cx="543.86" cy="600.44" r="1.45"/>
<circle cx="546.74" cy="597.19" r="1.45"/>
<circle cx="549.49" cy="599.64" r="1.45"/>
<circle cx="552.15" cy="600.27" r="1.45"/>
<circle cx="555.27" cy="600.87" r="1.45"/>
<circle cx="558.08" cy="602.11" r="1.45"/>
<circle cx="560.78" cy="601.87" r="1.45"/>
<circle cx="563.22" cy="603.63" r="1.45"/>
<circle cx="566.31" cy="604.64" r="1.45"/>
<circle cx="569.37" cy="604.2" r="1.45"/>
<circle cx="571.85" cy="605.77" r="1.45"/>
<circle cx="574.69" cy="603.24" r="1.45"/>
<circle cx="577.51" cy="605.63" r="1.45"/>
<circle cx="580.16" cy="605.41" r="1.45"/>
<circle cx="583.07" cy="605.7" r="1.45"/>
<circle cx="585.83" cy="607.45" r="1.45"/>
<circle cx="588.84" cy="606.69" r="1.45"/>
<circle cx="591.84" cy="607.32" r="1.45"/>
<circle cx="594.39" cy="609.89" r="1.45"/>
<circle cx="597.37" cy="608.45" r="1.45"/>
<circle cx="600.1" cy="609.37" r="1.45"/>
<circle cx="603.32" cy="609.21" r="1.45"/>
<circle cx="606.01" cy="610.44" r="1.45"/>
<circle cx="608.63" cy="609.73" r="1.45"/>
<circle cx="611.63" cy="610.56" r="1.45"/>
<circle cx="614.17" cy="612.23" r="1.45"/>
<circle cx="617.35" cy="611.67" r="1.45"/>
<circle cx="620.03" cy="610.44" r="1.45"/>
<circle cx="622.78" cy="610.53" r="1.45"/>
<circle cx="625.47" cy="613.01" r="1.45"/>
<circle cx="628.48" cy="613.09" r="1.45"/>
<circle cx="631.51" cy="613.43" r="1.45"/>
<circle cx="634.39" cy="612.75" r="1.45"/>
<circle cx="637.06" cy="613.48" r="1.45"/>
<circle cx="639.53" cy="614.39" r="1.45"/>
<circle cx="642.75" cy="616.21" r="1.45"/>
<circle cx="645.55" cy="616.82" r="1.45"/>
<circle cx="648.03" cy="617.35" r="1.45"/>
<circle cx="650.81" cy="617.73" r="1.45"/>
<circle cx="653.97" cy="620.57" r="1.45"/>
<circle cx="656.43" cy="622.2" r="1.45"/>
</g>
<g fill="#4e8aa2" fill-opacity="0.85">
<circle cx="405.7" cy="622.2" r="1.45"/>
<circle cx="408.49" cy="621.95" r="1.45"/>
<circle cx="410.87" cy="621.67" r="1.45"/>
<circle cx="413.68" cy="621.95" r="1.45"/>
<circle cx="416.6" cy="621.9" r="1.45"/>
<circle cx="419.64" cy="622.05" r="1.45"/>
<circle cx="422.33" cy="621.6" r="1.45"/>
<circle cx="425.18" cy="618.25" r="1.45"/>
<circle cx="427.93" cy="615.99" r="1.45"/>
<circle cx="430.84" cy="609.51" r="1.45"/>
<circle cx="433.71" cy="601.38" r="1.45"/>
<circle cx="436.33" cy="597.54" r="1.45"/>
<circle cx="439.57" cy="591.52" r="1.45"/>
<circle cx="442.21" cy="582.15" r="1.45"/>
<circle cx="444.8" cy="582.95" r="1.45"/>
<circle cx="447.96" cy="571.06" r="1.45"/>
<circle cx="450.7" cy="569.45" r="1.45"/>
<circle cx="453.24" cy="567.14" r="1.45"/>
<circle cx="456.2" cy="569.7" r="1.45"/>
<circle cx="458.96" cy="564.13" r="1.45"/>
<circle cx="462.12" cy="570.57" r="1.45"/>
<circle cx="464.69" cy="580.37" r="1.45"/>
<circle cx="467.82" cy="580.34" r="1.45"/>
<circle cx="470.11" cy="574.25" r="1.45"/>
<circle cx="473.12" cy="577.06" r="1.45"/>
<circle cx="475.78" cy="580.03" r="1.45"/>
<circle cx="478.95" cy="579.64" r="1.45"/>
<circle cx="481.57" cy="581.27" r="1.45"/>
<circle cx="484.77" cy="581.2" r="1.45"/>
<circle cx="487.37" cy="579.39" r="1.45"/>
<circle cx="490.12" cy="578.77" r="1.45"/>
<circle cx="493.17" cy="579.99" r="1.45"/>
<circle cx="495.74" cy="580.86" r="1.45"/>
<circle cx="498.55" cy="579.67" r="1.45"/>
<circle cx="501.31" cy="578.06" r="1.45"/>
<circle cx="504.38" cy="574.41" r="1.45"/>
<circle cx="507.17" cy="578.23" r="1.45"/>
<circle cx="509.98" cy="574.64" r="1.45"/>
<circle cx="512.47" cy="577.81" r="1.45"/>
<circle cx="515.6" cy="582.08" r="1.45"/>
<circle cx="518.17" cy="583.12" r="1.45"/>
<circle cx="521.02" cy="583.57" r="1.45"/>
<circle cx="523.91" cy="592.18" r="1.45"/>
<circle cx="527.02" cy="593.03" r="1.45"/>
<circle cx="529.37" cy="592.92" r="1.45"/>
<circle cx="532.43" cy="594.69" r="1.45"/>
<circle cx="535.01" cy="596.79" r="1.45"/>
<circle cx="538.34" cy="598.3" r="1.45"/>
<circle cx="540.96" cy="597.76" r="1.45"/>
<circle cx="543.47" cy="598.12" r="1.45"/>
<circle cx="546.32" cy="597.66" r="1.45"/>
<circle cx="549.25" cy="601.56" r="1.45"/>
<circle cx="552.46" cy="600.05" r="1.45"/>
<circle cx="555.21" cy="600.47" r="1.45"/>
<circle cx="557.61" cy="601.35" r="1.45"/>
<circle cx="560.44" cy="601.31" r="1.45"/>
<circle cx="563.26" cy="601.63" r="1.45"/>
<circle cx="566.24" cy="601.53" r="1.45"/>
<circle cx="569.38" cy="603.83" r="1.45"/>
<circle cx="571.88" cy="602.38" r="1.45"/>
<circle cx="574.66" cy="603.79" r="1.45"/>
<circle cx="577.36" cy="605.02" r="1.45"/>
<circle cx="580.23" cy="602.34" r="1.45"/>
<circle cx="583.49" cy="604.53" r="1.45"/>
<circle cx="585.88" cy="606.61" r="1.45"/>
<circle cx="588.98" cy="605.87" r="1.45"/>
<circle cx="591.89" cy="605.89" r="1.45"/>
<circle cx="594.77" cy="608.13" r="1.45"/>
<circle cx="597.1" cy="608.88" r="1.45"/>
<circle cx="600.1" cy="608" r="1.45"/>
<circle cx="602.77" cy="607.77" r="1.45"/>
<circle cx="605.65" cy="608.64" r="1.45"/>
<circle cx="608.66" cy="609.27" r="1.45"/>
<circle cx="611.69" cy="610.8" r="1.45"/>
<circle cx="614.31" cy="611.32" r="1.45"/>
<circle cx="617.11" cy="611.4" r="1.45"/>
<circle cx="619.8" cy="608.67" r="1.45"/>
<circle cx="623" cy="610.82" r="1.45"/>
<circle cx="625.62" cy="612.77" r="1.45"/>
<circle cx="628.45" cy="611.78" r="1.45"/>
<circle cx="631.1" cy="612.67" r="1.45"/>
<circle cx="633.8" cy="612.5" r="1.45"/>
<circle cx="637.04" cy="613.6" r="1.45"/>
<circle cx="639.7" cy="614.09" r="1.45"/>
<circle cx="642.85" cy="615.03" r="1.45"/>
<circle cx="645.68" cy="615.75" r="1.45"/>
<circle cx="647.94" cy="616.25" r="1.45"/>
<circle cx="651" cy="617.78" r="1.45"/>
<circle cx="653.96" cy="620.06" r="1.45"/>
<circle cx="656.79" cy="620.17" r="1.45"/>
</g>
<g fill="#55c0a2" fill-opacity="0.85">
<circle cx="405.44" cy="622.08" r="1.45"/>
<circle cx="408.13" cy="622.2" r="1.45"/>
<circle cx="410.95" cy="622.15" r="1.45"/>
<circle cx="413.79" cy="622.2" r="1.45"/>
<circle cx="416.79" cy="622.18" r="1.45"/>
<circle cx="419.39" cy="621.98" r="1.45"/>
<circle cx="422.53" cy="621.18" r="1.45"/>
<circle cx="425.32" cy="617.75" r="1.45"/>
<circle cx="427.99" cy="614.84" r="1.45"/>
<circle cx="430.72" cy="610.81" r="1.45"/>
<circle cx="433.73" cy="599.93" r="1.45"/>
<circle cx="436.44" cy="597.53" r="1.45"/>
<circle cx="439.31" cy="588.56" r="1.45"/>
<circle cx="442.09" cy="585.05" r="1.45"/>
<circle cx="444.9" cy="578.61" r="1.45"/>
<circle cx="447.89" cy="579.97" r="1.45"/>
<circle cx="450.73" cy="581.4" r="1.45"/>
<circle cx="453.3" cy="576.29" r="1.45"/>
<circle cx="455.99" cy="572.73" r="1.45"/>
<circle cx="459.31" cy="575.93" r="1.45"/>
<circle cx="462.15" cy="576.49" r="1.45"/>
<circle cx="464.74" cy="580.38" r="1.45"/>
<circle cx="467.25" cy="582.75" r="1.45"/>
<circle cx="470.45" cy="584.55" r="1.45"/>
<circle cx="473.08" cy="584.63" r="1.45"/>
<circle cx="476.01" cy="588.6" r="1.45"/>
<circle cx="478.95" cy="584.83" r="1.45"/>
<circle cx="481.79" cy="584.31" r="1.45"/>
<circle cx="484.57" cy="582.61" r="1.45"/>
<circle cx="487.31" cy="585.6" r="1.45"/>
<circle cx="490.3" cy="586.81" r="1.45"/>
<circle cx="493" cy="587.79" r="1.45"/>
<circle cx="495.69" cy="587.04" r="1.45"/>
<circle cx="498.77" cy="584.34" r="1.45"/>
<circle cx="501.64" cy="584.7" r="1.45"/>
<circle cx="504.2" cy="585.57" r="1.45"/>
<circle cx="507.32" cy="585" r="1.45"/>
<circle cx="510.14" cy="585.18" r="1.45"/>
<circle cx="512.53" cy="585.63" r="1.45"/>
<circle cx="515.33" cy="588.83" r="1.45"/>
<circle cx="518.28" cy="587.93" r="1.45"/>
<circle cx="520.99" cy="589.91" r="1.45"/>
<circle cx="524.24" cy="587.39" r="1.45"/>
<circle cx="526.81" cy="591.89" r="1.45"/>
<circle cx="529.82" cy="589.1" r="1.45"/>
<circle cx="532.17" cy="593.01" r="1.45"/>
<circle cx="535.4" cy="595.74" r="1.45"/>
<circle cx="538.39" cy="594.23" r="1.45"/>
<circle cx="541.06" cy="595.13" r="1.45"/>
<circle cx="543.96" cy="595.7" r="1.45"/>
<circle cx="546.31" cy="596.63" r="1.45"/>
<circle cx="549.1" cy="598.48" r="1.45"/>
<circle cx="552.39" cy="597.7" r="1.45"/>
<circle cx="554.89" cy="597.47" r="1.45"/>
<circle cx="558.16" cy="598.46" r="1.45"/>
<circle cx="560.52" cy="598.86" r="1.45"/>
<circle cx="563.78" cy="600.31" r="1.45"/>
<circle cx="566.21" cy="597.98" r="1.45"/>
<circle cx="569.03" cy="601.44" r="1.45"/>
<circle cx="572.25" cy="601.97" r="1.45"/>
<circle cx="574.96" cy="600.22" r="1.45"/>
<circle cx="577.79" cy="601.78" r="1.45"/>
<circle cx="580.64" cy="604.09" r="1.45"/>
<circle cx="583.36" cy="603.45" r="1.45"/>
<circle cx="585.9" cy="601.33" r="1.45"/>
<circle cx="588.71" cy="603.32" r="1.45"/>
<circle cx="591.64" cy="604.98" r="1.45"/>
<circle cx="594.53" cy="604.1" r="1.45"/>
<circle cx="597.51" cy="605.5" r="1.45"/>
<circle cx="600.31" cy="604.78" r="1.45"/>
<circle cx="602.84" cy="603.94" r="1.45"/>
<circle cx="605.75" cy="605.45" r="1.45"/>
<circle cx="608.95" cy="606.24" r="1.45"/>
<circle cx="611.73" cy="608.49" r="1.45"/>
<circle cx="614.5" cy="608.9" r="1.45"/>
<circle cx="617.35" cy="607.76" r="1.45"/>
<circle cx="619.95" cy="605.54" r="1.45"/>
<circle cx="622.77" cy="608.12" r="1.45"/>
<circle cx="625.75" cy="608.42" r="1.45"/>
<circle cx="628.36" cy="610.38" r="1.45"/>
<circle cx="631.49" cy="609.03" r="1.45"/>
<circle cx="634.33" cy="609.4" r="1.45"/>
<circle cx="636.98" cy="609.24" r="1.45"/>
<circle cx="639.73" cy="610.7" r="1.45"/>
<circle cx="642.64" cy="610.67" r="1.45"/>
<circle cx="645.26" cy="612.37" r="1.45"/>
<circle cx="648.28" cy="613.7" r="1.45"/>
<circle cx="651.26" cy="614.1" r="1.45"/>
<circle cx="653.75" cy="616.5" r="1.45"/>
<circle cx="656.87" cy="617.36" r="1.45"/>
</g>
<g fill="#99d35a" fill-opacity="0.85">
<circle cx="405.67" cy="622.2" r="1.45"/>
<circle cx="408.31" cy="622.2" r="1.45"/>
<circle cx="410.81" cy="621.46" r="1.45"/>
<circle cx="413.86" cy="622.2" r="1.45"/>
<circle cx="416.55" cy="621.33" r="1.45"/>
<circle cx="419.36" cy="622.14" r="1.45"/>
<circle cx="422.46" cy="622.2" r="1.45"/>
<circle cx="425.4" cy="618.12" r="1.45"/>
<circle cx="427.98" cy="615.85" r="1.45"/>
<circle cx="430.87" cy="610.7" r="1.45"/>
<circle cx="433.95" cy="600.66" r="1.45"/>
<circle cx="436.29" cy="598.09" r="1.45"/>
<circle cx="439.45" cy="591.27" r="1.45"/>
<circle cx="441.88" cy="584.11" r="1.45"/>
<circle cx="444.68" cy="580.27" r="1.45"/>
<circle cx="447.69" cy="578.51" r="1.45"/>
<circle cx="450.39" cy="573.57" r="1.45"/>
<circle cx="453.5" cy="575.67" r="1.45"/>
<circle cx="456.13" cy="573.23" r="1.45"/>
<circle cx="459.35" cy="575.03" r="1.45"/>
<circle cx="461.88" cy="583.73" r="1.45"/>
<circle cx="464.86" cy="582.78" r="1.45"/>
<circle cx="467.59" cy="580.78" r="1.45"/>
<circle cx="470.28" cy="584.53" r="1.45"/>
<circle cx="472.97" cy="583.51" r="1.45"/>
<circle cx="475.71" cy="589.02" r="1.45"/>
<circle cx="478.59" cy="587.85" r="1.45"/>
<circle cx="481.69" cy="588.59" r="1.45"/>
<circle cx="484.47" cy="585.04" r="1.45"/>
<circle cx="487.53" cy="585.36" r="1.45"/>
<circle cx="490.24" cy="583.85" r="1.45"/>
<circle cx="492.77" cy="587.77" r="1.45"/>
<circle cx="495.59" cy="586.12" r="1.45"/>
<circle cx="498.37" cy="584" r="1.45"/>
<circle cx="501.19" cy="583.81" r="1.45"/>
<circle cx="504.34" cy="582.81" r="1.45"/>
<circle cx="506.88" cy="584.44" r="1.45"/>
<circle cx="509.95" cy="584.89" r="1.45"/>
<circle cx="512.88" cy="581.5" r="1.45"/>
<circle cx="515.76" cy="585.34" r="1.45"/>
<circle cx="518.37" cy="586.75" r="1.45"/>
<circle cx="521.01" cy="584.74" r="1.45"/>
<circle cx="523.79" cy="586.37" r="1.45"/>
<circle cx="527.04" cy="589.38" r="1.45"/>
<circle cx="529.4" cy="586.88" r="1.45"/>
<circle cx="532.44" cy="591.02" r="1.45"/>
<circle cx="535.48" cy="593" r="1.45"/>
<circle cx="538.06" cy="593.45" r="1.45"/>
<circle cx="540.63" cy="594.69" r="1.45"/>
<circle cx="543.97" cy="593.99" r="1.45"/>
<circle cx="546.61" cy="593.05" r="1.45"/>
<circle cx="549.35" cy="597.68" r="1.45"/>
<circle cx="552.05" cy="597.05" r="1.45"/>
<circle cx="555.07" cy="596.81" r="1.45"/>
<circle cx="558.16" cy="599.19" r="1.45"/>
<circle cx="560.52" cy="596.9" r="1.45"/>
<circle cx="563.47" cy="597.62" r="1.45"/>
<circle cx="566.22" cy="599.67" r="1.45"/>
<circle cx="568.94" cy="600.36" r="1.45"/>
<circle cx="572.03" cy="601.06" r="1.45"/>
<circle cx="574.75" cy="600.08" r="1.45"/>
<circle cx="577.83" cy="600.27" r="1.45"/>
<circle cx="580.43" cy="600.89" r="1.45"/>
<circle cx="583.14" cy="602.83" r="1.45"/>
<circle cx="586.1" cy="603.26" r="1.45"/>
<circle cx="588.92" cy="603.03" r="1.45"/>
<circle cx="591.67" cy="603.49" r="1.45"/>
<circle cx="594.31" cy="603.24" r="1.45"/>
<circle cx="597.29" cy="603.09" r="1.45"/>
<circle cx="600.33" cy="603.52" r="1.45"/>
<circle cx="603.01" cy="603.98" r="1.45"/>
<circle cx="606.06" cy="606.08" r="1.45"/>
<circle cx="608.85" cy="605.71" r="1.45"/>
<circle cx="611.49" cy="605.95" r="1.45"/>
<circle cx="614.43" cy="607.45" r="1.45"/>
<circle cx="617.42" cy="606.35" r="1.45"/>
<circle cx="620.06" cy="606.79" r="1.45"/>
<circle cx="622.94" cy="607.18" r="1.45"/>
<circle cx="625.69" cy="606.25" r="1.45"/>
<circle cx="628.55" cy="607.93" r="1.45"/>
<circle cx="631.31" cy="608.9" r="1.45"/>
<circle cx="633.92" cy="608.16" r="1.45"/>
<circle cx="636.94" cy="608.79" r="1.45"/>
<circle cx="639.82" cy="610.19" r="1.45"/>
<circle cx="642.8" cy="610.96" r="1.45"/>
<circle cx="645.66" cy="611.46" r="1.45"/>
<circle cx="648.17" cy="612.96" r="1.45"/>
<circle cx="650.89" cy="613.89" r="1.45"/>
<circle cx="653.88" cy="615.27" r="1.45"/>
<circle cx="656.85" cy="616.24" r="1.45"/>
</g>
<g fill="#f8dc3c" fill-opacity="0.85">
<circle cx="405.19" cy="622.2" r="1.45"/>
<circle cx="408.1" cy="621.47" r="1.45"/>
<circle cx="411.28" cy="622.2" r="1.45"/>
<circle cx="413.6" cy="622.2" r="1.45"/>
<circle cx="416.9" cy="622.16" r="1.45"/>
<circle cx="419.61" cy="622.2" r="1.45"/>
<circle cx="422.23" cy="620.69" r="1.45"/>
<circle cx="425.18" cy="617.59" r="1.45"/>
<circle cx="427.75" cy="614.67" r="1.45"/>
<circle cx="430.66" cy="609.76" r="1.45"/>
<circle cx="433.54" cy="600.65" r="1.45"/>
<circle cx="436.31" cy="598.11" r="1.45"/>
<circle cx="439.58" cy="590.54" r="1.45"/>
<circle cx="442.37" cy="584.59" r="1.45"/>
<circle cx="444.98" cy="578.88" r="1.45"/>
<circle cx="448.05" cy="573.73" r="1.45"/>
<circle cx="450.79" cy="571.58" r="1.45"/>
<circle cx="453.14" cy="570.32" r="1.45"/>
<circle cx="456.19" cy="573.53" r="1.45"/>
<circle cx="459.14" cy="570.87" r="1.45"/>
<circle cx="461.66" cy="573.69" r="1.45"/>
<circle cx="464.59" cy="579" r="1.45"/>
<circle cx="467.25" cy="579.33" r="1.45"/>
<circle cx="470.25" cy="580.08" r="1.45"/>
<circle cx="473.15" cy="581.67" r="1.45"/>
<circle cx="475.76" cy="582.67" r="1.45"/>
<circle cx="479.09" cy="581.1" r="1.45"/>
<circle cx="481.46" cy="580.02" r="1.45"/>
<circle cx="484.36" cy="579.01" r="1.45"/>
<circle cx="487.24" cy="579.08" r="1.45"/>
<circle cx="489.83" cy="583.37" r="1.45"/>
<circle cx="493.04" cy="580.75" r="1.45"/>
<circle cx="495.99" cy="580.12" r="1.45"/>
<circle cx="498.76" cy="580.67" r="1.45"/>
<circle cx="501.37" cy="580.97" r="1.45"/>
<circle cx="504.3" cy="580.58" r="1.45"/>
<circle cx="507.08" cy="576.36" r="1.45"/>
<circle cx="510.1" cy="581.63" r="1.45"/>
<circle cx="512.41" cy="578.31" r="1.45"/>
<circle cx="515.6" cy="582.19" r="1.45"/>
<circle cx="518.13" cy="585.52" r="1.45"/>
<circle cx="520.89" cy="587.72" r="1.45"/>
<circle cx="523.99" cy="587.77" r="1.45"/>
<circle cx="526.93" cy="591.52" r="1.45"/>
<circle cx="529.64" cy="589.4" r="1.45"/>
<circle cx="532.71" cy="590.5" r="1.45"/>
<circle cx="535.49" cy="594.67" r="1.45"/>
<circle cx="538.02" cy="597.38" r="1.45"/>
<circle cx="540.86" cy="594.97" r="1.45"/>
<circle cx="543.85" cy="596.22" r="1.45"/>
<circle cx="546.62" cy="597.1" r="1.45"/>
<circle cx="549.68" cy="596.27" r="1.45"/>
<circle cx="552.03" cy="597.1" r="1.45"/>
<circle cx="555.34" cy="597.07" r="1.45"/>
<circle cx="557.93" cy="598.97" r="1.45"/>
<circle cx="560.39" cy="597.96" r="1.45"/>
<circle cx="563.6" cy="600.86" r="1.45"/>
<circle cx="566.37" cy="601.11" r="1.45"/>
<circle cx="569.2" cy="601.04" r="1.45"/>
<circle cx="572.01" cy="602.86" r="1.45"/>
<circle cx="575.1" cy="600.54" r="1.45"/>
<circle cx="577.62" cy="603.22" r="1.45"/>
<circle cx="580.41" cy="602.68" r="1.45"/>
<circle cx="583.02" cy="603.59" r="1.45"/>
<circle cx="586.1" cy="604.69" r="1.45"/>
<circle cx="589.04" cy="604.35" r="1.45"/>
<circle cx="591.52" cy="604.23" r="1.45"/>
<circle cx="594.49" cy="605.9" r="1.45"/>
<circle cx="597.35" cy="605.27" r="1.45"/>
<circle cx="600.44" cy="607.08" r="1.45"/>
<circle cx="603" cy="606.41" r="1.45"/>
<circle cx="605.78" cy="607.27" r="1.45"/>
<circle cx="608.56" cy="605.85" r="1.45"/>
<circle cx="611.24" cy="607.46" r="1.45"/>
<circle cx="614.15" cy="608.18" r="1.45"/>
<circle cx="617.15" cy="606.81" r="1.45"/>
<circle cx="620.13" cy="609.37" r="1.45"/>
<circle cx="622.91" cy="608.83" r="1.45"/>
<circle cx="625.7" cy="609.76" r="1.45"/>
<circle cx="628.33" cy="610.43" r="1.45"/>
<circle cx="631.54" cy="610.84" r="1.45"/>
<circle cx="633.81" cy="611.57" r="1.45"/>
<circle cx="636.79" cy="610.27" r="1.45"/>
<circle cx="639.79" cy="612.92" r="1.45"/>
<circle cx="642.82" cy="612.27" r="1.45"/>
<circle cx="645.29" cy="614.64" r="1.45"/>
<circle cx="648.06" cy="613.58" r="1.45"/>
<circle cx="651.03" cy="616.25" r="1.45"/>
<circle cx="653.6" cy="617.49" r="1.45"/>
<circle cx="656.84" cy="618.44" r="1.45"/>
</g>
<path d="M419.54 622.2 L420.95 622.2 L422.36 621.47 L423.77 619.74 L425.18 617.67 L426.6 615.94 L428.01 615.21 L429.42 613.51 L430.83 609.47 L432.24 604.64 L433.65 600.6 L435.06 598.9 L436.48 597.45 L437.89 593.98 L439.3 589.84 L440.71 586.37 L442.12 584.92 L443.53 583.28 L444.95 579.68 L446.36 576.07 L447.77 574.44 L449.18 573.6 L450.59 571.76 L452 569.91 L453.41 569.08 L454.83 569.37 L456.24 570.01 L457.65 570.65 L459.06 570.94 L460.47 571.63 L461.88 573.36 L463.29 575.6 L464.71 577.84 L466.12 579.57 L467.53 580.26 L468.94 580.36 L470.35 580.62 L471.76 580.96 L473.18 581.3 L474.59 581.55 L476 581.66 L477.41 581.65 L478.82 581.64 L480.23 581.62 L481.64 581.6 L483.06 581.57 L484.47 581.54 L485.88 581.51 L487.29 581.49 L488.7 581.46 L490.11 581.44 L491.52 581.43 L492.94 581.43 L494.35 581.3 L495.76 580.99 L497.17 580.54 L498.58 580.03 L499.99 579.51 L501.41 579.07 L502.82 578.75 L504.23 578.63 L505.64 578.75 L507.05 579.05 L508.46 579.44 L509.87 579.84 L511.29 580.14 L512.7 580.26 L514.11 580.92 L515.52 582.36 L516.93 583.8 L518.34 584.45 L519.75 584.92 L521.17 586.09 L522.58 587.6 L523.99 589.11 L525.4 590.28 L526.81 590.75 L528.22 590.95 L529.63 591.47 L531.05 592.22 L532.46 593.08 L533.87 593.93 L535.28 594.68 L536.69 595.2 L538.1 595.41 L539.52 595.48 L540.93 595.68 L542.34 595.98 L543.75 596.38 L545.16 596.83 L546.57 597.33 L547.98 597.85 L549.4 598.37 L550.81 598.87 L552.22 599.33 L553.63 599.72 L555.04 600.03 L556.45 600.23 L557.87 600.3 L559.28 600.35 L560.69 600.48 L562.1 600.68 L563.51 600.94 L564.92 601.25 L566.33 601.58 L567.75 601.93 L569.16 602.28 L570.57 602.61 L571.98 602.91 L573.39 603.17 L574.8 603.38 L576.21 603.51 L577.63 603.56 L579.04 603.61 L580.45 603.75 L581.86 603.97 L583.27 604.25 L584.68 604.58 L586.1 604.94 L587.51 605.31 L588.92 605.68 L590.33 606.04 L591.74 606.36 L593.15 606.64 L594.56 606.86 L595.98 607 L597.39 607.06 L598.8 607.09 L600.21 607.17 L601.62 607.3 L603.03 607.47 L604.44 607.67 L605.86 607.88 L607.27 608.1 L608.68 608.33 L610.09 608.54 L611.5 608.74 L612.91 608.9 L614.33 609.04 L615.74 609.12 L617.15 609.15 L618.56 609.2 L619.97 609.32 L621.38 609.52 L622.79 609.76 L624.21 610.03 L625.62 610.32 L627.03 610.61 L628.44 610.88 L629.85 611.12 L631.26 611.31 L632.67 611.44 L634.09 611.48 L635.5 611.59 L636.91 611.87 L638.32 612.29 L639.73 612.79 L641.14 613.35 L642.56 613.9 L643.97 614.4 L645.38 614.82 L646.79 615.11 L648.2 615.21 L649.61 615.52 L651.02 616.3 L652.44 617.31 L653.85 618.32 L655.26 619.09 L656.67 619.4" fill="none" stroke="#111" stroke-width="1"/>
<line x1="390" y1="625" x2="670.6" y2="625" stroke="#222" stroke-width="1.3"/>
<text x="518.6" y="555" font-size="12.3">ctrl</text>
<circle cx="648.2" cy="586.3" r="15.35" fill="#d7d7d7"/>
<path d="M648.2 586.3 L648.2 570.95 A15.35 15.35 0 0 1 657.53 574.11 Z" fill="#c0201f" stroke="#fff" stroke-width="0.4"/>
<text x="637.4" y="565.7" font-size="10.9" fill="#c0282d">10.4% (a)</text>
<line x1="390" y1="628" x2="390" y2="702" stroke="#222" stroke-width="1"/>
<line x1="386.4" y1="698.5" x2="390" y2="698.5" stroke="#222" stroke-width="0.8"/>
<text x="384.4" y="701.6" font-size="9" text-anchor="end" fill="#222">0</text>
<line x1="386.4" y1="675.1" x2="390" y2="675.1" stroke="#222" stroke-width="0.8"/>
<text x="384.4" y="678.2" font-size="9" text-anchor="end" fill="#222">1</text>
<line x1="386.4" y1="651.7" x2="390" y2="651.7" stroke="#222" stroke-width="0.8"/>
<text x="384.4" y="654.8" font-size="9" text-anchor="end" fill="#222">2</text>
<line x1="386.4" y1="628.3" x2="390" y2="628.3" stroke="#222" stroke-width="0.8"/>
<text x="384.4" y="633.8" font-size="9" text-anchor="end" fill="#222">3</text>
<path d="M433.65 698.5 L433.65 694.05 L436.48 690.72 L439.3 687.38 L442.12 684.05 L444.95 682.44 L447.77 679.44 L450.59 677.83 L453.41 677.66 L456.24 677.28 L459.06 676.82 L461.88 676.43 L464.71 676.27 L467.53 676.2 L470.35 676.04 L473.18 675.84 L476 675.67 L478.82 675.6 L481.64 675.29 L484.47 674.6 L487.29 673.92 L490.11 673.6 L492.94 673.08 L495.76 671.94 L498.58 670.79 L501.41 670.27 L504.23 669.75 L507.05 668.6 L509.87 667.45 L512.7 666.93 L515.52 666.47 L518.34 665.62 L521.17 665.15 L523.99 665.29 L526.81 665.6 L529.63 665.91 L532.46 666.04 L535.28 666.32 L538.1 666.93 L540.93 667.54 L543.75 667.82 L546.57 668.12 L549.4 668.84 L552.22 669.7 L555.04 670.41 L557.87 670.71 L560.69 670.87 L563.51 671.29 L566.33 671.85 L569.16 672.46 L571.98 673.03 L574.8 673.44 L577.63 673.6 L580.45 673.77 L583.27 674.22 L586.1 674.83 L588.92 675.49 L591.74 676.1 L594.56 676.54 L597.39 676.71 L600.21 676.81 L603.03 677.06 L605.86 677.42 L608.68 677.83 L611.5 678.23 L614.33 678.59 L617.15 678.84 L619.97 678.94 L622.79 679.1 L625.62 679.51 L628.44 680.05 L631.26 680.58 L634.09 681 L636.91 681.16 L639.73 681.79 L642.56 683.16 L645.38 684.54 L648.2 685.16 L651.02 687.18 L653.85 690.93 L656.67 692.94 L656.67 698.5 Z" fill="#cdcdcd"/>
<line x1="433.65" y1="698.5" x2="656.67" y2="698.5" stroke="#333" stroke-width="1"/>
<g fill="#6a3d7c" fill-opacity="0.85">
<circle cx="405.48" cy="698.32" r="1.45"/>
<circle cx="408.47" cy="698.5" r="1.45"/>
<circle cx="411.27" cy="698.25" r="1.45"/>
<circle cx="413.96" cy="698.36" r="1.45"/>
<circle cx="416.87" cy="698.01" r="1.45"/>
<circle cx="419.63" cy="698.5" r="1.45"/>
<circle cx="422.16" cy="698.36" r="1.45"/>
<circle cx="425.43" cy="698.5" r="1.45"/>
<circle cx="427.84" cy="698.08" r="1.45"/>
<circle cx="430.69" cy="696.54" r="1.45"/>
<circle cx="433.95" cy="693.51" r="1.45"/>
<circle cx="436.36" cy="690.15" r="1.45"/>
<circle cx="439.23" cy="686.48" r="1.45"/>
<circle cx="442.2" cy="683.31" r="1.45"/>
<circle cx="444.89" cy="680.84" r="1.45"/>
<circle cx="447.75" cy="678.61" r="1.45"/>
<circle cx="450.52" cy="676.92" r="1.45"/>
<circle cx="453.51" cy="676.13" r="1.45"/>
<circle cx="456.05" cy="677.82" r="1.45"/>
<circle cx="458.92" cy="675.47" r="1.45"/>
<circle cx="461.77" cy="675.97" r="1.45"/>
<circle cx="464.94" cy="675.19" r="1.45"/>
<circle cx="467.51" cy="672.43" r="1.45"/>
<circle cx="470.61" cy="676.4" r="1.45"/>
<circle cx="473.17" cy="675.24" r="1.45"/>
<circle cx="476.28" cy="674.72" r="1.45"/>
<circle cx="478.58" cy="675.02" r="1.45"/>
<circle cx="481.57" cy="672.9" r="1.45"/>
<circle cx="484.47" cy="670.36" r="1.45"/>
<circle cx="487.16" cy="670.02" r="1.45"/>
<circle cx="489.92" cy="672.09" r="1.45"/>
<circle cx="493.1" cy="668.79" r="1.45"/>
<circle cx="496.03" cy="670.1" r="1.45"/>
<circle cx="498.56" cy="666.48" r="1.45"/>
<circle cx="501.67" cy="669.61" r="1.45"/>
<circle cx="504.35" cy="664.89" r="1.45"/>
<circle cx="506.87" cy="669.9" r="1.45"/>
<circle cx="510.15" cy="664.14" r="1.45"/>
<circle cx="512.51" cy="664.69" r="1.45"/>
<circle cx="515.33" cy="664.61" r="1.45"/>
<circle cx="518.47" cy="663.52" r="1.45"/>
<circle cx="521.22" cy="659.3" r="1.45"/>
<circle cx="523.73" cy="663.53" r="1.45"/>
<circle cx="526.82" cy="662.07" r="1.45"/>
<circle cx="529.48" cy="664.67" r="1.45"/>
<circle cx="532.22" cy="665.86" r="1.45"/>
<circle cx="535.1" cy="663.66" r="1.45"/>
<circle cx="538.15" cy="663.27" r="1.45"/>
<circle cx="541.21" cy="665.45" r="1.45"/>
<circle cx="543.5" cy="667.44" r="1.45"/>
<circle cx="546.69" cy="667.25" r="1.45"/>
<circle cx="549.41" cy="663.62" r="1.45"/>
<circle cx="552.24" cy="669.77" r="1.45"/>
<circle cx="554.85" cy="666.79" r="1.45"/>
<circle cx="558.11" cy="673.7" r="1.45"/>
<circle cx="560.52" cy="671.61" r="1.45"/>
<circle cx="563.56" cy="669.65" r="1.45"/>
<circle cx="566.48" cy="669.65" r="1.45"/>
<circle cx="569.09" cy="668.81" r="1.45"/>
<circle cx="572.28" cy="672.32" r="1.45"/>
<circle cx="574.92" cy="670.08" r="1.45"/>
<circle cx="577.58" cy="671.95" r="1.45"/>
<circle cx="580.46" cy="670.93" r="1.45"/>
<circle cx="583.23" cy="675.72" r="1.45"/>
<circle cx="585.81" cy="673.37" r="1.45"/>
<circle cx="588.65" cy="674.5" r="1.45"/>
<circle cx="591.67" cy="676.48" r="1.45"/>
<circle cx="594.49" cy="674.63" r="1.45"/>
<circle cx="597.64" cy="676.06" r="1.45"/>
<circle cx="600.13" cy="675.12" r="1.45"/>
<circle cx="602.82" cy="676.72" r="1.45"/>
<circle cx="605.62" cy="676.53" r="1.45"/>
<circle cx="608.56" cy="676.54" r="1.45"/>
<circle cx="611.54" cy="677.82" r="1.45"/>
<circle cx="614.3" cy="676.29" r="1.45"/>
<circle cx="617.3" cy="676.95" r="1.45"/>
<circle cx="619.76" cy="678.04" r="1.45"/>
<circle cx="623.05" cy="679" r="1.45"/>
<circle cx="625.53" cy="675.86" r="1.45"/>
<circle cx="628.6" cy="678.98" r="1.45"/>
<circle cx="631.22" cy="678.83" r="1.45"/>
<circle cx="634.07" cy="681.43" r="1.45"/>
<circle cx="637.2" cy="677.16" r="1.45"/>
<circle cx="639.46" cy="680.1" r="1.45"/>
<circle cx="642.28" cy="681.56" r="1.45"/>
<circle cx="645.63" cy="683.86" r="1.45"/>
<circle cx="648.37" cy="684.22" r="1.45"/>
<circle cx="651.18" cy="685.93" r="1.45"/>
<circle cx="654" cy="690.68" r="1.45"/>
<circle cx="656.41" cy="692.44" r="1.45"/>
</g>
<g fill="#6b63a6" fill-opacity="0.85">
<circle cx="405.53" cy="698.43" r="1.45"/>
<circle cx="408.05" cy="698.5" r="1.45"/>
<circle cx="410.83" cy="698.5" r="1.45"/>
<circle cx="413.9" cy="698.16" r="1.45"/>
<circle cx="416.71" cy="698.08" r="1.45"/>
<circle cx="419.83" cy="698.5" r="1.45"/>
<circle cx="422.55" cy="698.5" r="1.45"/>
<circle cx="425.36" cy="698.5" r="1.45"/>
<circle cx="427.74" cy="698.21" r="1.45"/>
<circle cx="430.84" cy="697.19" r="1.45"/>
<circle cx="433.6" cy="693.73" r="1.45"/>
<circle cx="436.31" cy="690.62" r="1.45"/>
<circle cx="439.27" cy="686.39" r="1.45"/>
<circle cx="441.97" cy="682.21" r="1.45"/>
<circle cx="445.04" cy="682.95" r="1.45"/>
<circle cx="447.53" cy="677.63" r="1.45"/>
<circle cx="450.46" cy="677.68" r="1.45"/>
<circle cx="453.33" cy="675.22" r="1.45"/>
<circle cx="456.14" cy="675.69" r="1.45"/>
<circle cx="458.78" cy="673.19" r="1.45"/>
<circle cx="461.62" cy="677.14" r="1.45"/>
<circle cx="464.46" cy="673.28" r="1.45"/>
<circle cx="467.39" cy="673.7" r="1.45"/>
<circle cx="470.43" cy="674.06" r="1.45"/>
<circle cx="473.03" cy="675.76" r="1.45"/>
<circle cx="475.76" cy="672.53" r="1.45"/>
<circle cx="478.79" cy="672.27" r="1.45"/>
<circle cx="481.38" cy="674.43" r="1.45"/>
<circle cx="484.24" cy="675.49" r="1.45"/>
<circle cx="487.03" cy="673.8" r="1.45"/>
<circle cx="489.83" cy="673.84" r="1.45"/>
<circle cx="492.75" cy="670.33" r="1.45"/>
<circle cx="495.93" cy="667.42" r="1.45"/>
<circle cx="498.76" cy="669" r="1.45"/>
<circle cx="501.25" cy="665.48" r="1.45"/>
<circle cx="504.06" cy="666.23" r="1.45"/>
<circle cx="506.85" cy="665.07" r="1.45"/>
<circle cx="510.07" cy="665.63" r="1.45"/>
<circle cx="512.49" cy="667.49" r="1.45"/>
<circle cx="515.48" cy="662.17" r="1.45"/>
<circle cx="518.37" cy="662.76" r="1.45"/>
<circle cx="521.12" cy="661.77" r="1.45"/>
<circle cx="524.08" cy="662.46" r="1.45"/>
<circle cx="526.67" cy="659.03" r="1.45"/>
<circle cx="529.39" cy="660.95" r="1.45"/>
<circle cx="532.29" cy="661.35" r="1.45"/>
<circle cx="535.03" cy="661.77" r="1.45"/>
<circle cx="537.99" cy="661.53" r="1.45"/>
<circle cx="541.08" cy="668.23" r="1.45"/>
<circle cx="543.79" cy="667.44" r="1.45"/>
<circle cx="546.85" cy="664.11" r="1.45"/>
<circle cx="549.57" cy="667.41" r="1.45"/>
<circle cx="552.11" cy="666.45" r="1.45"/>
<circle cx="554.86" cy="670.1" r="1.45"/>
<circle cx="557.78" cy="668.79" r="1.45"/>
<circle cx="560.72" cy="669.69" r="1.45"/>
<circle cx="563.61" cy="667" r="1.45"/>
<circle cx="566.11" cy="670.03" r="1.45"/>
<circle cx="569.22" cy="668.88" r="1.45"/>
<circle cx="571.71" cy="670.92" r="1.45"/>
<circle cx="574.88" cy="671.8" r="1.45"/>
<circle cx="577.59" cy="671.03" r="1.45"/>
<circle cx="580.57" cy="673.18" r="1.45"/>
<circle cx="583.5" cy="671.22" r="1.45"/>
<circle cx="585.97" cy="674.86" r="1.45"/>
<circle cx="589.12" cy="674.27" r="1.45"/>
<circle cx="591.63" cy="673.38" r="1.45"/>
<circle cx="594.67" cy="674.71" r="1.45"/>
<circle cx="597.51" cy="675.47" r="1.45"/>
<circle cx="600.18" cy="677.93" r="1.45"/>
<circle cx="603.13" cy="674.38" r="1.45"/>
<circle cx="606.05" cy="675.21" r="1.45"/>
<circle cx="608.82" cy="674.9" r="1.45"/>
<circle cx="611.36" cy="676.89" r="1.45"/>
<circle cx="614.35" cy="677.28" r="1.45"/>
<circle cx="617.05" cy="677.22" r="1.45"/>
<circle cx="620.04" cy="678.65" r="1.45"/>
<circle cx="623.03" cy="676.94" r="1.45"/>
<circle cx="625.79" cy="677.39" r="1.45"/>
<circle cx="628.34" cy="679.46" r="1.45"/>
<circle cx="631.41" cy="681.15" r="1.45"/>
<circle cx="633.9" cy="679.38" r="1.45"/>
<circle cx="637.15" cy="679.26" r="1.45"/>
<circle cx="639.46" cy="680.1" r="1.45"/>
<circle cx="642.51" cy="681.37" r="1.45"/>
<circle cx="645.65" cy="682.83" r="1.45"/>
<circle cx="647.99" cy="684.32" r="1.45"/>
<circle cx="651.11" cy="685.84" r="1.45"/>
<circle cx="653.58" cy="690.52" r="1.45"/>
<circle cx="656.77" cy="693.09" r="1.45"/>
</g>
<g fill="#4e8aa2" fill-opacity="0.85">
<circle cx="405.23" cy="698.5" r="1.45"/>
<circle cx="407.98" cy="698.4" r="1.45"/>
<circle cx="411.24" cy="698.5" r="1.45"/>
<circle cx="413.9" cy="698.41" r="1.45"/>
<circle cx="416.72" cy="698.29" r="1.45"/>
<circle cx="419.84" cy="698.32" r="1.45"/>
<circle cx="422.3" cy="697.47" r="1.45"/>
<circle cx="425" cy="698.5" r="1.45"/>
<circle cx="427.78" cy="698.07" r="1.45"/>
<circle cx="430.72" cy="697.94" r="1.45"/>
<circle cx="433.78" cy="693.57" r="1.45"/>
<circle cx="436.3" cy="689.93" r="1.45"/>
<circle cx="439.14" cy="687.45" r="1.45"/>
<circle cx="441.88" cy="683.48" r="1.45"/>
<circle cx="444.79" cy="681.65" r="1.45"/>
<circle cx="447.75" cy="680.19" r="1.45"/>
<circle cx="450.36" cy="675.7" r="1.45"/>
<circle cx="453.46" cy="678.65" r="1.45"/>
<circle cx="455.99" cy="678.12" r="1.45"/>
<circle cx="459.04" cy="675.26" r="1.45"/>
<circle cx="462.18" cy="674.45" r="1.45"/>
<circle cx="464.96" cy="672.89" r="1.45"/>
<circle cx="467.43" cy="673.31" r="1.45"/>
<circle cx="470.29" cy="674.05" r="1.45"/>
<circle cx="473.08" cy="674.78" r="1.45"/>
<circle cx="475.84" cy="674.99" r="1.45"/>
<circle cx="478.85" cy="674.84" r="1.45"/>
<circle cx="481.53" cy="674.64" r="1.45"/>
<circle cx="484.45" cy="674.89" r="1.45"/>
<circle cx="487" cy="671.39" r="1.45"/>
<circle cx="490.17" cy="674.73" r="1.45"/>
<circle cx="492.74" cy="674.76" r="1.45"/>
<circle cx="496.03" cy="673.51" r="1.45"/>
<circle cx="498.38" cy="671.89" r="1.45"/>
<circle cx="501.56" cy="665.72" r="1.45"/>
<circle cx="504.38" cy="670.96" r="1.45"/>
<circle cx="506.94" cy="665.06" r="1.45"/>
<circle cx="510.1" cy="668.58" r="1.45"/>
<circle cx="512.94" cy="666.86" r="1.45"/>
<circle cx="515.33" cy="666.77" r="1.45"/>
<circle cx="518.32" cy="663.23" r="1.45"/>
<circle cx="521.42" cy="664.63" r="1.45"/>
<circle cx="524.12" cy="665.9" r="1.45"/>
<circle cx="526.57" cy="663.67" r="1.45"/>
<circle cx="529.51" cy="666.42" r="1.45"/>
<circle cx="532.48" cy="665.81" r="1.45"/>
<circle cx="535.49" cy="665.61" r="1.45"/>
<circle cx="538.17" cy="664.82" r="1.45"/>
<circle cx="541.08" cy="668.63" r="1.45"/>
<circle cx="543.82" cy="665.76" r="1.45"/>
<circle cx="546.49" cy="666.28" r="1.45"/>
<circle cx="549.69" cy="669.65" r="1.45"/>
<circle cx="552.32" cy="667.86" r="1.45"/>
<circle cx="554.81" cy="668.76" r="1.45"/>
<circle cx="558.1" cy="668.18" r="1.45"/>
<circle cx="560.52" cy="668.24" r="1.45"/>
<circle cx="563.33" cy="663.09" r="1.45"/>
<circle cx="566.35" cy="669.47" r="1.45"/>
<circle cx="568.96" cy="671.06" r="1.45"/>
<circle cx="572.1" cy="669.96" r="1.45"/>
<circle cx="574.99" cy="669.58" r="1.45"/>
<circle cx="577.36" cy="668.57" r="1.45"/>
<circle cx="580.34" cy="673.97" r="1.45"/>
<circle cx="583.21" cy="669.98" r="1.45"/>
<circle cx="586.28" cy="671.05" r="1.45"/>
<circle cx="588.94" cy="673.08" r="1.45"/>
<circle cx="591.55" cy="673.41" r="1.45"/>
<circle cx="594.75" cy="674.34" r="1.45"/>
<circle cx="597.55" cy="677.03" r="1.45"/>
<circle cx="600.31" cy="675.01" r="1.45"/>
<circle cx="603.05" cy="674.48" r="1.45"/>
<circle cx="605.99" cy="676.46" r="1.45"/>
<circle cx="608.54" cy="676.16" r="1.45"/>
<circle cx="611.38" cy="677.16" r="1.45"/>
<circle cx="614.5" cy="675.86" r="1.45"/>
<circle cx="617.41" cy="673.89" r="1.45"/>
<circle cx="620.12" cy="676.34" r="1.45"/>
<circle cx="622.69" cy="679.11" r="1.45"/>
<circle cx="625.61" cy="676.2" r="1.45"/>
<circle cx="628.47" cy="676.79" r="1.45"/>
<circle cx="631.52" cy="678.86" r="1.45"/>
<circle cx="633.83" cy="679.17" r="1.45"/>
<circle cx="637.02" cy="680.81" r="1.45"/>
<circle cx="639.74" cy="681.46" r="1.45"/>
<circle cx="642.3" cy="680.7" r="1.45"/>
<circle cx="645.62" cy="681.89" r="1.45"/>
<circle cx="648.27" cy="683.84" r="1.45"/>
<circle cx="650.86" cy="686.29" r="1.45"/>
<circle cx="653.82" cy="689.15" r="1.45"/>
<circle cx="656.51" cy="691.88" r="1.45"/>
</g>
<g fill="#55c0a2" fill-opacity="0.85">
<circle cx="405.5" cy="698.37" r="1.45"/>
<circle cx="408.31" cy="698.22" r="1.45"/>
<circle cx="411.31" cy="698.27" r="1.45"/>
<circle cx="413.61" cy="698.25" r="1.45"/>
<circle cx="416.84" cy="698.5" r="1.45"/>
<circle cx="419.64" cy="698.5" r="1.45"/>
<circle cx="422.11" cy="698.5" r="1.45"/>
<circle cx="425.01" cy="697.96" r="1.45"/>
<circle cx="428.29" cy="697.73" r="1.45"/>
<circle cx="430.86" cy="697.52" r="1.45"/>
<circle cx="433.52" cy="693.86" r="1.45"/>
<circle cx="436.36" cy="690.71" r="1.45"/>
<circle cx="439.29" cy="686.16" r="1.45"/>
<circle cx="442.18" cy="684.53" r="1.45"/>
<circle cx="444.97" cy="681.63" r="1.45"/>
<circle cx="447.69" cy="680.26" r="1.45"/>
<circle cx="450.85" cy="676.96" r="1.45"/>
<circle cx="453.25" cy="680.02" r="1.45"/>
<circle cx="456.24" cy="677.72" r="1.45"/>
<circle cx="458.84" cy="673.43" r="1.45"/>
<circle cx="461.64" cy="676.58" r="1.45"/>
<circle cx="464.67" cy="675.87" r="1.45"/>
<circle cx="467.44" cy="675.8" r="1.45"/>
<circle cx="470.34" cy="677.56" r="1.45"/>
<circle cx="473.35" cy="677.56" r="1.45"/>
<circle cx="476.12" cy="677.39" r="1.45"/>
<circle cx="478.82" cy="676.29" r="1.45"/>
<circle cx="481.89" cy="674.79" r="1.45"/>
<circle cx="484.63" cy="673.81" r="1.45"/>
<circle cx="487.25" cy="674.27" r="1.45"/>
<circle cx="489.94" cy="674.79" r="1.45"/>
<circle cx="493.2" cy="672.1" r="1.45"/>
<circle cx="495.8" cy="675.44" r="1.45"/>
<circle cx="498.82" cy="674.63" r="1.45"/>
<circle cx="501.18" cy="673.21" r="1.45"/>
<circle cx="504.1" cy="670.97" r="1.45"/>
<circle cx="506.94" cy="674.24" r="1.45"/>
<circle cx="510.06" cy="672.2" r="1.45"/>
<circle cx="512.87" cy="668.65" r="1.45"/>
<circle cx="515.3" cy="670.42" r="1.45"/>
<circle cx="518.58" cy="670.75" r="1.45"/>
<circle cx="521.29" cy="668.77" r="1.45"/>
<circle cx="523.75" cy="666.72" r="1.45"/>
<circle cx="527.09" cy="665.91" r="1.45"/>
<circle cx="529.84" cy="670.67" r="1.45"/>
<circle cx="532.59" cy="668.02" r="1.45"/>
<circle cx="535.07" cy="672.49" r="1.45"/>
<circle cx="537.91" cy="668.36" r="1.45"/>
<circle cx="541.01" cy="669.09" r="1.45"/>
<circle cx="543.71" cy="668.77" r="1.45"/>
<circle cx="546.71" cy="668.26" r="1.45"/>
<circle cx="549.6" cy="668.05" r="1.45"/>
<circle cx="552.03" cy="668.49" r="1.45"/>
<circle cx="555.13" cy="668.52" r="1.45"/>
<circle cx="558.15" cy="671.47" r="1.45"/>
<circle cx="560.91" cy="670.81" r="1.45"/>
<circle cx="563.6" cy="674.52" r="1.45"/>
<circle cx="566.1" cy="670.69" r="1.45"/>
<circle cx="569.45" cy="675.3" r="1.45"/>
<circle cx="572.06" cy="671.83" r="1.45"/>
<circle cx="574.61" cy="676.46" r="1.45"/>
<circle cx="577.53" cy="675.63" r="1.45"/>
<circle cx="580.74" cy="671.59" r="1.45"/>
<circle cx="583.07" cy="672.56" r="1.45"/>
<circle cx="586.28" cy="675.22" r="1.45"/>
<circle cx="589.1" cy="674.46" r="1.45"/>
<circle cx="591.98" cy="674.39" r="1.45"/>
<circle cx="594.38" cy="675.88" r="1.45"/>
<circle cx="597.59" cy="676.42" r="1.45"/>
<circle cx="600.07" cy="675.79" r="1.45"/>
<circle cx="603.28" cy="677.05" r="1.45"/>
<circle cx="605.69" cy="677.39" r="1.45"/>
<circle cx="608.63" cy="677.7" r="1.45"/>
<circle cx="611.65" cy="675.55" r="1.45"/>
<circle cx="614.47" cy="678.17" r="1.45"/>
<circle cx="617.12" cy="679.32" r="1.45"/>
<circle cx="619.81" cy="679.21" r="1.45"/>
<circle cx="622.7" cy="679.09" r="1.45"/>
<circle cx="625.71" cy="679.99" r="1.45"/>
<circle cx="628.46" cy="678.93" r="1.45"/>
<circle cx="631.33" cy="680.38" r="1.45"/>
<circle cx="634.27" cy="679.78" r="1.45"/>
<circle cx="636.96" cy="681.18" r="1.45"/>
<circle cx="639.75" cy="683.5" r="1.45"/>
<circle cx="642.75" cy="683.12" r="1.45"/>
<circle cx="645.62" cy="685.35" r="1.45"/>
<circle cx="647.93" cy="684.87" r="1.45"/>
<circle cx="650.85" cy="687.73" r="1.45"/>
<circle cx="654.14" cy="689.46" r="1.45"/>
<circle cx="656.68" cy="693.33" r="1.45"/>
</g>
<g fill="#99d35a" fill-opacity="0.85">
<circle cx="405.66" cy="698.11" r="1.45"/>
<circle cx="408.2" cy="698.14" r="1.45"/>
<circle cx="411.06" cy="698.23" r="1.45"/>
<circle cx="413.69" cy="698.48" r="1.45"/>
<circle cx="416.94" cy="698.27" r="1.45"/>
<circle cx="419.5" cy="697.89" r="1.45"/>
<circle cx="422.15" cy="698.5" r="1.45"/>
<circle cx="425.12" cy="698.5" r="1.45"/>
<circle cx="427.94" cy="697.88" r="1.45"/>
<circle cx="430.96" cy="697.29" r="1.45"/>
<circle cx="433.39" cy="694.08" r="1.45"/>
<circle cx="436.21" cy="690.13" r="1.45"/>
<circle cx="439.18" cy="686.22" r="1.45"/>
<circle cx="442.3" cy="682.69" r="1.45"/>
<circle cx="444.7" cy="681.33" r="1.45"/>
<circle cx="447.85" cy="678.53" r="1.45"/>
<circle cx="450.76" cy="674.96" r="1.45"/>
<circle cx="453.66" cy="675.94" r="1.45"/>
<circle cx="456.32" cy="676.02" r="1.45"/>
<circle cx="459.2" cy="676.82" r="1.45"/>
<circle cx="461.86" cy="674.02" r="1.45"/>
<circle cx="464.7" cy="674.83" r="1.45"/>
<circle cx="467.78" cy="674.95" r="1.45"/>
<circle cx="470.28" cy="673.91" r="1.45"/>
<circle cx="473.3" cy="673.42" r="1.45"/>
<circle cx="475.93" cy="672.19" r="1.45"/>
<circle cx="479.02" cy="675.49" r="1.45"/>
<circle cx="481.7" cy="673.56" r="1.45"/>
<circle cx="484.72" cy="673.26" r="1.45"/>
<circle cx="487.08" cy="672.81" r="1.45"/>
<circle cx="490.03" cy="674.29" r="1.45"/>
<circle cx="493" cy="670.75" r="1.45"/>
<circle cx="495.62" cy="670.43" r="1.45"/>
<circle cx="498.78" cy="668.79" r="1.45"/>
<circle cx="501.15" cy="668.84" r="1.45"/>
<circle cx="504.3" cy="668.28" r="1.45"/>
<circle cx="507.3" cy="668.87" r="1.45"/>
<circle cx="509.84" cy="668.76" r="1.45"/>
<circle cx="512.88" cy="665.38" r="1.45"/>
<circle cx="515.46" cy="665.81" r="1.45"/>
<circle cx="518.53" cy="667.54" r="1.45"/>
<circle cx="521.08" cy="663.65" r="1.45"/>
<circle cx="523.71" cy="663.42" r="1.45"/>
<circle cx="526.81" cy="664.78" r="1.45"/>
<circle cx="529.67" cy="666.58" r="1.45"/>
<circle cx="532.52" cy="667.13" r="1.45"/>
<circle cx="535.56" cy="663.38" r="1.45"/>
<circle cx="538.07" cy="664.79" r="1.45"/>
<circle cx="541.21" cy="667.46" r="1.45"/>
<circle cx="543.79" cy="666.04" r="1.45"/>
<circle cx="546.67" cy="663.35" r="1.45"/>
<circle cx="549.28" cy="666.67" r="1.45"/>
<circle cx="552.18" cy="666.49" r="1.45"/>
<circle cx="555.09" cy="667.75" r="1.45"/>
<circle cx="558.08" cy="667.68" r="1.45"/>
<circle cx="560.79" cy="665.45" r="1.45"/>
<circle cx="563.22" cy="669.52" r="1.45"/>
<circle cx="566.31" cy="667.56" r="1.45"/>
<circle cx="569.24" cy="671.19" r="1.45"/>
<circle cx="571.99" cy="669.13" r="1.45"/>
<circle cx="574.71" cy="669.79" r="1.45"/>
<circle cx="577.55" cy="670.48" r="1.45"/>
<circle cx="580.32" cy="672.86" r="1.45"/>
<circle cx="583.16" cy="669.58" r="1.45"/>
<circle cx="586.1" cy="672.78" r="1.45"/>
<circle cx="588.98" cy="670.36" r="1.45"/>
<circle cx="591.7" cy="675.07" r="1.45"/>
<circle cx="594.54" cy="675.29" r="1.45"/>
<circle cx="597.57" cy="672.31" r="1.45"/>
<circle cx="599.99" cy="675.89" r="1.45"/>
<circle cx="603.22" cy="675.94" r="1.45"/>
<circle cx="605.57" cy="675.85" r="1.45"/>
<circle cx="608.6" cy="676.18" r="1.45"/>
<circle cx="611.62" cy="674.49" r="1.45"/>
<circle cx="614.13" cy="675.73" r="1.45"/>
<circle cx="617.24" cy="677.74" r="1.45"/>
<circle cx="619.78" cy="678" r="1.45"/>
<circle cx="622.88" cy="675.3" r="1.45"/>
<circle cx="625.85" cy="679.2" r="1.45"/>
<circle cx="628.71" cy="678.72" r="1.45"/>
<circle cx="631.08" cy="680.5" r="1.45"/>
<circle cx="634.19" cy="678.4" r="1.45"/>
<circle cx="636.78" cy="682.67" r="1.45"/>
<circle cx="639.83" cy="681.56" r="1.45"/>
<circle cx="642.49" cy="682.74" r="1.45"/>
<circle cx="645.16" cy="682.76" r="1.45"/>
<circle cx="648.23" cy="684.93" r="1.45"/>
<circle cx="650.75" cy="686.29" r="1.45"/>
<circle cx="653.59" cy="689.35" r="1.45"/>
<circle cx="656.71" cy="692.02" r="1.45"/>
</g>
<g fill="#f8dc3c" fill-opacity="0.85">
<circle cx="405.59" cy="698.34" r="1.45"/>
<circle cx="408.48" cy="698.21" r="1.45"/>
<circle cx="411.13" cy="698.5" r="1.45"/>
<circle cx="414.18" cy="698.42" r="1.45"/>
<circle cx="416.74" cy="698.33" r="1.45"/>
<circle cx="419.34" cy="698.5" r="1.45"/>
<circle cx="422.38" cy="697.87" r="1.45"/>
<circle cx="425.17" cy="698.11" r="1.45"/>
<circle cx="427.79" cy="697.9" r="1.45"/>
<circle cx="430.86" cy="697.68" r="1.45"/>
<circle cx="433.94" cy="692.71" r="1.45"/>
<circle cx="436.35" cy="690.32" r="1.45"/>
<circle cx="439.55" cy="686.05" r="1.45"/>
<circle cx="442.39" cy="682.64" r="1.45"/>
<circle cx="444.91" cy="681.02" r="1.45"/>
<circle cx="447.85" cy="676.66" r="1.45"/>
<circle cx="450.86" cy="676.17" r="1.45"/>
<circle cx="453.36" cy="676.71" r="1.45"/>
<circle cx="456.21" cy="675.61" r="1.45"/>
<circle cx="459.01" cy="673.37" r="1.45"/>
<circle cx="461.85" cy="675.11" r="1.45"/>
<circle cx="464.53" cy="675.16" r="1.45"/>
<circle cx="467.25" cy="672.84" r="1.45"/>
<circle cx="470.56" cy="673.72" r="1.45"/>
<circle cx="473.25" cy="673.99" r="1.45"/>
<circle cx="476.05" cy="675.9" r="1.45"/>
<circle cx="478.61" cy="672.68" r="1.45"/>
<circle cx="481.58" cy="674.69" r="1.45"/>
<circle cx="484.37" cy="671.54" r="1.45"/>
<circle cx="487.09" cy="673.14" r="1.45"/>
<circle cx="490.28" cy="665.25" r="1.45"/>
<circle cx="493.03" cy="666.01" r="1.45"/>
<circle cx="495.58" cy="668.05" r="1.45"/>
<circle cx="498.46" cy="664.42" r="1.45"/>
<circle cx="501.41" cy="665.6" r="1.45"/>
<circle cx="504.23" cy="665.31" r="1.45"/>
<circle cx="507.2" cy="662.27" r="1.45"/>
<circle cx="510.14" cy="662.03" r="1.45"/>
<circle cx="512.66" cy="661.89" r="1.45"/>
<circle cx="515.53" cy="659.81" r="1.45"/>
<circle cx="518.38" cy="662.42" r="1.45"/>
<circle cx="521.42" cy="659.21" r="1.45"/>
<circle cx="523.76" cy="660.49" r="1.45"/>
<circle cx="526.96" cy="661.47" r="1.45"/>
<circle cx="529.46" cy="662" r="1.45"/>
<circle cx="532.28" cy="663.5" r="1.45"/>
<circle cx="535.18" cy="661.74" r="1.45"/>
<circle cx="538.24" cy="662.83" r="1.45"/>
<circle cx="541.13" cy="663.01" r="1.45"/>
<circle cx="543.94" cy="665.5" r="1.45"/>
<circle cx="546.31" cy="664.07" r="1.45"/>
<circle cx="549.11" cy="665.98" r="1.45"/>
<circle cx="552.22" cy="665.47" r="1.45"/>
<circle cx="554.79" cy="670.19" r="1.45"/>
<circle cx="557.6" cy="668.56" r="1.45"/>
<circle cx="560.63" cy="667.94" r="1.45"/>
<circle cx="563.46" cy="670.51" r="1.45"/>
<circle cx="566.07" cy="667.96" r="1.45"/>
<circle cx="568.88" cy="670.39" r="1.45"/>
<circle cx="572.15" cy="671.3" r="1.45"/>
<circle cx="575.1" cy="672.58" r="1.45"/>
<circle cx="577.34" cy="671.31" r="1.45"/>
<circle cx="580.66" cy="670.32" r="1.45"/>
<circle cx="583.27" cy="674.89" r="1.45"/>
<circle cx="585.85" cy="674.51" r="1.45"/>
<circle cx="588.85" cy="673.73" r="1.45"/>
<circle cx="591.82" cy="675.88" r="1.45"/>
<circle cx="594.51" cy="671.71" r="1.45"/>
<circle cx="597.4" cy="673.54" r="1.45"/>
<circle cx="599.97" cy="675.63" r="1.45"/>
<circle cx="603.03" cy="673.85" r="1.45"/>
<circle cx="605.82" cy="674.72" r="1.45"/>
<circle cx="608.82" cy="676.6" r="1.45"/>
<circle cx="611.48" cy="676.75" r="1.45"/>
<circle cx="614.21" cy="676.86" r="1.45"/>
<circle cx="617.21" cy="679.87" r="1.45"/>
<circle cx="620.07" cy="679.01" r="1.45"/>
<circle cx="622.5" cy="676.86" r="1.45"/>
<circle cx="625.53" cy="680.75" r="1.45"/>
<circle cx="628.42" cy="678.27" r="1.45"/>
<circle cx="631.33" cy="677.92" r="1.45"/>
<circle cx="633.82" cy="678.7" r="1.45"/>
<circle cx="637.1" cy="680.18" r="1.45"/>
<circle cx="639.67" cy="679.77" r="1.45"/>
<circle cx="642.65" cy="680.57" r="1.45"/>
<circle cx="645.34" cy="684.69" r="1.45"/>
<circle cx="648.25" cy="683.15" r="1.45"/>
<circle cx="650.81" cy="687.19" r="1.45"/>
<circle cx="654.09" cy="690.43" r="1.45"/>
<circle cx="656.4" cy="693.05" r="1.45"/>
</g>
<path d="M419.54 698.5 L420.95 698.5 L422.36 698.5 L423.77 698.5 L425.18 698.5 L426.6 698.5 L428.01 698.2 L429.42 697.63 L430.83 697.33 L432.24 696.23 L433.65 693.82 L435.06 691.41 L436.48 690.31 L437.89 689.21 L439.3 686.8 L440.71 684.39 L442.12 683.29 L443.53 682.8 L444.95 681.59 L446.36 680.01 L447.77 678.44 L449.18 677.22 L450.59 676.74 L452 676.69 L453.41 676.57 L454.83 676.38 L456.24 676.16 L457.65 675.92 L459.06 675.68 L460.47 675.45 L461.88 675.27 L463.29 675.15 L464.71 675.1 L466.12 675.08 L467.53 675.03 L468.94 674.95 L470.35 674.85 L471.76 674.75 L473.18 674.65 L474.59 674.55 L476 674.47 L477.41 674.42 L478.82 674.4 L480.23 674.31 L481.64 674.07 L483.06 673.73 L484.47 673.35 L485.88 672.96 L487.29 672.62 L488.7 672.38 L490.11 672.29 L491.52 672.14 L492.94 671.74 L494.35 671.18 L495.76 670.54 L497.17 669.89 L498.58 669.33 L499.99 668.93 L501.41 668.78 L502.82 668.63 L504.23 668.23 L505.64 667.67 L507.05 667.03 L508.46 666.38 L509.87 665.82 L511.29 665.42 L512.7 665.27 L514.11 665.13 L515.52 664.79 L516.93 664.34 L518.34 663.89 L519.75 663.54 L521.17 663.4 L522.58 663.44 L523.99 663.55 L525.4 663.7 L526.81 663.87 L528.22 664.04 L529.63 664.19 L531.05 664.3 L532.46 664.34 L533.87 664.42 L535.28 664.63 L536.69 664.93 L538.1 665.27 L539.52 665.62 L540.93 665.92 L542.34 666.13 L543.75 666.21 L545.16 666.29 L546.57 666.52 L547.98 666.87 L549.4 667.28 L550.81 667.73 L552.22 668.18 L553.63 668.59 L555.04 668.93 L556.45 669.16 L557.87 669.25 L559.28 669.29 L560.69 669.42 L562.1 669.61 L563.51 669.85 L564.92 670.14 L566.33 670.45 L567.75 670.77 L569.16 671.09 L570.57 671.41 L571.98 671.69 L573.39 671.93 L574.8 672.12 L576.21 672.25 L577.63 672.29 L579.04 672.34 L580.45 672.47 L581.86 672.68 L583.27 672.94 L584.68 673.25 L586.1 673.58 L587.51 673.93 L588.92 674.28 L590.33 674.61 L591.74 674.92 L593.15 675.18 L594.56 675.39 L595.98 675.52 L597.39 675.57 L598.8 675.59 L600.21 675.67 L601.62 675.78 L603.03 675.93 L604.44 676.11 L605.86 676.31 L607.27 676.52 L608.68 676.74 L610.09 676.96 L611.5 677.17 L612.91 677.37 L614.33 677.54 L615.74 677.69 L617.15 677.81 L618.56 677.88 L619.97 677.91 L621.38 677.95 L622.79 678.08 L624.21 678.27 L625.62 678.51 L627.03 678.79 L628.44 679.08 L629.85 679.37 L631.26 679.64 L632.67 679.88 L634.09 680.07 L635.5 680.2 L636.91 680.25 L638.32 680.43 L639.73 680.91 L641.14 681.58 L642.56 682.35 L643.97 683.13 L645.38 683.8 L646.79 684.28 L648.2 684.46 L649.61 685.07 L651.02 686.58 L652.44 688.55 L653.85 690.53 L655.26 692.04 L656.67 692.65" fill="none" stroke="#111" stroke-width="1"/>
<line x1="390" y1="702" x2="670.6" y2="702" stroke="#222" stroke-width="1.3"/>
<text x="510.5" y="641" font-size="12.3">URT1</text>
<circle cx="648.2" cy="659.4" r="15.35" fill="#d7d7d7"/>
<path d="M648.2 659.4 L648.2 644.05 A15.35 15.35 0 0 1 663.35 656.9 Z" fill="#c0201f" stroke="#fff" stroke-width="0.4"/>
<text x="637.4" y="641.4" font-size="10.9" fill="#c0282d">22.4% (b)</text>
<line x1="390" y1="704.4" x2="390" y2="778.3" stroke="#222" stroke-width="1"/>
<line x1="386.4" y1="774.3" x2="390" y2="774.3" stroke="#222" stroke-width="0.8"/>
<text x="384.4" y="777.4" font-size="9" text-anchor="end" fill="#222">0</text>
<line x1="386.4" y1="751.1" x2="390" y2="751.1" stroke="#222" stroke-width="0.8"/>
<text x="384.4" y="754.2" font-size="9" text-anchor="end" fill="#222">1</text>
<line x1="386.4" y1="727.9" x2="390" y2="727.9" stroke="#222" stroke-width="0.8"/>
<text x="384.4" y="731" font-size="9" text-anchor="end" fill="#222">2</text>
<line x1="386.4" y1="704.7" x2="390" y2="704.7" stroke="#222" stroke-width="0.8"/>
<text x="384.4" y="710.2" font-size="9" text-anchor="end" fill="#222">3</text>
<path d="M428.01 774.3 L428.01 769.81 L430.83 763.28 L433.65 757.22 L436.48 751.16 L439.3 745.65 L442.12 740.14 L444.95 734.63 L447.77 729.12 L450.59 725.81 L453.41 722.51 L456.24 723.32 L459.06 724.24 L461.88 727.99 L464.71 732.25 L467.53 733.78 L470.35 734.84 L473.18 736.7 L476 738.47 L478.82 739.26 L481.64 739.84 L484.47 741.13 L487.29 742.42 L490.11 743 L492.94 743.58 L495.76 744.74 L498.58 745.59 L501.41 745.77 L504.23 746.23 L507.05 746.73 L509.87 746.97 L512.7 747.41 L515.52 747.85 L518.34 748.43 L521.17 749.84 L523.99 751.61 L526.81 753.26 L529.63 754.31 L532.46 754.6 L535.28 755.49 L538.1 756.78 L540.93 757.93 L543.75 758.43 L546.57 758.75 L549.4 759.52 L552.22 760.43 L555.04 761.2 L557.87 761.52 L560.69 761.69 L563.51 762.13 L566.33 762.73 L569.16 763.39 L571.98 763.99 L574.8 764.43 L577.63 764.6 L580.45 764.72 L583.27 765.04 L586.1 765.47 L588.92 765.94 L591.74 766.37 L594.56 766.68 L597.39 766.81 L600.21 766.87 L603.03 767.06 L605.86 767.32 L608.68 767.63 L611.5 767.96 L614.33 768.28 L617.15 768.54 L619.97 768.72 L622.79 768.79 L625.62 768.89 L628.44 769.14 L631.26 769.48 L634.09 769.86 L636.91 770.2 L639.73 770.46 L642.56 770.55 L645.38 770.86 L648.2 771.54 L651.02 772.23 L653.85 772.54 L656.67 773.2 L656.67 774.3 Z" fill="#cdcdcd"/>
<line x1="428.01" y1="774.3" x2="656.67" y2="774.3" stroke="#333" stroke-width="1"/>
<g fill="#6a3d7c" fill-opacity="0.85">
<circle cx="405.21" cy="774.3" r="1.45"/>
<circle cx="408.37" cy="773.8" r="1.45"/>
<circle cx="410.92" cy="774.3" r="1.45"/>
<circle cx="414.14" cy="774.3" r="1.45"/>
<circle cx="416.85" cy="774.16" r="1.45"/>
<circle cx="419.74" cy="774.07" r="1.45"/>
<circle cx="422.65" cy="774.3" r="1.45"/>
<circle cx="425.35" cy="773.12" r="1.45"/>
<circle cx="428.19" cy="769.48" r="1.45"/>
<circle cx="431.02" cy="762.21" r="1.45"/>
<circle cx="433.88" cy="754.29" r="1.45"/>
<circle cx="436.75" cy="747.57" r="1.45"/>
<circle cx="439.51" cy="741.28" r="1.45"/>
<circle cx="442.4" cy="734.53" r="1.45"/>
<circle cx="444.96" cy="730.21" r="1.45"/>
<circle cx="447.95" cy="721.72" r="1.45"/>
<circle cx="450.79" cy="718.86" r="1.45"/>
<circle cx="453.11" cy="707.41" r="1.45"/>
<circle cx="456.39" cy="707.11" r="1.45"/>
<circle cx="458.96" cy="712.86" r="1.45"/>
<circle cx="462.14" cy="713.01" r="1.45"/>
<circle cx="464.73" cy="719.49" r="1.45"/>
<circle cx="467.74" cy="718.61" r="1.45"/>
<circle cx="470.33" cy="722.69" r="1.45"/>
<circle cx="473.38" cy="726" r="1.45"/>
<circle cx="475.77" cy="730.21" r="1.45"/>
<circle cx="478.71" cy="728.58" r="1.45"/>
<circle cx="481.89" cy="730.66" r="1.45"/>
<circle cx="484.32" cy="728.43" r="1.45"/>
<circle cx="487.53" cy="732.23" r="1.45"/>
<circle cx="490.13" cy="733.44" r="1.45"/>
<circle cx="493.12" cy="733.41" r="1.45"/>
<circle cx="495.54" cy="732.4" r="1.45"/>
<circle cx="498.39" cy="737.93" r="1.45"/>
<circle cx="501.19" cy="738.04" r="1.45"/>
<circle cx="504.33" cy="739.58" r="1.45"/>
<circle cx="507.11" cy="741.24" r="1.45"/>
<circle cx="509.68" cy="738.42" r="1.45"/>
<circle cx="512.49" cy="740.74" r="1.45"/>
<circle cx="515.64" cy="741.18" r="1.45"/>
<circle cx="518.16" cy="738.45" r="1.45"/>
<circle cx="521.05" cy="746.53" r="1.45"/>
<circle cx="524.13" cy="747.79" r="1.45"/>
<circle cx="527.06" cy="750.65" r="1.45"/>
<circle cx="529.66" cy="752.72" r="1.45"/>
<circle cx="532.42" cy="754.87" r="1.45"/>
<circle cx="535.09" cy="753.24" r="1.45"/>
<circle cx="537.93" cy="755.01" r="1.45"/>
<circle cx="541.17" cy="756.76" r="1.45"/>
<circle cx="543.69" cy="757.47" r="1.45"/>
<circle cx="546.3" cy="757.07" r="1.45"/>
<circle cx="549.66" cy="757.94" r="1.45"/>
<circle cx="552.16" cy="759.97" r="1.45"/>
<circle cx="554.86" cy="760.82" r="1.45"/>
<circle cx="557.77" cy="761.63" r="1.45"/>
<circle cx="560.66" cy="761.53" r="1.45"/>
<circle cx="563.74" cy="762.58" r="1.45"/>
<circle cx="566.07" cy="761.1" r="1.45"/>
<circle cx="568.93" cy="763.53" r="1.45"/>
<circle cx="571.94" cy="763.36" r="1.45"/>
<circle cx="575.03" cy="764.59" r="1.45"/>
<circle cx="577.8" cy="764.19" r="1.45"/>
<circle cx="580.2" cy="764.81" r="1.45"/>
<circle cx="583.04" cy="763.93" r="1.45"/>
<circle cx="586.05" cy="764.65" r="1.45"/>
<circle cx="588.91" cy="765.57" r="1.45"/>
<circle cx="591.86" cy="766.7" r="1.45"/>
<circle cx="594.65" cy="766.4" r="1.45"/>
<circle cx="597.09" cy="767.22" r="1.45"/>
<circle cx="600.44" cy="766.92" r="1.45"/>
<circle cx="602.94" cy="766.29" r="1.45"/>
<circle cx="605.94" cy="768.74" r="1.45"/>
<circle cx="608.43" cy="768.64" r="1.45"/>
<circle cx="611.44" cy="768.44" r="1.45"/>
<circle cx="614.1" cy="768.14" r="1.45"/>
<circle cx="617.04" cy="768.29" r="1.45"/>
<circle cx="620.19" cy="768.75" r="1.45"/>
<circle cx="622.96" cy="769.44" r="1.45"/>
<circle cx="625.69" cy="769.79" r="1.45"/>
<circle cx="628.24" cy="769.83" r="1.45"/>
<circle cx="630.97" cy="769.84" r="1.45"/>
<circle cx="634.21" cy="769.64" r="1.45"/>
<circle cx="636.93" cy="770.51" r="1.45"/>
<circle cx="639.73" cy="771.29" r="1.45"/>
<circle cx="642.51" cy="770.32" r="1.45"/>
<circle cx="645.09" cy="772.05" r="1.45"/>
<circle cx="648.32" cy="771.41" r="1.45"/>
<circle cx="651.13" cy="772.92" r="1.45"/>
<circle cx="654.14" cy="772.76" r="1.45"/>
<circle cx="656.56" cy="773.69" r="1.45"/>
</g>
<g fill="#6b63a6" fill-opacity="0.85">
<circle cx="405.52" cy="774.2" r="1.45"/>
<circle cx="408.36" cy="773.98" r="1.45"/>
<circle cx="411" cy="774.3" r="1.45"/>
<circle cx="413.73" cy="774.2" r="1.45"/>
<circle cx="416.86" cy="774.3" r="1.45"/>
<circle cx="419.69" cy="774.14" r="1.45"/>
<circle cx="422.4" cy="773.83" r="1.45"/>
<circle cx="425.26" cy="772.75" r="1.45"/>
<circle cx="428.01" cy="769.36" r="1.45"/>
<circle cx="431.12" cy="761.23" r="1.45"/>
<circle cx="433.95" cy="756.13" r="1.45"/>
<circle cx="436.61" cy="748.02" r="1.45"/>
<circle cx="439.31" cy="741.45" r="1.45"/>
<circle cx="442.22" cy="736.61" r="1.45"/>
<circle cx="444.82" cy="730.8" r="1.45"/>
<circle cx="447.52" cy="725.66" r="1.45"/>
<circle cx="450.47" cy="720.88" r="1.45"/>
<circle cx="453.65" cy="710.65" r="1.45"/>
<circle cx="456.38" cy="714.95" r="1.45"/>
<circle cx="458.86" cy="714.8" r="1.45"/>
<circle cx="461.67" cy="719.46" r="1.45"/>
<circle cx="464.72" cy="723.92" r="1.45"/>
<circle cx="467.31" cy="726.56" r="1.45"/>
<circle cx="470.25" cy="729.48" r="1.45"/>
<circle cx="472.92" cy="730.77" r="1.45"/>
<circle cx="475.89" cy="731.68" r="1.45"/>
<circle cx="478.96" cy="731.91" r="1.45"/>
<circle cx="481.57" cy="734.93" r="1.45"/>
<circle cx="484.45" cy="733.96" r="1.45"/>
<circle cx="487.09" cy="736.83" r="1.45"/>
<circle cx="490.35" cy="737.12" r="1.45"/>
<circle cx="493.09" cy="741.65" r="1.45"/>
<circle cx="495.95" cy="737.94" r="1.45"/>
<circle cx="498.74" cy="738.79" r="1.45"/>
<circle cx="501.32" cy="739.58" r="1.45"/>
<circle cx="504.09" cy="740.74" r="1.45"/>
<circle cx="507.08" cy="741.58" r="1.45"/>
<circle cx="509.8" cy="739.62" r="1.45"/>
<circle cx="512.4" cy="743.46" r="1.45"/>
<circle cx="515.63" cy="743.91" r="1.45"/>
<circle cx="518.27" cy="745.47" r="1.45"/>
<circle cx="521.17" cy="746.88" r="1.45"/>
<circle cx="523.81" cy="750.3" r="1.45"/>
<circle cx="526.89" cy="751.7" r="1.45"/>
<circle cx="529.55" cy="753.65" r="1.45"/>
<circle cx="532.58" cy="753.74" r="1.45"/>
<circle cx="535.5" cy="753.87" r="1.45"/>
<circle cx="538.15" cy="755.85" r="1.45"/>
<circle cx="541.04" cy="756.89" r="1.45"/>
<circle cx="543.83" cy="758.7" r="1.45"/>
<circle cx="546.53" cy="758.46" r="1.45"/>
<circle cx="549.49" cy="759.48" r="1.45"/>
<circle cx="552.51" cy="760.12" r="1.45"/>
<circle cx="555.02" cy="760.8" r="1.45"/>
<circle cx="558.03" cy="760.27" r="1.45"/>
<circle cx="560.81" cy="761.47" r="1.45"/>
<circle cx="563.29" cy="761.81" r="1.45"/>
<circle cx="566.49" cy="761.01" r="1.45"/>
<circle cx="569.36" cy="762.53" r="1.45"/>
<circle cx="571.85" cy="764.49" r="1.45"/>
<circle cx="575.05" cy="764.46" r="1.45"/>
<circle cx="577.92" cy="764.17" r="1.45"/>
<circle cx="580.33" cy="764.44" r="1.45"/>
<circle cx="583.52" cy="764.58" r="1.45"/>
<circle cx="586.04" cy="765" r="1.45"/>
<circle cx="588.79" cy="765.3" r="1.45"/>
<circle cx="592.02" cy="766.71" r="1.45"/>
<circle cx="594.45" cy="765.86" r="1.45"/>
<circle cx="597.47" cy="766.55" r="1.45"/>
<circle cx="600.18" cy="767.31" r="1.45"/>
<circle cx="603.14" cy="766.05" r="1.45"/>
<circle cx="606.11" cy="767.8" r="1.45"/>
<circle cx="608.96" cy="767.98" r="1.45"/>
<circle cx="611.64" cy="767.14" r="1.45"/>
<circle cx="614.49" cy="768.12" r="1.45"/>
<circle cx="617.33" cy="768.08" r="1.45"/>
<circle cx="620.11" cy="768.72" r="1.45"/>
<circle cx="622.88" cy="768.25" r="1.45"/>
<circle cx="625.89" cy="768.99" r="1.45"/>
<circle cx="628.22" cy="768.5" r="1.45"/>
<circle cx="631.17" cy="770.01" r="1.45"/>
<circle cx="634.09" cy="769.38" r="1.45"/>
<circle cx="637.16" cy="770.49" r="1.45"/>
<circle cx="639.73" cy="770.48" r="1.45"/>
<circle cx="642.75" cy="771.07" r="1.45"/>
<circle cx="645.1" cy="770.59" r="1.45"/>
<circle cx="648.06" cy="772.31" r="1.45"/>
<circle cx="650.83" cy="772.22" r="1.45"/>
<circle cx="653.69" cy="773.75" r="1.45"/>
<circle cx="656.52" cy="773.56" r="1.45"/>
</g>
<g fill="#4e8aa2" fill-opacity="0.85">
<circle cx="405.27" cy="774.3" r="1.45"/>
<circle cx="408.09" cy="774.3" r="1.45"/>
<circle cx="410.85" cy="774.16" r="1.45"/>
<circle cx="414" cy="773.9" r="1.45"/>
<circle cx="416.64" cy="774.3" r="1.45"/>
<circle cx="419.27" cy="774.27" r="1.45"/>
<circle cx="422.37" cy="774.3" r="1.45"/>
<circle cx="425.17" cy="772.84" r="1.45"/>
<circle cx="427.76" cy="769.12" r="1.45"/>
<circle cx="430.74" cy="762.51" r="1.45"/>
<circle cx="433.89" cy="757.49" r="1.45"/>
<circle cx="436.75" cy="749.81" r="1.45"/>
<circle cx="439.09" cy="745.29" r="1.45"/>
<circle cx="442.05" cy="739.76" r="1.45"/>
<circle cx="444.85" cy="733.33" r="1.45"/>
<circle cx="447.52" cy="724.23" r="1.45"/>
<circle cx="450.42" cy="726.97" r="1.45"/>
<circle cx="453.58" cy="719.25" r="1.45"/>
<circle cx="456.23" cy="718.07" r="1.45"/>
<circle cx="458.88" cy="721.28" r="1.45"/>
<circle cx="462" cy="731.02" r="1.45"/>
<circle cx="464.68" cy="730.12" r="1.45"/>
<circle cx="467.69" cy="730.37" r="1.45"/>
<circle cx="470.25" cy="733.03" r="1.45"/>
<circle cx="473.21" cy="734.05" r="1.45"/>
<circle cx="476.08" cy="735.71" r="1.45"/>
<circle cx="478.58" cy="737.84" r="1.45"/>
<circle cx="481.67" cy="737.53" r="1.45"/>
<circle cx="484.65" cy="740.03" r="1.45"/>
<circle cx="487.27" cy="738.7" r="1.45"/>
<circle cx="490.3" cy="741.53" r="1.45"/>
<circle cx="493.13" cy="740.62" r="1.45"/>
<circle cx="495.58" cy="742.84" r="1.45"/>
<circle cx="498.49" cy="743.26" r="1.45"/>
<circle cx="501.54" cy="745.06" r="1.45"/>
<circle cx="503.97" cy="745.19" r="1.45"/>
<circle cx="507.26" cy="746.09" r="1.45"/>
<circle cx="509.6" cy="746.98" r="1.45"/>
<circle cx="512.69" cy="744.85" r="1.45"/>
<circle cx="515.78" cy="745.31" r="1.45"/>
<circle cx="518.59" cy="747.6" r="1.45"/>
<circle cx="521.11" cy="749.36" r="1.45"/>
<circle cx="523.85" cy="751.74" r="1.45"/>
<circle cx="526.79" cy="752.7" r="1.45"/>
<circle cx="529.48" cy="752.68" r="1.45"/>
<circle cx="532.17" cy="751.04" r="1.45"/>
<circle cx="535.14" cy="755.06" r="1.45"/>
<circle cx="538.1" cy="756.51" r="1.45"/>
<circle cx="540.89" cy="757.92" r="1.45"/>
<circle cx="543.87" cy="755.61" r="1.45"/>
<circle cx="546.57" cy="760.17" r="1.45"/>
<circle cx="549.45" cy="758.37" r="1.45"/>
<circle cx="552.16" cy="758.23" r="1.45"/>
<circle cx="554.82" cy="761.42" r="1.45"/>
<circle cx="558.03" cy="760.31" r="1.45"/>
<circle cx="560.63" cy="761.06" r="1.45"/>
<circle cx="563.77" cy="760.35" r="1.45"/>
<circle cx="566.2" cy="762.3" r="1.45"/>
<circle cx="569.41" cy="762.03" r="1.45"/>
<circle cx="571.9" cy="762.8" r="1.45"/>
<circle cx="574.82" cy="762.31" r="1.45"/>
<circle cx="577.44" cy="762.83" r="1.45"/>
<circle cx="580.2" cy="764.14" r="1.45"/>
<circle cx="583.11" cy="764.13" r="1.45"/>
<circle cx="585.9" cy="764.51" r="1.45"/>
<circle cx="588.67" cy="764.83" r="1.45"/>
<circle cx="591.83" cy="766.77" r="1.45"/>
<circle cx="594.79" cy="765.64" r="1.45"/>
<circle cx="597.54" cy="765.79" r="1.45"/>
<circle cx="600.29" cy="765.4" r="1.45"/>
<circle cx="603.01" cy="765.63" r="1.45"/>
<circle cx="605.84" cy="765.77" r="1.45"/>
<circle cx="608.5" cy="766.09" r="1.45"/>
<circle cx="611.4" cy="766.97" r="1.45"/>
<circle cx="614.29" cy="766.73" r="1.45"/>
<circle cx="616.92" cy="768.28" r="1.45"/>
<circle cx="619.98" cy="767.97" r="1.45"/>
<circle cx="623.06" cy="768.53" r="1.45"/>
<circle cx="625.73" cy="768.41" r="1.45"/>
<circle cx="628.17" cy="768.55" r="1.45"/>
<circle cx="631.31" cy="768.77" r="1.45"/>
<circle cx="634.04" cy="769.1" r="1.45"/>
<circle cx="636.99" cy="769.1" r="1.45"/>
<circle cx="639.47" cy="769.64" r="1.45"/>
<circle cx="642.57" cy="769.86" r="1.45"/>
<circle cx="645.17" cy="769.64" r="1.45"/>
<circle cx="648.27" cy="770.96" r="1.45"/>
<circle cx="650.99" cy="771.3" r="1.45"/>
<circle cx="653.84" cy="772.07" r="1.45"/>
<circle cx="656.47" cy="772.5" r="1.45"/>
</g>
<g fill="#55c0a2" fill-opacity="0.85">
<circle cx="405.46" cy="774.23" r="1.45"/>
<circle cx="408.04" cy="774.23" r="1.45"/>
<circle cx="411.29" cy="773.78" r="1.45"/>
<circle cx="414" cy="774.13" r="1.45"/>
<circle cx="416.56" cy="773.66" r="1.45"/>
<circle cx="419.64" cy="774.3" r="1.45"/>
<circle cx="422.59" cy="774.3" r="1.45"/>
<circle cx="425.43" cy="772.39" r="1.45"/>
<circle cx="427.82" cy="769.96" r="1.45"/>
<circle cx="431.01" cy="762.92" r="1.45"/>
<circle cx="433.56" cy="756.63" r="1.45"/>
<circle cx="436.67" cy="751.78" r="1.45"/>
<circle cx="439.55" cy="745.73" r="1.45"/>
<circle cx="442.4" cy="742.13" r="1.45"/>
<circle cx="445.08" cy="734.92" r="1.45"/>
<circle cx="447.74" cy="727.53" r="1.45"/>
<circle cx="450.85" cy="728.09" r="1.45"/>
<circle cx="453.57" cy="727.15" r="1.45"/>
<circle cx="455.94" cy="723.66" r="1.45"/>
<circle cx="459.01" cy="724.4" r="1.45"/>
<circle cx="462.18" cy="733.69" r="1.45"/>
<circle cx="464.76" cy="734.52" r="1.45"/>
<circle cx="467.77" cy="737.11" r="1.45"/>
<circle cx="470.11" cy="736.45" r="1.45"/>
<circle cx="473.31" cy="741.23" r="1.45"/>
<circle cx="476.01" cy="742.44" r="1.45"/>
<circle cx="478.56" cy="738.52" r="1.45"/>
<circle cx="481.87" cy="742.19" r="1.45"/>
<circle cx="484.73" cy="741.69" r="1.45"/>
<circle cx="487.1" cy="743.96" r="1.45"/>
<circle cx="490.08" cy="747.54" r="1.45"/>
<circle cx="492.83" cy="745.21" r="1.45"/>
<circle cx="495.78" cy="745.5" r="1.45"/>
<circle cx="498.37" cy="744.4" r="1.45"/>
<circle cx="501.65" cy="746.18" r="1.45"/>
<circle cx="504.34" cy="747.84" r="1.45"/>
<circle cx="506.93" cy="750.26" r="1.45"/>
<circle cx="509.99" cy="747.69" r="1.45"/>
<circle cx="512.75" cy="748.4" r="1.45"/>
<circle cx="515.49" cy="747.48" r="1.45"/>
<circle cx="518.15" cy="748.3" r="1.45"/>
<circle cx="521.36" cy="750.73" r="1.45"/>
<circle cx="524.28" cy="751.91" r="1.45"/>
<circle cx="526.6" cy="750.74" r="1.45"/>
<circle cx="529.83" cy="754.12" r="1.45"/>
<circle cx="532.54" cy="752.08" r="1.45"/>
<circle cx="535.18" cy="752.2" r="1.45"/>
<circle cx="537.93" cy="752.57" r="1.45"/>
<circle cx="540.7" cy="753.96" r="1.45"/>
<circle cx="544" cy="756.45" r="1.45"/>
<circle cx="546.58" cy="754.87" r="1.45"/>
<circle cx="549.45" cy="757.37" r="1.45"/>
<circle cx="552.51" cy="757.48" r="1.45"/>
<circle cx="555.2" cy="758.16" r="1.45"/>
<circle cx="558.01" cy="759.51" r="1.45"/>
<circle cx="560.5" cy="758.36" r="1.45"/>
<circle cx="563.28" cy="759.68" r="1.45"/>
<circle cx="566.21" cy="760.71" r="1.45"/>
<circle cx="569.45" cy="762.32" r="1.45"/>
<circle cx="572.17" cy="761.91" r="1.45"/>
<circle cx="574.92" cy="762.12" r="1.45"/>
<circle cx="577.36" cy="763.57" r="1.45"/>
<circle cx="580.54" cy="762.69" r="1.45"/>
<circle cx="583.32" cy="763.88" r="1.45"/>
<circle cx="586.31" cy="762.57" r="1.45"/>
<circle cx="588.66" cy="763.79" r="1.45"/>
<circle cx="591.56" cy="765.23" r="1.45"/>
<circle cx="594.56" cy="765.58" r="1.45"/>
<circle cx="597.36" cy="765.88" r="1.45"/>
<circle cx="600.42" cy="765.17" r="1.45"/>
<circle cx="603.19" cy="765.69" r="1.45"/>
<circle cx="605.79" cy="763.57" r="1.45"/>
<circle cx="608.71" cy="765.44" r="1.45"/>
<circle cx="611.63" cy="766.97" r="1.45"/>
<circle cx="614.54" cy="766.32" r="1.45"/>
<circle cx="617.21" cy="767.94" r="1.45"/>
<circle cx="619.84" cy="766.87" r="1.45"/>
<circle cx="622.86" cy="767.29" r="1.45"/>
<circle cx="625.37" cy="766.82" r="1.45"/>
<circle cx="628.37" cy="766.24" r="1.45"/>
<circle cx="631.17" cy="768.21" r="1.45"/>
<circle cx="633.95" cy="768.25" r="1.45"/>
<circle cx="637.19" cy="768.97" r="1.45"/>
<circle cx="639.74" cy="769.21" r="1.45"/>
<circle cx="642.79" cy="768.8" r="1.45"/>
<circle cx="645.41" cy="768.34" r="1.45"/>
<circle cx="648.21" cy="769.21" r="1.45"/>
<circle cx="650.81" cy="770.25" r="1.45"/>
<circle cx="653.9" cy="770.23" r="1.45"/>
<circle cx="656.47" cy="771.44" r="1.45"/>
</g>
<g fill="#99d35a" fill-opacity="0.85">
<circle cx="405.51" cy="774.3" r="1.45"/>
<circle cx="408.45" cy="774.19" r="1.45"/>
<circle cx="410.88" cy="774.18" r="1.45"/>
<circle cx="413.77" cy="774.28" r="1.45"/>
<circle cx="416.99" cy="774" r="1.45"/>
<circle cx="419.54" cy="774.3" r="1.45"/>
<circle cx="422.45" cy="773.9" r="1.45"/>
<circle cx="425.21" cy="771.91" r="1.45"/>
<circle cx="427.98" cy="769.81" r="1.45"/>
<circle cx="430.8" cy="762.6" r="1.45"/>
<circle cx="433.43" cy="756.51" r="1.45"/>
<circle cx="436.37" cy="749.75" r="1.45"/>
<circle cx="439.47" cy="744.96" r="1.45"/>
<circle cx="442.14" cy="737.88" r="1.45"/>
<circle cx="445.09" cy="735.36" r="1.45"/>
<circle cx="447.52" cy="729.54" r="1.45"/>
<circle cx="450.67" cy="724.77" r="1.45"/>
<circle cx="453.63" cy="728.1" r="1.45"/>
<circle cx="456.03" cy="728.79" r="1.45"/>
<circle cx="458.96" cy="728.11" r="1.45"/>
<circle cx="461.64" cy="730.16" r="1.45"/>
<circle cx="464.51" cy="734.74" r="1.45"/>
<circle cx="467.8" cy="734.14" r="1.45"/>
<circle cx="470.21" cy="737.64" r="1.45"/>
<circle cx="473.04" cy="735.97" r="1.45"/>
<circle cx="475.77" cy="739.41" r="1.45"/>
<circle cx="479.08" cy="742.47" r="1.45"/>
<circle cx="481.62" cy="739.73" r="1.45"/>
<circle cx="484.35" cy="743.15" r="1.45"/>
<circle cx="487.42" cy="744.47" r="1.45"/>
<circle cx="489.85" cy="743.6" r="1.45"/>
<circle cx="493.06" cy="744.44" r="1.45"/>
<circle cx="495.67" cy="748.44" r="1.45"/>
<circle cx="498.61" cy="747.51" r="1.45"/>
<circle cx="501.19" cy="748.56" r="1.45"/>
<circle cx="503.97" cy="748.52" r="1.45"/>
<circle cx="507.17" cy="746.89" r="1.45"/>
<circle cx="509.97" cy="749.81" r="1.45"/>
<circle cx="512.95" cy="749.17" r="1.45"/>
<circle cx="515.39" cy="749.08" r="1.45"/>
<circle cx="518.59" cy="749.08" r="1.45"/>
<circle cx="521.19" cy="749.72" r="1.45"/>
<circle cx="524.1" cy="750.53" r="1.45"/>
<circle cx="527.08" cy="752.18" r="1.45"/>
<circle cx="529.83" cy="755.31" r="1.45"/>
<circle cx="532.16" cy="751.33" r="1.45"/>
<circle cx="535.41" cy="752.72" r="1.45"/>
<circle cx="538.26" cy="753.38" r="1.45"/>
<circle cx="541.16" cy="754.43" r="1.45"/>
<circle cx="543.54" cy="756.17" r="1.45"/>
<circle cx="546.73" cy="755.02" r="1.45"/>
<circle cx="549.44" cy="758.3" r="1.45"/>
<circle cx="551.92" cy="756.29" r="1.45"/>
<circle cx="555.24" cy="758.9" r="1.45"/>
<circle cx="557.9" cy="758.85" r="1.45"/>
<circle cx="560.86" cy="758.4" r="1.45"/>
<circle cx="563.47" cy="759.36" r="1.45"/>
<circle cx="566.11" cy="760.26" r="1.45"/>
<circle cx="569.22" cy="761.12" r="1.45"/>
<circle cx="572.08" cy="761.72" r="1.45"/>
<circle cx="574.93" cy="762.41" r="1.45"/>
<circle cx="577.91" cy="761.19" r="1.45"/>
<circle cx="580.48" cy="762.45" r="1.45"/>
<circle cx="582.98" cy="763.36" r="1.45"/>
<circle cx="586.03" cy="764.22" r="1.45"/>
<circle cx="588.96" cy="763.27" r="1.45"/>
<circle cx="591.99" cy="763.15" r="1.45"/>
<circle cx="594.55" cy="764.08" r="1.45"/>
<circle cx="597.23" cy="763.79" r="1.45"/>
<circle cx="600.3" cy="764.07" r="1.45"/>
<circle cx="603.06" cy="764.98" r="1.45"/>
<circle cx="606.06" cy="765.38" r="1.45"/>
<circle cx="608.7" cy="764.46" r="1.45"/>
<circle cx="611.53" cy="765.83" r="1.45"/>
<circle cx="614.62" cy="766.93" r="1.45"/>
<circle cx="616.98" cy="766.01" r="1.45"/>
<circle cx="619.98" cy="766.8" r="1.45"/>
<circle cx="622.92" cy="766.11" r="1.45"/>
<circle cx="625.72" cy="767.64" r="1.45"/>
<circle cx="628.27" cy="767.03" r="1.45"/>
<circle cx="631.17" cy="767.03" r="1.45"/>
<circle cx="634.03" cy="767.07" r="1.45"/>
<circle cx="636.86" cy="767.82" r="1.45"/>
<circle cx="639.98" cy="767.97" r="1.45"/>
<circle cx="642.69" cy="768.04" r="1.45"/>
<circle cx="645.53" cy="768.93" r="1.45"/>
<circle cx="648" cy="769.73" r="1.45"/>
<circle cx="651" cy="770.13" r="1.45"/>
<circle cx="653.61" cy="769.92" r="1.45"/>
<circle cx="656.94" cy="771.16" r="1.45"/>
</g>
<g fill="#f8dc3c" fill-opacity="0.85">
<circle cx="405.43" cy="774.3" r="1.45"/>
<circle cx="407.96" cy="773.86" r="1.45"/>
<circle cx="411.29" cy="774.3" r="1.45"/>
<circle cx="413.73" cy="774.3" r="1.45"/>
<circle cx="416.78" cy="774.3" r="1.45"/>
<circle cx="419.44" cy="773.95" r="1.45"/>
<circle cx="422.29" cy="774.3" r="1.45"/>
<circle cx="425.33" cy="773.06" r="1.45"/>
<circle cx="427.91" cy="768.67" r="1.45"/>
<circle cx="430.96" cy="763.47" r="1.45"/>
<circle cx="433.83" cy="756.48" r="1.45"/>
<circle cx="436.19" cy="751.06" r="1.45"/>
<circle cx="439.28" cy="743.17" r="1.45"/>
<circle cx="442.41" cy="741.7" r="1.45"/>
<circle cx="444.95" cy="733.91" r="1.45"/>
<circle cx="447.47" cy="726.43" r="1.45"/>
<circle cx="450.45" cy="723.86" r="1.45"/>
<circle cx="453.31" cy="721.34" r="1.45"/>
<circle cx="456.26" cy="725.25" r="1.45"/>
<circle cx="459.18" cy="725.48" r="1.45"/>
<circle cx="461.92" cy="729.47" r="1.45"/>
<circle cx="464.83" cy="733.7" r="1.45"/>
<circle cx="467.78" cy="736.42" r="1.45"/>
<circle cx="470.51" cy="734.08" r="1.45"/>
<circle cx="473.05" cy="737.71" r="1.45"/>
<circle cx="475.71" cy="738.92" r="1.45"/>
<circle cx="478.85" cy="739.45" r="1.45"/>
<circle cx="481.66" cy="740.4" r="1.45"/>
<circle cx="484.37" cy="743.87" r="1.45"/>
<circle cx="487.31" cy="742.56" r="1.45"/>
<circle cx="490.39" cy="743.68" r="1.45"/>
<circle cx="493.08" cy="743.56" r="1.45"/>
<circle cx="495.73" cy="744.77" r="1.45"/>
<circle cx="498.42" cy="748.86" r="1.45"/>
<circle cx="501.59" cy="745.41" r="1.45"/>
<circle cx="504.49" cy="744.85" r="1.45"/>
<circle cx="507.04" cy="748.67" r="1.45"/>
<circle cx="510.04" cy="745.43" r="1.45"/>
<circle cx="512.74" cy="747.99" r="1.45"/>
<circle cx="515.71" cy="746.57" r="1.45"/>
<circle cx="518.37" cy="745.85" r="1.45"/>
<circle cx="521.38" cy="747.32" r="1.45"/>
<circle cx="524.19" cy="748.93" r="1.45"/>
<circle cx="526.72" cy="751.91" r="1.45"/>
<circle cx="529.51" cy="755.46" r="1.45"/>
<circle cx="532.27" cy="752.87" r="1.45"/>
<circle cx="535.31" cy="755.72" r="1.45"/>
<circle cx="537.88" cy="757.93" r="1.45"/>
<circle cx="541.03" cy="758.62" r="1.45"/>
<circle cx="543.88" cy="757.51" r="1.45"/>
<circle cx="546.29" cy="758.86" r="1.45"/>
<circle cx="549.6" cy="761.58" r="1.45"/>
<circle cx="552.08" cy="760.14" r="1.45"/>
<circle cx="554.89" cy="760.53" r="1.45"/>
<circle cx="558.12" cy="760.42" r="1.45"/>
<circle cx="560.77" cy="760.75" r="1.45"/>
<circle cx="563.27" cy="761.68" r="1.45"/>
<circle cx="566.38" cy="761.82" r="1.45"/>
<circle cx="569.45" cy="762.45" r="1.45"/>
<circle cx="572.24" cy="763.17" r="1.45"/>
<circle cx="574.6" cy="763.91" r="1.45"/>
<circle cx="577.55" cy="765.07" r="1.45"/>
<circle cx="580.56" cy="765.25" r="1.45"/>
<circle cx="583.03" cy="764.48" r="1.45"/>
<circle cx="585.84" cy="765.93" r="1.45"/>
<circle cx="588.76" cy="765.97" r="1.45"/>
<circle cx="591.49" cy="765.77" r="1.45"/>
<circle cx="594.67" cy="767.63" r="1.45"/>
<circle cx="597.31" cy="768.03" r="1.45"/>
<circle cx="599.99" cy="765.76" r="1.45"/>
<circle cx="603.29" cy="766.36" r="1.45"/>
<circle cx="605.73" cy="767.64" r="1.45"/>
<circle cx="608.92" cy="766.77" r="1.45"/>
<circle cx="611.3" cy="767.33" r="1.45"/>
<circle cx="614.51" cy="768.63" r="1.45"/>
<circle cx="616.99" cy="767.82" r="1.45"/>
<circle cx="620.19" cy="769.51" r="1.45"/>
<circle cx="622.8" cy="768.28" r="1.45"/>
<circle cx="625.79" cy="769.4" r="1.45"/>
<circle cx="628.23" cy="768.96" r="1.45"/>
<circle cx="631.16" cy="769.2" r="1.45"/>
<circle cx="633.83" cy="768.76" r="1.45"/>
<circle cx="636.89" cy="769.85" r="1.45"/>
<circle cx="640.01" cy="770.13" r="1.45"/>
<circle cx="642.5" cy="770.04" r="1.45"/>
<circle cx="645.43" cy="771.12" r="1.45"/>
<circle cx="648.49" cy="771.75" r="1.45"/>
<circle cx="651.29" cy="772.2" r="1.45"/>
<circle cx="653.75" cy="772" r="1.45"/>
<circle cx="656.57" cy="772.7" r="1.45"/>
</g>
<path d="M419.54 774.3 L420.95 774.3 L422.36 774.3 L423.77 773.7 L425.18 772.58 L426.6 771.98 L428.01 769.57 L429.42 765.11 L430.83 762.7 L432.24 760.71 L433.65 756.32 L435.06 751.93 L436.48 749.94 L437.89 748.13 L439.3 744.14 L440.71 740.15 L442.12 738.34 L443.53 736.53 L444.95 732.54 L446.36 728.55 L447.77 726.74 L449.18 725.65 L450.59 723.26 L452 720.87 L453.41 719.78 L454.83 720.08 L456.24 720.64 L457.65 720.94 L459.06 721.6 L460.47 723.29 L461.88 725.55 L463.29 727.95 L464.71 730.03 L466.12 731.36 L467.53 731.65 L468.94 732.04 L470.35 732.76 L471.76 733.69 L473.18 734.72 L474.59 735.72 L476 736.58 L477.41 737.18 L478.82 737.41 L480.23 737.58 L481.64 738.03 L483.06 738.66 L484.47 739.38 L485.88 740.11 L487.29 740.74 L488.7 741.19 L490.11 741.36 L491.52 741.53 L492.94 741.97 L494.35 742.56 L495.76 743.18 L497.17 743.73 L498.58 744.08 L499.99 744.15 L501.41 744.27 L502.82 744.48 L504.23 744.75 L505.64 745.03 L507.05 745.28 L508.46 745.46 L509.87 745.53 L511.29 745.68 L512.7 746 L514.11 746.31 L515.52 746.46 L516.93 746.62 L518.34 747.07 L519.75 747.73 L521.17 748.55 L522.58 749.47 L523.99 750.41 L525.4 751.33 L526.81 752.15 L528.22 752.81 L529.63 753.26 L531.05 753.42 L532.46 753.56 L533.87 753.95 L535.28 754.5 L536.69 755.16 L538.1 755.85 L539.52 756.51 L540.93 757.07 L542.34 757.45 L543.75 757.6 L545.16 757.69 L546.57 757.93 L547.98 758.3 L549.4 758.74 L550.81 759.22 L552.22 759.7 L553.63 760.14 L555.04 760.51 L556.45 760.75 L557.87 760.84 L559.28 760.89 L560.69 761.02 L562.1 761.23 L563.51 761.49 L564.92 761.79 L566.33 762.12 L567.75 762.47 L569.16 762.81 L570.57 763.15 L571.98 763.45 L573.39 763.71 L574.8 763.91 L576.21 764.04 L577.63 764.09 L579.04 764.13 L580.45 764.22 L581.86 764.37 L583.27 764.55 L584.68 764.77 L586.1 765.01 L587.51 765.25 L588.92 765.5 L590.33 765.74 L591.74 765.95 L593.15 766.14 L594.56 766.28 L595.98 766.38 L597.39 766.41 L598.8 766.43 L600.21 766.48 L601.62 766.57 L603.03 766.68 L604.44 766.81 L605.86 766.95 L607.27 767.11 L608.68 767.28 L610.09 767.46 L611.5 767.63 L612.91 767.8 L614.33 767.96 L615.74 768.11 L617.15 768.24 L618.56 768.35 L619.97 768.43 L621.38 768.48 L622.79 768.5 L624.21 768.53 L625.62 768.6 L627.03 768.72 L628.44 768.87 L629.85 769.04 L631.26 769.23 L632.67 769.43 L634.09 769.63 L635.5 769.81 L636.91 769.99 L638.32 770.14 L639.73 770.25 L641.14 770.33 L642.56 770.36 L643.97 770.45 L645.38 770.68 L646.79 771.02 L648.2 771.4 L649.61 771.78 L651.02 772.12 L652.44 772.35 L653.85 772.44 L655.26 772.79 L656.67 773.14" fill="none" stroke="#111" stroke-width="1"/>
<line x1="390" y1="778.3" x2="670.6" y2="778.3" stroke="#222" stroke-width="1.3"/>
<text x="496.1" y="719.3" font-size="12.3">URT1<tspan font-size="7.2" dx="0.6" dy="-4.6">D491/3A</tspan></text>
<circle cx="648.3" cy="743.5" r="15.35" fill="#d7d7d7"/>
<path d="M648.3 743.5 L648.3 728.15 A15.35 15.35 0 0 1 655.01 729.69 Z" fill="#c0201f" stroke="#fff" stroke-width="0.4"/>
<text x="640.8" y="723.1" font-size="10.9" fill="#c0282d">7.2% (a)</text>
<line x1="402.6" y1="778.3" x2="402.6" y2="781.5" stroke="#222" stroke-width="0.8"/>
<text x="403" y="790.9" font-size="8.9" text-anchor="end" fill="#222">0</text>
<line x1="416.72" y1="778.3" x2="416.72" y2="781.5" stroke="#222" stroke-width="0.8"/>
<line x1="430.83" y1="778.3" x2="430.83" y2="781.5" stroke="#222" stroke-width="0.8"/>
<text x="431.23" y="790.9" font-size="8.9" text-anchor="end" fill="#222">10</text>
<line x1="444.95" y1="778.3" x2="444.95" y2="781.5" stroke="#222" stroke-width="0.8"/>
<line x1="459.06" y1="778.3" x2="459.06" y2="781.5" stroke="#222" stroke-width="0.8"/>
<text x="459.46" y="790.9" font-size="8.9" text-anchor="end" fill="#222">20</text>
<line x1="473.18" y1="778.3" x2="473.18" y2="781.5" stroke="#222" stroke-width="0.8"/>
<line x1="487.29" y1="778.3" x2="487.29" y2="781.5" stroke="#222" stroke-width="0.8"/>
<text x="487.69" y="790.9" font-size="8.9" text-anchor="end" fill="#222">30</text>
<line x1="501.41" y1="778.3" x2="501.41" y2="781.5" stroke="#222" stroke-width="0.8"/>
<line x1="515.52" y1="778.3" x2="515.52" y2="781.5" stroke="#222" stroke-width="0.8"/>
<text x="515.92" y="790.9" font-size="8.9" text-anchor="end" fill="#222">40</text>
<line x1="529.63" y1="778.3" x2="529.63" y2="781.5" stroke="#222" stroke-width="0.8"/>
<line x1="543.75" y1="778.3" x2="543.75" y2="781.5" stroke="#222" stroke-width="0.8"/>
<text x="544.15" y="790.9" font-size="8.9" text-anchor="end" fill="#222">50</text>
<line x1="557.87" y1="778.3" x2="557.87" y2="781.5" stroke="#222" stroke-width="0.8"/>
<line x1="571.98" y1="778.3" x2="571.98" y2="781.5" stroke="#222" stroke-width="0.8"/>
<text x="572.38" y="790.9" font-size="8.9" text-anchor="end" fill="#222">60</text>
<line x1="586.1" y1="778.3" x2="586.1" y2="781.5" stroke="#222" stroke-width="0.8"/>
<line x1="600.21" y1="778.3" x2="600.21" y2="781.5" stroke="#222" stroke-width="0.8"/>
<text x="600.61" y="790.9" font-size="8.9" text-anchor="end" fill="#222">70</text>
<line x1="614.33" y1="778.3" x2="614.33" y2="781.5" stroke="#222" stroke-width="0.8"/>
<line x1="628.44" y1="778.3" x2="628.44" y2="781.5" stroke="#222" stroke-width="0.8"/>
<text x="628.84" y="790.9" font-size="8.9" text-anchor="end" fill="#222">80</text>
<line x1="642.56" y1="778.3" x2="642.56" y2="781.5" stroke="#222" stroke-width="0.8"/>
<line x1="656.67" y1="778.3" x2="656.67" y2="781.5" stroke="#222" stroke-width="0.8"/>
<text x="657.07" y="790.9" font-size="8.9" text-anchor="end" fill="#222">90</text>
<text x="600.5" y="803.4" font-size="11.2">Tail size (nt)</text>
<circle cx="399.6" cy="555" r="2.8" fill="#6b3f80"/>
<text x="403.7" y="558.2" font-size="9.6">1</text>
<circle cx="399.6" cy="564.4" r="2.8" fill="#6e65a8"/>
<text x="403.7" y="567.6" font-size="9.6">2</text>
<circle cx="399.6" cy="573.8" r="2.8" fill="#4f8ca3"/>
<text x="403.7" y="577" font-size="9.6">3</text>
<circle cx="399.6" cy="583.2" r="2.8" fill="#5bc4a6"/>
<text x="403.7" y="586.4" font-size="9.6">4</text>
<circle cx="399.6" cy="592.6" r="2.8" fill="#9bd45a"/>
<text x="403.7" y="595.8" font-size="9.6">5</text>
<circle cx="399.6" cy="602" r="2.8" fill="#f9dd3e"/>
<text x="403.7" y="605.2" font-size="9.6">6</text>
</svg></body></html>
